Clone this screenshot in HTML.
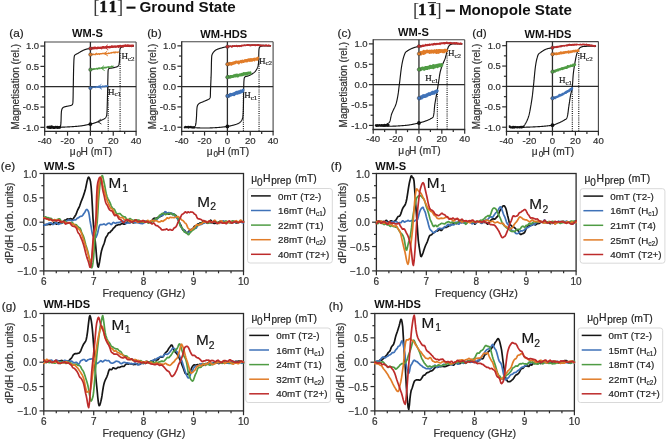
<!DOCTYPE html><html><head><meta charset="utf-8"><style>html,body{margin:0;padding:0;background:#fff;}svg{display:block;will-change:transform;filter:blur(0.3px)} text:not([font-weight="bold"]):not([font-family*="Serif"]){stroke:#2a2a2a;stroke-width:0.2px}</style></head><body><svg width="666" height="440" viewBox="0 0 666 440">
<rect width="666" height="440" fill="#fff"/>
<text x="93.30" y="13.10" font-family='"Liberation Serif", serif' font-size="18.5" fill="#3a3a3a">[</text>
<text x="99.60" y="12.40" font-family='"Liberation Serif", serif' font-weight="bold" font-size="16" fill="#111" stroke="#111" stroke-width="0.55">1</text>
<text x="108.80" y="12.40" font-family='"Liberation Serif", serif' font-weight="bold" font-size="16" fill="#111" stroke="#111" stroke-width="0.55">1</text>
<text x="117.10" y="13.10" font-family='"Liberation Serif", serif' font-size="18.5" fill="#3a3a3a">]</text>
<rect x="126.50" y="6.60" width="9" height="2.1" fill="#111"/>
<text x="139.50" y="12.00" font-family='"Liberation Sans", sans-serif' font-weight="bold" font-size="15.2" fill="#111">Ground State</text>
<text x="413.00" y="15.70" font-family='"Liberation Serif", serif' font-size="18.5" fill="#3a3a3a">[</text>
<text x="418.30" y="15.00" font-family='"Liberation Serif", serif' font-weight="bold" font-size="16" fill="#111" stroke="#111" stroke-width="0.55">1</text>
<text x="428.60" y="15.00" font-family='"Liberation Serif", serif' font-weight="bold" font-size="16" fill="#111" stroke="#111" stroke-width="0.55">1</text>
<text x="435.60" y="15.70" font-family='"Liberation Serif", serif' font-size="18.5" fill="#3a3a3a">]</text>
<rect x="445.90" y="9.60" width="9" height="2.1" fill="#111"/>
<text x="458.90" y="14.60" font-family='"Liberation Sans", sans-serif' font-weight="bold" font-size="15.2" fill="#111">Monopole State</text>
<line x1="427.80" y1="2.60" x2="436.00" y2="2.60" stroke="#333" stroke-width="1.1" />
<line x1="44.70" y1="42.00" x2="136.10" y2="42.00" stroke="#444" stroke-width="1.1" />
<line x1="136.10" y1="42.00" x2="136.10" y2="131.40" stroke="#444" stroke-width="1.1" />
<line x1="44.70" y1="41.45" x2="44.70" y2="132.00" stroke="#2b2b2b" stroke-width="1.3" />
<line x1="44.10" y1="131.40" x2="136.60" y2="131.40" stroke="#2b2b2b" stroke-width="1.3" />
<line x1="44.70" y1="86.70" x2="136.10" y2="86.70" stroke="#2b2b2b" stroke-width="1.3" />
<line x1="90.40" y1="42.00" x2="90.40" y2="131.40" stroke="#2b2b2b" stroke-width="1.3" />
<line x1="40.40" y1="127.34" x2="44.70" y2="127.34" stroke="#2b2b2b" stroke-width="1.2" />
<line x1="42.10" y1="117.18" x2="44.70" y2="117.18" stroke="#2b2b2b" stroke-width="1.2" />
<line x1="40.40" y1="107.02" x2="44.70" y2="107.02" stroke="#2b2b2b" stroke-width="1.2" />
<line x1="42.10" y1="96.86" x2="44.70" y2="96.86" stroke="#2b2b2b" stroke-width="1.2" />
<line x1="40.40" y1="86.70" x2="44.70" y2="86.70" stroke="#2b2b2b" stroke-width="1.2" />
<line x1="42.10" y1="76.54" x2="44.70" y2="76.54" stroke="#2b2b2b" stroke-width="1.2" />
<line x1="40.40" y1="66.38" x2="44.70" y2="66.38" stroke="#2b2b2b" stroke-width="1.2" />
<line x1="42.10" y1="56.22" x2="44.70" y2="56.22" stroke="#2b2b2b" stroke-width="1.2" />
<line x1="40.40" y1="46.06" x2="44.70" y2="46.06" stroke="#2b2b2b" stroke-width="1.2" />
<line x1="44.70" y1="131.40" x2="44.70" y2="135.70" stroke="#2b2b2b" stroke-width="1.2" />
<line x1="56.12" y1="131.40" x2="56.12" y2="134.00" stroke="#2b2b2b" stroke-width="1.2" />
<line x1="67.55" y1="131.40" x2="67.55" y2="135.70" stroke="#2b2b2b" stroke-width="1.2" />
<line x1="78.97" y1="131.40" x2="78.97" y2="134.00" stroke="#2b2b2b" stroke-width="1.2" />
<line x1="90.40" y1="131.40" x2="90.40" y2="135.70" stroke="#2b2b2b" stroke-width="1.2" />
<line x1="101.82" y1="131.40" x2="101.82" y2="134.00" stroke="#2b2b2b" stroke-width="1.2" />
<line x1="113.25" y1="131.40" x2="113.25" y2="135.70" stroke="#2b2b2b" stroke-width="1.2" />
<line x1="124.67" y1="131.40" x2="124.67" y2="134.00" stroke="#2b2b2b" stroke-width="1.2" />
<line x1="136.10" y1="131.40" x2="136.10" y2="135.70" stroke="#2b2b2b" stroke-width="1.2" />
<text x="39.10" y="49.46" font-family='"Liberation Sans", sans-serif' font-size="9.5" font-weight="normal" text-anchor="end" fill="#333" >1.0</text>
<text x="39.10" y="69.78" font-family='"Liberation Sans", sans-serif' font-size="9.5" font-weight="normal" text-anchor="end" fill="#333" >0.5</text>
<text x="39.10" y="90.10" font-family='"Liberation Sans", sans-serif' font-size="9.5" font-weight="normal" text-anchor="end" fill="#333" >0.0</text>
<text x="39.10" y="110.42" font-family='"Liberation Sans", sans-serif' font-size="9.5" font-weight="normal" text-anchor="end" fill="#333" >-0.5</text>
<text x="39.10" y="130.74" font-family='"Liberation Sans", sans-serif' font-size="9.5" font-weight="normal" text-anchor="end" fill="#333" >-1.0</text>
<text x="44.70" y="144.10" font-family='"Liberation Sans", sans-serif' font-size="9.6" font-weight="normal" text-anchor="middle" fill="#333" >-40</text>
<text x="67.55" y="144.10" font-family='"Liberation Sans", sans-serif' font-size="9.6" font-weight="normal" text-anchor="middle" fill="#333" >-20</text>
<text x="90.40" y="144.10" font-family='"Liberation Sans", sans-serif' font-size="9.6" font-weight="normal" text-anchor="middle" fill="#333" >0</text>
<text x="113.25" y="144.10" font-family='"Liberation Sans", sans-serif' font-size="9.6" font-weight="normal" text-anchor="middle" fill="#333" >20</text>
<text x="136.10" y="144.10" font-family='"Liberation Sans", sans-serif' font-size="9.6" font-weight="normal" text-anchor="middle" fill="#333" >40</text>
<text x="69.70" y="155.40" font-family='"Liberation Sans", sans-serif' font-size="10.2" fill="#333">μ</text>
<text x="76.60" y="157.40" font-family='"Liberation Sans", sans-serif' font-size="8.2" fill="#333">0</text>
<text x="80.50" y="155.40" font-family='"Liberation Sans", sans-serif' font-size="10.2" fill="#333">H (mT)</text>
<text transform="translate(18.60,86.70) rotate(-90)" font-family='"Liberation Sans", sans-serif' font-size="10" text-anchor="middle" fill="#333">Magnetisation (rel.)</text>
<line x1="181.70" y1="41.80" x2="273.10" y2="41.80" stroke="#444" stroke-width="1.1" />
<line x1="273.10" y1="41.80" x2="273.10" y2="131.30" stroke="#444" stroke-width="1.1" />
<line x1="181.70" y1="41.25" x2="181.70" y2="131.90" stroke="#2b2b2b" stroke-width="1.3" />
<line x1="181.10" y1="131.30" x2="273.60" y2="131.30" stroke="#2b2b2b" stroke-width="1.3" />
<line x1="181.70" y1="86.55" x2="273.10" y2="86.55" stroke="#2b2b2b" stroke-width="1.3" />
<line x1="227.40" y1="41.80" x2="227.40" y2="131.30" stroke="#2b2b2b" stroke-width="1.3" />
<line x1="177.40" y1="127.23" x2="181.70" y2="127.23" stroke="#2b2b2b" stroke-width="1.2" />
<line x1="179.10" y1="117.06" x2="181.70" y2="117.06" stroke="#2b2b2b" stroke-width="1.2" />
<line x1="177.40" y1="106.89" x2="181.70" y2="106.89" stroke="#2b2b2b" stroke-width="1.2" />
<line x1="179.10" y1="96.72" x2="181.70" y2="96.72" stroke="#2b2b2b" stroke-width="1.2" />
<line x1="177.40" y1="86.55" x2="181.70" y2="86.55" stroke="#2b2b2b" stroke-width="1.2" />
<line x1="179.10" y1="76.38" x2="181.70" y2="76.38" stroke="#2b2b2b" stroke-width="1.2" />
<line x1="177.40" y1="66.21" x2="181.70" y2="66.21" stroke="#2b2b2b" stroke-width="1.2" />
<line x1="179.10" y1="56.04" x2="181.70" y2="56.04" stroke="#2b2b2b" stroke-width="1.2" />
<line x1="177.40" y1="45.87" x2="181.70" y2="45.87" stroke="#2b2b2b" stroke-width="1.2" />
<line x1="181.70" y1="131.30" x2="181.70" y2="135.60" stroke="#2b2b2b" stroke-width="1.2" />
<line x1="193.12" y1="131.30" x2="193.12" y2="133.90" stroke="#2b2b2b" stroke-width="1.2" />
<line x1="204.55" y1="131.30" x2="204.55" y2="135.60" stroke="#2b2b2b" stroke-width="1.2" />
<line x1="215.97" y1="131.30" x2="215.97" y2="133.90" stroke="#2b2b2b" stroke-width="1.2" />
<line x1="227.40" y1="131.30" x2="227.40" y2="135.60" stroke="#2b2b2b" stroke-width="1.2" />
<line x1="238.83" y1="131.30" x2="238.83" y2="133.90" stroke="#2b2b2b" stroke-width="1.2" />
<line x1="250.25" y1="131.30" x2="250.25" y2="135.60" stroke="#2b2b2b" stroke-width="1.2" />
<line x1="261.68" y1="131.30" x2="261.68" y2="133.90" stroke="#2b2b2b" stroke-width="1.2" />
<line x1="273.10" y1="131.30" x2="273.10" y2="135.60" stroke="#2b2b2b" stroke-width="1.2" />
<text x="176.10" y="49.27" font-family='"Liberation Sans", sans-serif' font-size="9.5" font-weight="normal" text-anchor="end" fill="#333" >1.0</text>
<text x="176.10" y="69.61" font-family='"Liberation Sans", sans-serif' font-size="9.5" font-weight="normal" text-anchor="end" fill="#333" >0.5</text>
<text x="176.10" y="89.95" font-family='"Liberation Sans", sans-serif' font-size="9.5" font-weight="normal" text-anchor="end" fill="#333" >0.0</text>
<text x="176.10" y="110.29" font-family='"Liberation Sans", sans-serif' font-size="9.5" font-weight="normal" text-anchor="end" fill="#333" >-0.5</text>
<text x="176.10" y="130.63" font-family='"Liberation Sans", sans-serif' font-size="9.5" font-weight="normal" text-anchor="end" fill="#333" >-1.0</text>
<text x="181.70" y="144.00" font-family='"Liberation Sans", sans-serif' font-size="9.6" font-weight="normal" text-anchor="middle" fill="#333" >-40</text>
<text x="204.55" y="144.00" font-family='"Liberation Sans", sans-serif' font-size="9.6" font-weight="normal" text-anchor="middle" fill="#333" >-20</text>
<text x="227.40" y="144.00" font-family='"Liberation Sans", sans-serif' font-size="9.6" font-weight="normal" text-anchor="middle" fill="#333" >0</text>
<text x="250.25" y="144.00" font-family='"Liberation Sans", sans-serif' font-size="9.6" font-weight="normal" text-anchor="middle" fill="#333" >20</text>
<text x="273.10" y="144.00" font-family='"Liberation Sans", sans-serif' font-size="9.6" font-weight="normal" text-anchor="middle" fill="#333" >40</text>
<text x="206.70" y="155.30" font-family='"Liberation Sans", sans-serif' font-size="10.2" fill="#333">μ</text>
<text x="213.60" y="157.30" font-family='"Liberation Sans", sans-serif' font-size="8.2" fill="#333">0</text>
<text x="217.50" y="155.30" font-family='"Liberation Sans", sans-serif' font-size="10.2" fill="#333">H (mT)</text>
<text transform="translate(155.60,86.55) rotate(-90)" font-family='"Liberation Sans", sans-serif' font-size="10" text-anchor="middle" fill="#333">Magnetisation (rel.)</text>
<line x1="373.20" y1="39.80" x2="464.70" y2="39.80" stroke="#444" stroke-width="1.1" />
<line x1="464.70" y1="39.80" x2="464.70" y2="129.50" stroke="#444" stroke-width="1.1" />
<line x1="373.20" y1="39.25" x2="373.20" y2="130.10" stroke="#2b2b2b" stroke-width="1.3" />
<line x1="372.60" y1="129.50" x2="465.20" y2="129.50" stroke="#2b2b2b" stroke-width="1.3" />
<line x1="373.20" y1="84.65" x2="464.70" y2="84.65" stroke="#2b2b2b" stroke-width="1.3" />
<line x1="418.95" y1="39.80" x2="418.95" y2="129.50" stroke="#2b2b2b" stroke-width="1.3" />
<line x1="368.90" y1="125.42" x2="373.20" y2="125.42" stroke="#2b2b2b" stroke-width="1.2" />
<line x1="370.60" y1="115.23" x2="373.20" y2="115.23" stroke="#2b2b2b" stroke-width="1.2" />
<line x1="368.90" y1="105.04" x2="373.20" y2="105.04" stroke="#2b2b2b" stroke-width="1.2" />
<line x1="370.60" y1="94.84" x2="373.20" y2="94.84" stroke="#2b2b2b" stroke-width="1.2" />
<line x1="368.90" y1="84.65" x2="373.20" y2="84.65" stroke="#2b2b2b" stroke-width="1.2" />
<line x1="370.60" y1="74.46" x2="373.20" y2="74.46" stroke="#2b2b2b" stroke-width="1.2" />
<line x1="368.90" y1="64.26" x2="373.20" y2="64.26" stroke="#2b2b2b" stroke-width="1.2" />
<line x1="370.60" y1="54.07" x2="373.20" y2="54.07" stroke="#2b2b2b" stroke-width="1.2" />
<line x1="368.90" y1="43.88" x2="373.20" y2="43.88" stroke="#2b2b2b" stroke-width="1.2" />
<line x1="373.20" y1="129.50" x2="373.20" y2="133.80" stroke="#2b2b2b" stroke-width="1.2" />
<line x1="384.64" y1="129.50" x2="384.64" y2="132.10" stroke="#2b2b2b" stroke-width="1.2" />
<line x1="396.07" y1="129.50" x2="396.07" y2="133.80" stroke="#2b2b2b" stroke-width="1.2" />
<line x1="407.51" y1="129.50" x2="407.51" y2="132.10" stroke="#2b2b2b" stroke-width="1.2" />
<line x1="418.95" y1="129.50" x2="418.95" y2="133.80" stroke="#2b2b2b" stroke-width="1.2" />
<line x1="430.39" y1="129.50" x2="430.39" y2="132.10" stroke="#2b2b2b" stroke-width="1.2" />
<line x1="441.82" y1="129.50" x2="441.82" y2="133.80" stroke="#2b2b2b" stroke-width="1.2" />
<line x1="453.26" y1="129.50" x2="453.26" y2="132.10" stroke="#2b2b2b" stroke-width="1.2" />
<line x1="464.70" y1="129.50" x2="464.70" y2="133.80" stroke="#2b2b2b" stroke-width="1.2" />
<text x="367.60" y="47.28" font-family='"Liberation Sans", sans-serif' font-size="9.5" font-weight="normal" text-anchor="end" fill="#333" >1.0</text>
<text x="367.60" y="67.66" font-family='"Liberation Sans", sans-serif' font-size="9.5" font-weight="normal" text-anchor="end" fill="#333" >0.5</text>
<text x="367.60" y="88.05" font-family='"Liberation Sans", sans-serif' font-size="9.5" font-weight="normal" text-anchor="end" fill="#333" >0.0</text>
<text x="367.60" y="108.44" font-family='"Liberation Sans", sans-serif' font-size="9.5" font-weight="normal" text-anchor="end" fill="#333" >-0.5</text>
<text x="367.60" y="128.82" font-family='"Liberation Sans", sans-serif' font-size="9.5" font-weight="normal" text-anchor="end" fill="#333" >-1.0</text>
<text x="373.20" y="142.20" font-family='"Liberation Sans", sans-serif' font-size="9.6" font-weight="normal" text-anchor="middle" fill="#333" >-40</text>
<text x="396.07" y="142.20" font-family='"Liberation Sans", sans-serif' font-size="9.6" font-weight="normal" text-anchor="middle" fill="#333" >-20</text>
<text x="418.95" y="142.20" font-family='"Liberation Sans", sans-serif' font-size="9.6" font-weight="normal" text-anchor="middle" fill="#333" >0</text>
<text x="441.82" y="142.20" font-family='"Liberation Sans", sans-serif' font-size="9.6" font-weight="normal" text-anchor="middle" fill="#333" >20</text>
<text x="464.70" y="142.20" font-family='"Liberation Sans", sans-serif' font-size="9.6" font-weight="normal" text-anchor="middle" fill="#333" >40</text>
<text x="398.25" y="153.50" font-family='"Liberation Sans", sans-serif' font-size="10.2" fill="#333">μ</text>
<text x="405.15" y="155.50" font-family='"Liberation Sans", sans-serif' font-size="8.2" fill="#333">0</text>
<text x="409.05" y="153.50" font-family='"Liberation Sans", sans-serif' font-size="10.2" fill="#333">H (mT)</text>
<text transform="translate(347.10,84.65) rotate(-90)" font-family='"Liberation Sans", sans-serif' font-size="10" text-anchor="middle" fill="#333">Magnetisation (rel.)</text>
<line x1="506.50" y1="41.60" x2="598.40" y2="41.60" stroke="#444" stroke-width="1.1" />
<line x1="598.40" y1="41.60" x2="598.40" y2="131.30" stroke="#444" stroke-width="1.1" />
<line x1="506.50" y1="41.05" x2="506.50" y2="131.90" stroke="#2b2b2b" stroke-width="1.3" />
<line x1="505.90" y1="131.30" x2="598.90" y2="131.30" stroke="#2b2b2b" stroke-width="1.3" />
<line x1="506.50" y1="86.45" x2="598.40" y2="86.45" stroke="#2b2b2b" stroke-width="1.3" />
<line x1="552.45" y1="41.60" x2="552.45" y2="131.30" stroke="#2b2b2b" stroke-width="1.3" />
<line x1="502.20" y1="127.22" x2="506.50" y2="127.22" stroke="#2b2b2b" stroke-width="1.2" />
<line x1="503.90" y1="117.03" x2="506.50" y2="117.03" stroke="#2b2b2b" stroke-width="1.2" />
<line x1="502.20" y1="106.84" x2="506.50" y2="106.84" stroke="#2b2b2b" stroke-width="1.2" />
<line x1="503.90" y1="96.64" x2="506.50" y2="96.64" stroke="#2b2b2b" stroke-width="1.2" />
<line x1="502.20" y1="86.45" x2="506.50" y2="86.45" stroke="#2b2b2b" stroke-width="1.2" />
<line x1="503.90" y1="76.26" x2="506.50" y2="76.26" stroke="#2b2b2b" stroke-width="1.2" />
<line x1="502.20" y1="66.06" x2="506.50" y2="66.06" stroke="#2b2b2b" stroke-width="1.2" />
<line x1="503.90" y1="55.87" x2="506.50" y2="55.87" stroke="#2b2b2b" stroke-width="1.2" />
<line x1="502.20" y1="45.68" x2="506.50" y2="45.68" stroke="#2b2b2b" stroke-width="1.2" />
<line x1="506.50" y1="131.30" x2="506.50" y2="135.60" stroke="#2b2b2b" stroke-width="1.2" />
<line x1="517.99" y1="131.30" x2="517.99" y2="133.90" stroke="#2b2b2b" stroke-width="1.2" />
<line x1="529.48" y1="131.30" x2="529.48" y2="135.60" stroke="#2b2b2b" stroke-width="1.2" />
<line x1="540.96" y1="131.30" x2="540.96" y2="133.90" stroke="#2b2b2b" stroke-width="1.2" />
<line x1="552.45" y1="131.30" x2="552.45" y2="135.60" stroke="#2b2b2b" stroke-width="1.2" />
<line x1="563.94" y1="131.30" x2="563.94" y2="133.90" stroke="#2b2b2b" stroke-width="1.2" />
<line x1="575.42" y1="131.30" x2="575.42" y2="135.60" stroke="#2b2b2b" stroke-width="1.2" />
<line x1="586.91" y1="131.30" x2="586.91" y2="133.90" stroke="#2b2b2b" stroke-width="1.2" />
<line x1="598.40" y1="131.30" x2="598.40" y2="135.60" stroke="#2b2b2b" stroke-width="1.2" />
<text x="500.90" y="49.08" font-family='"Liberation Sans", sans-serif' font-size="9.5" font-weight="normal" text-anchor="end" fill="#333" >1.0</text>
<text x="500.90" y="69.46" font-family='"Liberation Sans", sans-serif' font-size="9.5" font-weight="normal" text-anchor="end" fill="#333" >0.5</text>
<text x="500.90" y="89.85" font-family='"Liberation Sans", sans-serif' font-size="9.5" font-weight="normal" text-anchor="end" fill="#333" >0.0</text>
<text x="500.90" y="110.24" font-family='"Liberation Sans", sans-serif' font-size="9.5" font-weight="normal" text-anchor="end" fill="#333" >-0.5</text>
<text x="500.90" y="130.62" font-family='"Liberation Sans", sans-serif' font-size="9.5" font-weight="normal" text-anchor="end" fill="#333" >-1.0</text>
<text x="506.50" y="144.00" font-family='"Liberation Sans", sans-serif' font-size="9.6" font-weight="normal" text-anchor="middle" fill="#333" >-40</text>
<text x="529.48" y="144.00" font-family='"Liberation Sans", sans-serif' font-size="9.6" font-weight="normal" text-anchor="middle" fill="#333" >-20</text>
<text x="552.45" y="144.00" font-family='"Liberation Sans", sans-serif' font-size="9.6" font-weight="normal" text-anchor="middle" fill="#333" >0</text>
<text x="575.42" y="144.00" font-family='"Liberation Sans", sans-serif' font-size="9.6" font-weight="normal" text-anchor="middle" fill="#333" >20</text>
<text x="598.40" y="144.00" font-family='"Liberation Sans", sans-serif' font-size="9.6" font-weight="normal" text-anchor="middle" fill="#333" >40</text>
<text x="531.75" y="155.30" font-family='"Liberation Sans", sans-serif' font-size="10.2" fill="#333">μ</text>
<text x="538.65" y="157.30" font-family='"Liberation Sans", sans-serif' font-size="8.2" fill="#333">0</text>
<text x="542.55" y="155.30" font-family='"Liberation Sans", sans-serif' font-size="10.2" fill="#333">H (mT)</text>
<text transform="translate(480.40,86.45) rotate(-90)" font-family='"Liberation Sans", sans-serif' font-size="10" text-anchor="middle" fill="#333">Magnetisation (rel.)</text>
<rect x="43.80" y="173.50" width="199.70" height="97.40" fill="none" stroke="#2b2b2b" stroke-width="1.3"/>
<line x1="39.50" y1="270.90" x2="43.80" y2="270.90" stroke="#2b2b2b" stroke-width="1.2" />
<line x1="41.40" y1="258.72" x2="43.80" y2="258.72" stroke="#2b2b2b" stroke-width="1.2" />
<line x1="39.50" y1="246.55" x2="43.80" y2="246.55" stroke="#2b2b2b" stroke-width="1.2" />
<line x1="41.40" y1="234.38" x2="43.80" y2="234.38" stroke="#2b2b2b" stroke-width="1.2" />
<line x1="39.50" y1="222.20" x2="43.80" y2="222.20" stroke="#2b2b2b" stroke-width="1.2" />
<line x1="41.40" y1="210.02" x2="43.80" y2="210.02" stroke="#2b2b2b" stroke-width="1.2" />
<line x1="39.50" y1="197.85" x2="43.80" y2="197.85" stroke="#2b2b2b" stroke-width="1.2" />
<line x1="41.40" y1="185.68" x2="43.80" y2="185.68" stroke="#2b2b2b" stroke-width="1.2" />
<line x1="39.50" y1="173.50" x2="43.80" y2="173.50" stroke="#2b2b2b" stroke-width="1.2" />
<line x1="43.80" y1="270.90" x2="43.80" y2="275.20" stroke="#2b2b2b" stroke-width="1.2" />
<line x1="56.28" y1="270.90" x2="56.28" y2="273.30" stroke="#2b2b2b" stroke-width="1.2" />
<line x1="68.76" y1="270.90" x2="68.76" y2="273.30" stroke="#2b2b2b" stroke-width="1.2" />
<line x1="81.24" y1="270.90" x2="81.24" y2="273.30" stroke="#2b2b2b" stroke-width="1.2" />
<line x1="93.72" y1="270.90" x2="93.72" y2="275.20" stroke="#2b2b2b" stroke-width="1.2" />
<line x1="106.21" y1="270.90" x2="106.21" y2="273.30" stroke="#2b2b2b" stroke-width="1.2" />
<line x1="118.69" y1="270.90" x2="118.69" y2="273.30" stroke="#2b2b2b" stroke-width="1.2" />
<line x1="131.17" y1="270.90" x2="131.17" y2="273.30" stroke="#2b2b2b" stroke-width="1.2" />
<line x1="143.65" y1="270.90" x2="143.65" y2="275.20" stroke="#2b2b2b" stroke-width="1.2" />
<line x1="156.13" y1="270.90" x2="156.13" y2="273.30" stroke="#2b2b2b" stroke-width="1.2" />
<line x1="168.61" y1="270.90" x2="168.61" y2="273.30" stroke="#2b2b2b" stroke-width="1.2" />
<line x1="181.09" y1="270.90" x2="181.09" y2="273.30" stroke="#2b2b2b" stroke-width="1.2" />
<line x1="193.57" y1="270.90" x2="193.57" y2="275.20" stroke="#2b2b2b" stroke-width="1.2" />
<line x1="206.06" y1="270.90" x2="206.06" y2="273.30" stroke="#2b2b2b" stroke-width="1.2" />
<line x1="218.54" y1="270.90" x2="218.54" y2="273.30" stroke="#2b2b2b" stroke-width="1.2" />
<line x1="231.02" y1="270.90" x2="231.02" y2="273.30" stroke="#2b2b2b" stroke-width="1.2" />
<line x1="243.50" y1="270.90" x2="243.50" y2="275.20" stroke="#2b2b2b" stroke-width="1.2" />
<text x="37.20" y="177.50" font-family='"Liberation Sans", sans-serif' font-size="10" font-weight="normal" text-anchor="end" fill="#333" >1.0</text>
<text x="37.20" y="201.85" font-family='"Liberation Sans", sans-serif' font-size="10" font-weight="normal" text-anchor="end" fill="#333" >0.5</text>
<text x="37.20" y="226.20" font-family='"Liberation Sans", sans-serif' font-size="10" font-weight="normal" text-anchor="end" fill="#333" >0.0</text>
<text x="37.20" y="250.55" font-family='"Liberation Sans", sans-serif' font-size="10" font-weight="normal" text-anchor="end" fill="#333" >−0.5</text>
<text x="37.20" y="274.90" font-family='"Liberation Sans", sans-serif' font-size="10" font-weight="normal" text-anchor="end" fill="#333" >−1.0</text>
<text x="43.80" y="285.30" font-family='"Liberation Sans", sans-serif' font-size="10" font-weight="normal" text-anchor="middle" fill="#333" >6</text>
<text x="93.72" y="285.30" font-family='"Liberation Sans", sans-serif' font-size="10" font-weight="normal" text-anchor="middle" fill="#333" >7</text>
<text x="143.65" y="285.30" font-family='"Liberation Sans", sans-serif' font-size="10" font-weight="normal" text-anchor="middle" fill="#333" >8</text>
<text x="193.57" y="285.30" font-family='"Liberation Sans", sans-serif' font-size="10" font-weight="normal" text-anchor="middle" fill="#333" >9</text>
<text x="243.50" y="285.30" font-family='"Liberation Sans", sans-serif' font-size="10" font-weight="normal" text-anchor="middle" fill="#333" >10</text>
<text x="143.85" y="296.90" font-family='"Liberation Sans", sans-serif' font-size="10.8" font-weight="normal" text-anchor="middle" fill="#333" >Frequency (GHz)</text>
<text transform="translate(13.00,223.00) rotate(-90)" font-family='"Liberation Sans", sans-serif' font-size="10.35" text-anchor="middle" fill="#333">dP/dH (arb. units)</text>
<rect x="376.40" y="173.50" width="199.70" height="97.40" fill="none" stroke="#2b2b2b" stroke-width="1.3"/>
<line x1="372.10" y1="270.90" x2="376.40" y2="270.90" stroke="#2b2b2b" stroke-width="1.2" />
<line x1="374.00" y1="258.72" x2="376.40" y2="258.72" stroke="#2b2b2b" stroke-width="1.2" />
<line x1="372.10" y1="246.55" x2="376.40" y2="246.55" stroke="#2b2b2b" stroke-width="1.2" />
<line x1="374.00" y1="234.38" x2="376.40" y2="234.38" stroke="#2b2b2b" stroke-width="1.2" />
<line x1="372.10" y1="222.20" x2="376.40" y2="222.20" stroke="#2b2b2b" stroke-width="1.2" />
<line x1="374.00" y1="210.02" x2="376.40" y2="210.02" stroke="#2b2b2b" stroke-width="1.2" />
<line x1="372.10" y1="197.85" x2="376.40" y2="197.85" stroke="#2b2b2b" stroke-width="1.2" />
<line x1="374.00" y1="185.68" x2="376.40" y2="185.68" stroke="#2b2b2b" stroke-width="1.2" />
<line x1="372.10" y1="173.50" x2="376.40" y2="173.50" stroke="#2b2b2b" stroke-width="1.2" />
<line x1="376.40" y1="270.90" x2="376.40" y2="275.20" stroke="#2b2b2b" stroke-width="1.2" />
<line x1="388.88" y1="270.90" x2="388.88" y2="273.30" stroke="#2b2b2b" stroke-width="1.2" />
<line x1="401.36" y1="270.90" x2="401.36" y2="273.30" stroke="#2b2b2b" stroke-width="1.2" />
<line x1="413.84" y1="270.90" x2="413.84" y2="273.30" stroke="#2b2b2b" stroke-width="1.2" />
<line x1="426.32" y1="270.90" x2="426.32" y2="275.20" stroke="#2b2b2b" stroke-width="1.2" />
<line x1="438.81" y1="270.90" x2="438.81" y2="273.30" stroke="#2b2b2b" stroke-width="1.2" />
<line x1="451.29" y1="270.90" x2="451.29" y2="273.30" stroke="#2b2b2b" stroke-width="1.2" />
<line x1="463.77" y1="270.90" x2="463.77" y2="273.30" stroke="#2b2b2b" stroke-width="1.2" />
<line x1="476.25" y1="270.90" x2="476.25" y2="275.20" stroke="#2b2b2b" stroke-width="1.2" />
<line x1="488.73" y1="270.90" x2="488.73" y2="273.30" stroke="#2b2b2b" stroke-width="1.2" />
<line x1="501.21" y1="270.90" x2="501.21" y2="273.30" stroke="#2b2b2b" stroke-width="1.2" />
<line x1="513.69" y1="270.90" x2="513.69" y2="273.30" stroke="#2b2b2b" stroke-width="1.2" />
<line x1="526.17" y1="270.90" x2="526.17" y2="275.20" stroke="#2b2b2b" stroke-width="1.2" />
<line x1="538.66" y1="270.90" x2="538.66" y2="273.30" stroke="#2b2b2b" stroke-width="1.2" />
<line x1="551.14" y1="270.90" x2="551.14" y2="273.30" stroke="#2b2b2b" stroke-width="1.2" />
<line x1="563.62" y1="270.90" x2="563.62" y2="273.30" stroke="#2b2b2b" stroke-width="1.2" />
<line x1="576.10" y1="270.90" x2="576.10" y2="275.20" stroke="#2b2b2b" stroke-width="1.2" />
<text x="369.80" y="177.50" font-family='"Liberation Sans", sans-serif' font-size="10" font-weight="normal" text-anchor="end" fill="#333" >1.0</text>
<text x="369.80" y="201.85" font-family='"Liberation Sans", sans-serif' font-size="10" font-weight="normal" text-anchor="end" fill="#333" >0.5</text>
<text x="369.80" y="226.20" font-family='"Liberation Sans", sans-serif' font-size="10" font-weight="normal" text-anchor="end" fill="#333" >0.0</text>
<text x="369.80" y="250.55" font-family='"Liberation Sans", sans-serif' font-size="10" font-weight="normal" text-anchor="end" fill="#333" >−0.5</text>
<text x="369.80" y="274.90" font-family='"Liberation Sans", sans-serif' font-size="10" font-weight="normal" text-anchor="end" fill="#333" >−1.0</text>
<text x="376.40" y="285.30" font-family='"Liberation Sans", sans-serif' font-size="10" font-weight="normal" text-anchor="middle" fill="#333" >6</text>
<text x="426.32" y="285.30" font-family='"Liberation Sans", sans-serif' font-size="10" font-weight="normal" text-anchor="middle" fill="#333" >7</text>
<text x="476.25" y="285.30" font-family='"Liberation Sans", sans-serif' font-size="10" font-weight="normal" text-anchor="middle" fill="#333" >8</text>
<text x="526.17" y="285.30" font-family='"Liberation Sans", sans-serif' font-size="10" font-weight="normal" text-anchor="middle" fill="#333" >9</text>
<text x="576.10" y="285.30" font-family='"Liberation Sans", sans-serif' font-size="10" font-weight="normal" text-anchor="middle" fill="#333" >10</text>
<text x="476.45" y="296.90" font-family='"Liberation Sans", sans-serif' font-size="10.8" font-weight="normal" text-anchor="middle" fill="#333" >Frequency (GHz)</text>
<text transform="translate(345.60,223.00) rotate(-90)" font-family='"Liberation Sans", sans-serif' font-size="10.35" text-anchor="middle" fill="#333">dP/dH (arb. units)</text>
<rect x="43.80" y="313.50" width="199.70" height="97.40" fill="none" stroke="#2b2b2b" stroke-width="1.3"/>
<line x1="39.50" y1="410.90" x2="43.80" y2="410.90" stroke="#2b2b2b" stroke-width="1.2" />
<line x1="41.40" y1="398.72" x2="43.80" y2="398.72" stroke="#2b2b2b" stroke-width="1.2" />
<line x1="39.50" y1="386.55" x2="43.80" y2="386.55" stroke="#2b2b2b" stroke-width="1.2" />
<line x1="41.40" y1="374.38" x2="43.80" y2="374.38" stroke="#2b2b2b" stroke-width="1.2" />
<line x1="39.50" y1="362.20" x2="43.80" y2="362.20" stroke="#2b2b2b" stroke-width="1.2" />
<line x1="41.40" y1="350.02" x2="43.80" y2="350.02" stroke="#2b2b2b" stroke-width="1.2" />
<line x1="39.50" y1="337.85" x2="43.80" y2="337.85" stroke="#2b2b2b" stroke-width="1.2" />
<line x1="41.40" y1="325.68" x2="43.80" y2="325.68" stroke="#2b2b2b" stroke-width="1.2" />
<line x1="39.50" y1="313.50" x2="43.80" y2="313.50" stroke="#2b2b2b" stroke-width="1.2" />
<line x1="43.80" y1="410.90" x2="43.80" y2="415.20" stroke="#2b2b2b" stroke-width="1.2" />
<line x1="56.28" y1="410.90" x2="56.28" y2="413.30" stroke="#2b2b2b" stroke-width="1.2" />
<line x1="68.76" y1="410.90" x2="68.76" y2="413.30" stroke="#2b2b2b" stroke-width="1.2" />
<line x1="81.24" y1="410.90" x2="81.24" y2="413.30" stroke="#2b2b2b" stroke-width="1.2" />
<line x1="93.72" y1="410.90" x2="93.72" y2="415.20" stroke="#2b2b2b" stroke-width="1.2" />
<line x1="106.21" y1="410.90" x2="106.21" y2="413.30" stroke="#2b2b2b" stroke-width="1.2" />
<line x1="118.69" y1="410.90" x2="118.69" y2="413.30" stroke="#2b2b2b" stroke-width="1.2" />
<line x1="131.17" y1="410.90" x2="131.17" y2="413.30" stroke="#2b2b2b" stroke-width="1.2" />
<line x1="143.65" y1="410.90" x2="143.65" y2="415.20" stroke="#2b2b2b" stroke-width="1.2" />
<line x1="156.13" y1="410.90" x2="156.13" y2="413.30" stroke="#2b2b2b" stroke-width="1.2" />
<line x1="168.61" y1="410.90" x2="168.61" y2="413.30" stroke="#2b2b2b" stroke-width="1.2" />
<line x1="181.09" y1="410.90" x2="181.09" y2="413.30" stroke="#2b2b2b" stroke-width="1.2" />
<line x1="193.57" y1="410.90" x2="193.57" y2="415.20" stroke="#2b2b2b" stroke-width="1.2" />
<line x1="206.06" y1="410.90" x2="206.06" y2="413.30" stroke="#2b2b2b" stroke-width="1.2" />
<line x1="218.54" y1="410.90" x2="218.54" y2="413.30" stroke="#2b2b2b" stroke-width="1.2" />
<line x1="231.02" y1="410.90" x2="231.02" y2="413.30" stroke="#2b2b2b" stroke-width="1.2" />
<line x1="243.50" y1="410.90" x2="243.50" y2="415.20" stroke="#2b2b2b" stroke-width="1.2" />
<text x="37.20" y="317.50" font-family='"Liberation Sans", sans-serif' font-size="10" font-weight="normal" text-anchor="end" fill="#333" >1.0</text>
<text x="37.20" y="341.85" font-family='"Liberation Sans", sans-serif' font-size="10" font-weight="normal" text-anchor="end" fill="#333" >0.5</text>
<text x="37.20" y="366.20" font-family='"Liberation Sans", sans-serif' font-size="10" font-weight="normal" text-anchor="end" fill="#333" >0.0</text>
<text x="37.20" y="390.55" font-family='"Liberation Sans", sans-serif' font-size="10" font-weight="normal" text-anchor="end" fill="#333" >−0.5</text>
<text x="37.20" y="414.90" font-family='"Liberation Sans", sans-serif' font-size="10" font-weight="normal" text-anchor="end" fill="#333" >−1.0</text>
<text x="43.80" y="425.30" font-family='"Liberation Sans", sans-serif' font-size="10" font-weight="normal" text-anchor="middle" fill="#333" >6</text>
<text x="93.72" y="425.30" font-family='"Liberation Sans", sans-serif' font-size="10" font-weight="normal" text-anchor="middle" fill="#333" >7</text>
<text x="143.65" y="425.30" font-family='"Liberation Sans", sans-serif' font-size="10" font-weight="normal" text-anchor="middle" fill="#333" >8</text>
<text x="193.57" y="425.30" font-family='"Liberation Sans", sans-serif' font-size="10" font-weight="normal" text-anchor="middle" fill="#333" >9</text>
<text x="243.50" y="425.30" font-family='"Liberation Sans", sans-serif' font-size="10" font-weight="normal" text-anchor="middle" fill="#333" >10</text>
<text x="143.85" y="436.90" font-family='"Liberation Sans", sans-serif' font-size="10.8" font-weight="normal" text-anchor="middle" fill="#333" >Frequency (GHz)</text>
<text transform="translate(13.00,363.00) rotate(-90)" font-family='"Liberation Sans", sans-serif' font-size="10.35" text-anchor="middle" fill="#333">dP/dH (arb. units)</text>
<rect x="374.80" y="313.50" width="199.60" height="97.40" fill="none" stroke="#2b2b2b" stroke-width="1.3"/>
<line x1="370.50" y1="410.90" x2="374.80" y2="410.90" stroke="#2b2b2b" stroke-width="1.2" />
<line x1="372.40" y1="398.72" x2="374.80" y2="398.72" stroke="#2b2b2b" stroke-width="1.2" />
<line x1="370.50" y1="386.55" x2="374.80" y2="386.55" stroke="#2b2b2b" stroke-width="1.2" />
<line x1="372.40" y1="374.38" x2="374.80" y2="374.38" stroke="#2b2b2b" stroke-width="1.2" />
<line x1="370.50" y1="362.20" x2="374.80" y2="362.20" stroke="#2b2b2b" stroke-width="1.2" />
<line x1="372.40" y1="350.02" x2="374.80" y2="350.02" stroke="#2b2b2b" stroke-width="1.2" />
<line x1="370.50" y1="337.85" x2="374.80" y2="337.85" stroke="#2b2b2b" stroke-width="1.2" />
<line x1="372.40" y1="325.68" x2="374.80" y2="325.68" stroke="#2b2b2b" stroke-width="1.2" />
<line x1="370.50" y1="313.50" x2="374.80" y2="313.50" stroke="#2b2b2b" stroke-width="1.2" />
<line x1="374.80" y1="410.90" x2="374.80" y2="415.20" stroke="#2b2b2b" stroke-width="1.2" />
<line x1="387.28" y1="410.90" x2="387.28" y2="413.30" stroke="#2b2b2b" stroke-width="1.2" />
<line x1="399.75" y1="410.90" x2="399.75" y2="413.30" stroke="#2b2b2b" stroke-width="1.2" />
<line x1="412.23" y1="410.90" x2="412.23" y2="413.30" stroke="#2b2b2b" stroke-width="1.2" />
<line x1="424.70" y1="410.90" x2="424.70" y2="415.20" stroke="#2b2b2b" stroke-width="1.2" />
<line x1="437.18" y1="410.90" x2="437.18" y2="413.30" stroke="#2b2b2b" stroke-width="1.2" />
<line x1="449.65" y1="410.90" x2="449.65" y2="413.30" stroke="#2b2b2b" stroke-width="1.2" />
<line x1="462.12" y1="410.90" x2="462.12" y2="413.30" stroke="#2b2b2b" stroke-width="1.2" />
<line x1="474.60" y1="410.90" x2="474.60" y2="415.20" stroke="#2b2b2b" stroke-width="1.2" />
<line x1="487.07" y1="410.90" x2="487.07" y2="413.30" stroke="#2b2b2b" stroke-width="1.2" />
<line x1="499.55" y1="410.90" x2="499.55" y2="413.30" stroke="#2b2b2b" stroke-width="1.2" />
<line x1="512.02" y1="410.90" x2="512.02" y2="413.30" stroke="#2b2b2b" stroke-width="1.2" />
<line x1="524.50" y1="410.90" x2="524.50" y2="415.20" stroke="#2b2b2b" stroke-width="1.2" />
<line x1="536.98" y1="410.90" x2="536.98" y2="413.30" stroke="#2b2b2b" stroke-width="1.2" />
<line x1="549.45" y1="410.90" x2="549.45" y2="413.30" stroke="#2b2b2b" stroke-width="1.2" />
<line x1="561.92" y1="410.90" x2="561.92" y2="413.30" stroke="#2b2b2b" stroke-width="1.2" />
<line x1="574.40" y1="410.90" x2="574.40" y2="415.20" stroke="#2b2b2b" stroke-width="1.2" />
<text x="368.20" y="317.50" font-family='"Liberation Sans", sans-serif' font-size="10" font-weight="normal" text-anchor="end" fill="#333" >1.0</text>
<text x="368.20" y="341.85" font-family='"Liberation Sans", sans-serif' font-size="10" font-weight="normal" text-anchor="end" fill="#333" >0.5</text>
<text x="368.20" y="366.20" font-family='"Liberation Sans", sans-serif' font-size="10" font-weight="normal" text-anchor="end" fill="#333" >0.0</text>
<text x="368.20" y="390.55" font-family='"Liberation Sans", sans-serif' font-size="10" font-weight="normal" text-anchor="end" fill="#333" >−0.5</text>
<text x="368.20" y="414.90" font-family='"Liberation Sans", sans-serif' font-size="10" font-weight="normal" text-anchor="end" fill="#333" >−1.0</text>
<text x="374.80" y="425.30" font-family='"Liberation Sans", sans-serif' font-size="10" font-weight="normal" text-anchor="middle" fill="#333" >6</text>
<text x="424.70" y="425.30" font-family='"Liberation Sans", sans-serif' font-size="10" font-weight="normal" text-anchor="middle" fill="#333" >7</text>
<text x="474.60" y="425.30" font-family='"Liberation Sans", sans-serif' font-size="10" font-weight="normal" text-anchor="middle" fill="#333" >8</text>
<text x="524.50" y="425.30" font-family='"Liberation Sans", sans-serif' font-size="10" font-weight="normal" text-anchor="middle" fill="#333" >9</text>
<text x="574.40" y="425.30" font-family='"Liberation Sans", sans-serif' font-size="10" font-weight="normal" text-anchor="middle" fill="#333" >10</text>
<text x="474.80" y="436.90" font-family='"Liberation Sans", sans-serif' font-size="10.8" font-weight="normal" text-anchor="middle" fill="#333" >Frequency (GHz)</text>
<text transform="translate(344.00,363.00) rotate(-90)" font-family='"Liberation Sans", sans-serif' font-size="10.35" text-anchor="middle" fill="#333">dP/dH (arb. units)</text>
<text x="9.30" y="36.60" font-family='"Liberation Sans", sans-serif' font-size="11.8" font-weight="normal" text-anchor="start" fill="#222" >(a)</text>
<text x="147.20" y="36.60" font-family='"Liberation Sans", sans-serif' font-size="11.8" font-weight="normal" text-anchor="start" fill="#222" >(b)</text>
<text x="337.50" y="36.60" font-family='"Liberation Sans", sans-serif' font-size="11.8" font-weight="normal" text-anchor="start" fill="#222" >(c)</text>
<text x="472.30" y="36.60" font-family='"Liberation Sans", sans-serif' font-size="11.8" font-weight="normal" text-anchor="start" fill="#222" >(d)</text>
<text x="0.80" y="169.80" font-family='"Liberation Sans", sans-serif' font-size="11.8" font-weight="normal" text-anchor="start" fill="#222" >(e)</text>
<text x="330.80" y="169.80" font-family='"Liberation Sans", sans-serif' font-size="11.8" font-weight="normal" text-anchor="start" fill="#222" >(f)</text>
<text x="1.80" y="309.80" font-family='"Liberation Sans", sans-serif' font-size="11.8" font-weight="normal" text-anchor="start" fill="#222" >(g)</text>
<text x="328.80" y="309.80" font-family='"Liberation Sans", sans-serif' font-size="11.8" font-weight="normal" text-anchor="start" fill="#222" >(h)</text>
<text x="72.00" y="36.80" font-family='"Liberation Sans", sans-serif' font-size="11.1" font-weight="bold" text-anchor="start" fill="#111" >WM-S</text>
<text x="200.30" y="37.60" font-family='"Liberation Sans", sans-serif' font-size="11.1" font-weight="bold" text-anchor="start" fill="#111" >WM-HDS</text>
<text x="398.00" y="36.30" font-family='"Liberation Sans", sans-serif' font-size="11.1" font-weight="bold" text-anchor="start" fill="#111" >WM-S</text>
<text x="524.50" y="37.90" font-family='"Liberation Sans", sans-serif' font-size="11.1" font-weight="bold" text-anchor="start" fill="#111" >WM-HDS</text>
<text x="44.00" y="170.00" font-family='"Liberation Sans", sans-serif' font-size="11.1" font-weight="bold" text-anchor="start" fill="#111" >WM-S</text>
<text x="375.30" y="170.00" font-family='"Liberation Sans", sans-serif' font-size="11.1" font-weight="bold" text-anchor="start" fill="#111" >WM-S</text>
<text x="43.40" y="308.30" font-family='"Liberation Sans", sans-serif' font-size="11.1" font-weight="bold" text-anchor="start" fill="#111" >WM-HDS</text>
<text x="374.20" y="308.30" font-family='"Liberation Sans", sans-serif' font-size="11.1" font-weight="bold" text-anchor="start" fill="#111" >WM-HDS</text>
<line x1="108.22" y1="131.40" x2="108.22" y2="86.70" stroke="#111" stroke-width="1.15" stroke-dasharray="1 1.15"/>
<line x1="120.10" y1="131.40" x2="120.10" y2="52.16" stroke="#111" stroke-width="1.15" stroke-dasharray="1 1.15"/>
<path d="M133.81,45.66 L133.43,45.67 L133.05,45.69 L132.67,45.70 L132.28,45.72 L131.90,45.74 L131.52,45.75 L131.13,45.77 L130.75,45.79 L130.37,45.80 L129.98,45.82 L129.60,45.84 L129.22,45.85 L128.84,45.87 L128.45,45.89 L128.07,45.90 L127.69,45.92 L127.30,45.94 L126.92,45.96 L126.54,45.98 L126.16,45.99 L125.77,46.01 L125.39,46.03 L125.01,46.05 L124.62,46.07 L124.24,46.08 L123.86,46.10 L123.47,46.12 L123.09,46.14 L122.71,46.16 L122.33,46.18 L121.94,46.19 L121.56,46.21 L121.18,46.23 L120.79,46.25 L120.41,46.27 L120.03,46.29 L119.64,46.31 L119.26,46.33 L118.88,46.35 L118.50,46.37 L118.11,46.39 L117.73,46.41 L117.35,46.43 L116.96,46.45 L116.58,46.47 L116.20,46.49 L115.82,46.51 L115.43,46.54 L115.05,46.56 L114.67,46.58 L114.29,46.61 L113.90,46.63 L113.52,46.66 L113.14,46.68 L112.76,46.71 L112.37,46.74 L111.99,46.76 L111.61,46.79 L111.23,46.83 L110.85,46.86 L110.46,46.89 L110.08,46.92 L109.70,46.96 L109.32,46.99 L108.94,47.03 L108.56,47.07 L108.17,47.10 L107.79,47.14 L107.41,47.18 L107.03,47.21 L106.65,47.25 L106.27,47.29 L105.88,47.32 L105.50,47.36 L105.12,47.40 L104.74,47.43 L104.36,47.47 L103.98,47.50 L103.59,47.54 L103.21,47.57 L102.83,47.61 L102.45,47.64 L102.07,47.67 L101.68,47.70 L101.30,47.73 L100.92,47.76 L100.54,47.78 L100.15,47.81 L99.77,47.83 L99.39,47.86 L99.00,47.88 L98.62,47.91 L98.24,47.93 L97.85,47.95 L97.47,47.97 L97.09,48.00 L96.70,48.02 L96.32,48.04 L95.94,48.06 L95.55,48.09 L95.17,48.11 L94.79,48.14 L94.41,48.16 L94.02,48.19 L93.64,48.21 L93.26,48.24 L92.88,48.27 L92.50,48.30 L92.11,48.34 L91.73,48.37 L91.35,48.40 L90.97,48.44 L90.59,48.48 L90.21,48.52 L89.83,48.57 L89.45,48.62 L89.07,48.67 L88.69,48.73 L88.30,48.79 L87.92,48.86 L87.54,48.93 L87.17,49.01 L86.79,49.09 L86.42,49.17 L86.05,49.26 L85.69,49.35 L85.33,49.46 L84.97,49.58 L84.61,49.71 L84.26,49.86 L83.90,50.01 L83.55,50.18 L83.20,50.34 L82.86,50.52 L82.51,50.70 L82.17,50.87 L81.83,51.05 L81.48,51.23 L81.14,51.41 L80.81,51.59 L80.48,51.78 L80.15,51.97 L79.82,52.17 L79.49,52.37 L79.17,52.58 L78.84,52.78 L78.51,52.98 L78.18,53.18 L77.85,53.37 L77.51,53.55 L77.16,53.72 L76.81,53.89 L76.46,54.05 L76.12,54.23 L75.79,54.43 L75.49,54.64 L75.17,54.89 L74.85,55.16 L74.58,55.46 L74.42,55.76 L74.35,56.08 L74.29,56.42 L74.23,56.76 L74.18,57.12 L74.13,57.49 L74.09,57.87 L74.06,58.26 L74.02,58.65 L73.99,59.05 L73.97,59.45 L73.94,59.85 L73.92,60.26 L73.90,60.66 L73.89,61.06 L73.87,61.46 L73.85,61.86 L73.84,62.24 L73.82,62.63 L73.81,63.01 L73.79,63.39 L73.78,63.77 L73.76,64.16 L73.75,64.54 L73.73,64.92 L73.72,65.31 L73.71,65.69 L73.70,66.07 L73.68,66.45 L73.67,66.84 L73.66,67.22 L73.65,67.60 L73.64,67.99 L73.63,68.37 L73.62,68.75 L73.61,69.14 L73.60,69.52 L73.59,69.90 L73.58,70.29 L73.57,70.67 L73.56,71.05 L73.55,71.44 L73.55,71.82 L73.54,72.20 L73.53,72.59 L73.52,72.97 L73.51,73.35 L73.51,73.74 L73.50,74.12 L73.49,74.50 L73.48,74.89 L73.48,75.27 L73.47,75.65 L73.46,76.04 L73.46,76.42 L73.45,76.80 L73.44,77.19 L73.44,77.57 L73.43,77.95 L73.42,78.34 L73.42,78.72 L73.41,79.10 L73.40,79.49 L73.40,79.87 L73.39,80.25 L73.38,80.64 L73.37,81.02 L73.37,81.41 L73.36,81.79 L73.35,82.17 L73.35,82.56 L73.34,82.94 L73.33,83.32 L73.33,83.71 L73.32,84.09 L73.31,84.47 L73.30,84.86 L73.29,85.24 L73.29,85.62 L73.28,86.01 L73.27,86.39 L73.26,86.77 L73.25,87.16 L73.24,87.54 L73.24,87.92 L73.23,88.31 L73.22,88.69 L73.22,89.08 L73.21,89.46 L73.21,89.85 L73.20,90.23 L73.20,90.62 L73.19,91.00 L73.19,91.39 L73.18,91.77 L73.18,92.16 L73.17,92.54 L73.17,92.93 L73.16,93.31 L73.16,93.70 L73.15,94.09 L73.14,94.47 L73.14,94.85 L73.13,95.24 L73.13,95.62 L73.12,96.01 L73.11,96.39 L73.10,96.78 L73.10,97.16 L73.09,97.54 L73.08,97.92 L73.07,98.31 L73.06,98.69 L73.04,99.07 L73.03,99.45 L73.02,99.83 L73.01,100.21 L72.99,100.59 L72.97,100.97 L72.96,101.35 L72.94,101.73 L72.92,102.10 L72.89,102.49 L72.84,102.90 L72.77,103.32 L72.68,103.72 L72.56,104.08 L72.44,104.41 L72.28,104.67 L72.02,104.90 L71.66,105.11 L71.27,105.28 L70.90,105.42 L70.55,105.54 L70.19,105.64 L69.81,105.73 L69.44,105.81 L69.06,105.89 L68.68,105.97 L68.30,106.04 L67.92,106.12 L67.54,106.21 L67.16,106.29 L66.78,106.37 L66.40,106.44 L66.01,106.52 L65.63,106.60 L65.26,106.68 L64.89,106.77 L64.53,106.88 L64.18,107.00 L63.83,107.14 L63.47,107.33 L63.12,107.55 L62.81,107.80 L62.54,108.06 L62.35,108.33 L62.18,108.64 L62.03,108.98 L61.89,109.35 L61.77,109.74 L61.67,110.13 L61.58,110.53 L61.52,110.91 L61.47,111.29 L61.43,111.66 L61.40,112.04 L61.36,112.42 L61.34,112.80 L61.31,113.19 L61.28,113.57 L61.26,113.96 L61.24,114.35 L61.23,114.74 L61.21,115.13 L61.20,115.52 L61.18,115.92 L61.17,116.31 L61.16,116.70 L61.15,117.10 L61.14,117.49 L61.13,117.89 L61.12,118.28 L61.11,118.67 L61.10,119.07 L61.09,119.46 L61.08,119.85 L61.07,120.24 L61.05,120.63 L61.04,121.01 L61.02,121.40 L61.00,121.78 L60.98,122.16 L60.96,122.53 L60.94,122.91 L60.91,123.28 L60.88,123.65 L60.85,124.02 L60.81,124.38 L60.77,124.74 L60.72,125.09 L60.67,125.45 L60.55,125.83 L60.37,126.22 L60.15,126.57 L59.90,126.84 L59.63,127.02 L59.28,127.16 L58.88,127.28 L58.48,127.33 L58.11,127.34 L57.74,127.34 L57.36,127.34 L56.99,127.34 L56.61,127.34 L56.24,127.34 L55.86,127.34 L55.48,127.34 L55.11,127.34 L54.73,127.34 L54.35,127.34 L53.97,127.34 L53.59,127.34 L53.21,127.34 L52.83,127.34 L52.44,127.34 L52.06,127.34 L51.67,127.34 L51.29,127.34 L50.90,127.34 L50.52,127.34 L50.13,127.34 L49.74,127.34 L49.35,127.34 L48.96,127.34 L48.57,127.34 L48.17,127.34 L47.78,127.34 L47.38,127.34 L46.98,127.34" fill="none" stroke="#151515" stroke-width="1.15" stroke-linejoin="round"/>
<path d="M46.98,127.34 L47.36,127.34 L47.74,127.34 L48.12,127.34 L48.50,127.34 L48.88,127.34 L49.26,127.34 L49.64,127.34 L50.02,127.34 L50.40,127.34 L50.78,127.34 L51.16,127.34 L51.54,127.34 L51.92,127.34 L52.30,127.34 L52.68,127.34 L53.06,127.34 L53.44,127.34 L53.82,127.34 L54.20,127.34 L54.58,127.34 L54.96,127.34 L55.34,127.34 L55.72,127.34 L56.10,127.34 L56.48,127.34 L56.86,127.33 L57.23,127.33 L57.61,127.33 L57.99,127.32 L58.37,127.31 L58.75,127.30 L59.13,127.29 L59.51,127.28 L59.89,127.27 L60.27,127.26 L60.65,127.25 L61.03,127.23 L61.41,127.22 L61.79,127.20 L62.17,127.19 L62.55,127.17 L62.93,127.15 L63.31,127.14 L63.69,127.12 L64.07,127.10 L64.44,127.08 L64.82,127.06 L65.20,127.04 L65.58,127.03 L65.96,127.01 L66.34,126.99 L66.72,126.97 L67.10,126.95 L67.48,126.93 L67.86,126.92 L68.24,126.90 L68.62,126.88 L68.99,126.86 L69.37,126.84 L69.75,126.82 L70.13,126.80 L70.51,126.78 L70.89,126.75 L71.27,126.73 L71.65,126.71 L72.03,126.68 L72.41,126.66 L72.79,126.63 L73.17,126.61 L73.55,126.58 L73.93,126.55 L74.31,126.53 L74.68,126.50 L75.06,126.47 L75.44,126.44 L75.82,126.41 L76.20,126.38 L76.58,126.34 L76.95,126.31 L77.33,126.28 L77.71,126.24 L78.09,126.21 L78.46,126.17 L78.84,126.13 L79.22,126.09 L79.59,126.05 L79.97,126.01 L80.34,125.96 L80.72,125.91 L81.10,125.86 L81.47,125.81 L81.85,125.75 L82.22,125.70 L82.60,125.64 L82.97,125.58 L83.35,125.51 L83.72,125.45 L84.10,125.38 L84.47,125.32 L84.85,125.25 L85.22,125.18 L85.60,125.10 L85.97,125.03 L86.34,124.96 L86.72,124.88 L87.09,124.81 L87.46,124.73 L87.83,124.65 L88.21,124.57 L88.58,124.49 L88.95,124.41 L89.32,124.33 L89.69,124.24 L90.06,124.16 L90.43,124.08 L90.80,123.99 L91.16,123.91 L91.53,123.82 L91.90,123.72 L92.27,123.63 L92.64,123.53 L93.00,123.43 L93.37,123.32 L93.74,123.22 L94.10,123.11 L94.46,123.00 L94.83,122.88 L95.19,122.77 L95.55,122.65 L95.91,122.53 L96.26,122.41 L96.62,122.28 L96.98,122.15 L97.33,122.02 L97.69,121.88 L98.04,121.74 L98.39,121.60 L98.75,121.45 L99.10,121.30 L99.45,121.15 L99.79,120.99 L100.14,120.84 L100.49,120.67 L100.83,120.51 L101.17,120.35 L101.51,120.18 L101.85,120.01 L102.19,119.84 L102.55,119.67 L102.91,119.50 L103.27,119.32 L103.62,119.14 L103.97,118.95 L104.30,118.76 L104.61,118.55 L104.89,118.33 L105.15,118.10 L105.38,117.84 L105.61,117.56 L105.84,117.24 L106.06,116.91 L106.26,116.56 L106.44,116.19 L106.58,115.83 L106.68,115.46 L106.74,115.10 L106.78,114.75 L106.81,114.39 L106.85,114.03 L106.88,113.67 L106.91,113.30 L106.93,112.93 L106.96,112.56 L106.98,112.19 L107.01,111.81 L107.03,111.44 L107.05,111.06 L107.07,110.68 L107.08,110.29 L107.10,109.91 L107.11,109.53 L107.13,109.14 L107.14,108.75 L107.16,108.37 L107.17,107.98 L107.18,107.59 L107.19,107.20 L107.20,106.82 L107.21,106.43 L107.22,106.04 L107.23,105.65 L107.24,105.27 L107.25,104.88 L107.26,104.49 L107.27,104.11 L107.29,103.73 L107.30,103.35 L107.31,102.97 L107.32,102.59 L107.33,102.21 L107.34,101.83 L107.36,101.45 L107.37,101.07 L107.38,100.69 L107.39,100.31 L107.40,99.93 L107.41,99.55 L107.42,99.17 L107.43,98.79 L107.44,98.41 L107.45,98.03 L107.46,97.65 L107.47,97.27 L107.47,96.89 L107.48,96.52 L107.49,96.14 L107.50,95.76 L107.51,95.38 L107.52,95.00 L107.52,94.62 L107.53,94.24 L107.54,93.86 L107.55,93.48 L107.56,93.10 L107.56,92.72 L107.57,92.34 L107.58,91.96 L107.59,91.58 L107.59,91.20 L107.60,90.82 L107.61,90.44 L107.62,90.06 L107.62,89.68 L107.63,89.30 L107.64,88.92 L107.64,88.54 L107.65,88.16 L107.66,87.78 L107.67,87.41 L107.67,87.03 L107.68,86.65 L107.69,86.27 L107.70,85.89 L107.71,85.51 L107.71,85.13 L107.72,84.75 L107.73,84.37 L107.74,83.99 L107.75,83.61 L107.76,83.23 L107.77,82.85 L107.77,82.47 L107.78,82.09 L107.79,81.71 L107.80,81.33 L107.81,80.95 L107.82,80.57 L107.83,80.19 L107.84,79.81 L107.85,79.43 L107.87,79.06 L107.88,78.68 L107.89,78.30 L107.90,77.91 L107.91,77.52 L107.92,77.13 L107.92,76.73 L107.93,76.34 L107.94,75.94 L107.95,75.54 L107.96,75.14 L107.96,74.74 L107.97,74.34 L107.98,73.95 L107.99,73.55 L108.01,73.16 L108.02,72.78 L108.03,72.40 L108.05,72.02 L108.07,71.65 L108.09,71.28 L108.11,70.93 L108.14,70.58 L108.16,70.24 L108.20,69.90 L108.23,69.58 L108.37,69.23 L108.62,68.89 L108.93,68.60 L109.24,68.42 L109.55,68.33 L109.90,68.27 L110.27,68.22 L110.67,68.17 L111.07,68.14 L111.47,68.10 L111.86,68.05 L112.24,67.98 L112.61,67.91 L112.99,67.84 L113.36,67.76 L113.73,67.67 L114.10,67.58 L114.47,67.49 L114.84,67.39 L115.20,67.29 L115.56,67.19 L115.94,67.08 L116.34,66.98 L116.73,66.86 L117.10,66.74 L117.45,66.60 L117.74,66.44 L117.99,66.23 L118.22,65.96 L118.44,65.63 L118.63,65.26 L118.79,64.88 L118.92,64.51 L119.01,64.15 L119.09,63.80 L119.16,63.43 L119.23,63.06 L119.29,62.68 L119.34,62.30 L119.39,61.92 L119.43,61.53 L119.47,61.15 L119.50,60.76 L119.53,60.38 L119.55,60.01 L119.57,59.63 L119.59,59.25 L119.60,58.87 L119.62,58.48 L119.63,58.10 L119.64,57.72 L119.65,57.34 L119.66,56.95 L119.66,56.57 L119.67,56.19 L119.68,55.80 L119.68,55.42 L119.69,55.04 L119.70,54.66 L119.71,54.27 L119.71,53.89 L119.72,53.51 L119.73,53.13 L119.74,52.75 L119.76,52.38 L119.77,52.00 L119.79,51.62 L119.81,51.25 L119.83,50.88 L119.85,50.51 L119.88,50.14 L119.92,49.76 L119.99,49.35 L120.10,48.95 L120.22,48.56 L120.37,48.20 L120.54,47.89 L120.72,47.64 L120.97,47.44 L121.31,47.25 L121.70,47.09 L122.10,46.96 L122.47,46.86 L122.83,46.77 L123.20,46.68 L123.58,46.61 L123.96,46.55 L124.34,46.50 L124.71,46.47 L125.09,46.44 L125.46,46.41 L125.84,46.38 L126.22,46.35 L126.59,46.33 L126.97,46.30 L127.35,46.28 L127.73,46.25 L128.11,46.23 L128.48,46.21 L128.86,46.19 L129.24,46.17 L129.62,46.16 L130.00,46.14 L130.38,46.13 L130.76,46.11 L131.14,46.10 L131.52,46.09 L131.90,46.08 L132.28,46.08 L132.67,46.07 L133.05,46.07 L133.43,46.06 L133.81,46.06" fill="none" stroke="#151515" stroke-width="1.15" stroke-linejoin="round"/>
<path d="M133.81,45.66 L133.50,45.76 L133.19,45.60 L132.88,45.43 L132.57,45.57 L132.25,45.42 L131.94,45.75 L131.63,46.15 L131.32,45.61 L131.00,45.59 L130.69,45.94 L130.38,45.91 L130.07,45.85 L129.75,45.55 L129.44,45.83 L129.13,46.07 L128.82,45.47 L128.51,45.75 L128.19,45.33 L127.88,45.53 L127.57,45.37 L127.26,45.87 L126.94,45.58 L126.63,46.05 L126.32,46.03 L126.01,45.94 L125.69,45.26 L125.38,45.87 L125.07,46.03 L124.76,46.09 L124.44,45.62 L124.13,45.95 L123.82,45.81 L123.51,45.88 L123.20,46.45 L122.88,45.91 L122.57,46.15 L122.26,46.44 L121.95,46.02 L121.63,46.18 L121.32,46.26 L121.01,46.26 L120.70,45.89 L120.38,46.29 L120.07,46.69 L119.76,45.84 L119.45,46.58 L119.14,46.37 L118.82,46.16 L118.51,46.97 L118.20,46.61 L117.89,46.04 L117.57,46.44 L117.26,46.61 L116.95,46.39 L116.64,46.67 L116.32,46.46 L116.01,46.70 L115.70,46.95 L115.39,46.34 L115.07,46.62 L114.76,46.44 L114.45,46.63 L114.14,46.26 L113.83,46.46 L113.51,46.60 L113.20,46.95 L112.89,47.04 L112.58,46.32 L112.26,46.50 L111.95,46.96 L111.64,46.19 L111.33,46.68 L111.01,46.81 L110.70,47.25 L110.39,47.10 L110.08,46.83 L109.76,46.84 L109.45,46.91 L109.14,47.47 L108.83,46.91 L108.52,46.98 L108.20,47.21 L107.89,47.09 L107.58,47.10 L107.27,46.86 L106.95,47.22 L106.64,47.12 L106.33,47.63 L106.02,47.51 L105.70,47.33 L105.39,47.57 L105.08,47.30 L104.77,47.75 L104.46,47.46 L104.14,47.66 L103.83,47.13 L103.52,47.65 L103.21,47.07 L102.89,46.99 L102.58,47.54 L102.27,47.38 L101.96,47.73 L101.64,48.38 L101.33,47.48 L101.02,47.57 L100.71,47.84 L100.39,47.95 L100.08,47.77 L99.77,47.79 L99.46,48.08 L99.15,48.05 L98.83,47.61 L98.52,47.92 L98.21,47.98 L97.90,47.67 L97.58,48.09 L97.27,47.78 L96.96,48.35 L96.65,48.14 L96.33,48.13 L96.02,47.95 L95.71,48.11 L95.40,47.57 L95.09,47.85 L94.77,48.32 L94.46,47.60 L94.15,48.51 L93.84,47.75 L93.52,48.53 L93.21,48.07 L92.90,48.57 L92.59,48.40 L92.27,47.92 L91.96,48.78 L91.65,48.86 L91.34,48.42 L91.02,48.38 L90.71,48.43 L90.40,48.21" fill="none" stroke="#bd2b2b" stroke-width="2.0" stroke-linejoin="round"/>
<circle cx="90.40" cy="48.50" r="1.75" fill="#bd2b2b" stroke="#444" stroke-width="0.5"/>
<path d="M118.96,52.49 L118.76,52.00 L118.55,52.16 L118.35,51.95 L118.14,52.01 L117.94,51.82 L117.73,52.59 L117.52,52.18 L117.32,52.53 L117.11,52.25 L116.91,52.06 L116.70,52.18 L116.50,52.12 L116.29,52.31 L116.09,52.21 L115.88,52.25 L115.67,51.94 L115.47,52.13 L115.26,52.88 L115.06,52.20 L114.85,52.10 L114.65,52.54 L114.44,52.88 L114.24,52.04 L114.03,52.43 L113.83,52.32 L113.62,52.00 L113.41,52.77 L113.21,52.56 L113.00,52.61 L112.80,52.39 L112.59,52.77 L112.39,52.50 L112.18,52.65 L111.98,52.39 L111.77,52.39 L111.57,53.18 L111.36,52.66 L111.15,52.93 L110.95,52.87 L110.74,52.78 L110.54,52.80 L110.33,53.17 L110.13,52.93 L109.92,53.00 L109.72,53.09 L109.51,53.47 L109.30,53.35 L109.10,53.30 L108.89,53.04 L108.69,52.83 L108.48,53.55 L108.28,53.59 L108.07,53.28 L107.87,53.51 L107.66,53.60 L107.46,53.64 L107.25,53.68 L107.04,53.29 L106.84,53.90 L106.63,53.08 L106.43,53.73 L106.22,53.64 L106.02,53.77 L105.81,54.08 L105.61,53.98 L105.40,53.21 L105.19,53.06 L104.99,53.82 L104.78,53.29 L104.58,53.60 L104.37,53.87 L104.17,53.14 L103.96,53.01 L103.76,53.74 L103.55,53.68 L103.35,53.61 L103.14,53.71 L102.93,53.45 L102.73,53.27 L102.52,53.69 L102.32,53.46 L102.11,53.27 L101.91,53.93 L101.70,53.77 L101.50,53.93 L101.29,53.53 L101.09,53.64 L100.88,53.55 L100.67,53.60 L100.47,53.94 L100.26,53.66 L100.06,54.02 L99.85,54.03 L99.65,54.55 L99.44,53.54 L99.24,54.24 L99.03,53.96 L98.82,53.99 L98.62,53.58 L98.41,53.89 L98.21,54.26 L98.00,54.03 L97.80,54.10 L97.59,54.00 L97.39,54.45 L97.18,54.11 L96.98,53.47 L96.77,53.94 L96.56,53.57 L96.36,53.20 L96.15,54.03 L95.95,54.60 L95.74,54.23 L95.54,53.88 L95.33,53.96 L95.13,54.60 L94.92,54.32 L94.72,54.30 L94.51,54.29 L94.30,54.33 L94.10,54.58 L93.89,54.51 L93.69,54.43 L93.48,54.07 L93.28,54.55 L93.07,54.20 L92.87,54.75 L92.66,54.06 L92.45,54.41 L92.25,54.46 L92.04,54.08 L91.84,55.01 L91.63,54.95 L91.43,54.39 L91.22,54.77 L91.02,54.67 L90.81,53.78 L90.61,54.66 L90.40,54.58" fill="none" stroke="#e17c28" stroke-width="1.15" stroke-linejoin="round"/>
<circle cx="90.40" cy="54.60" r="1.75" fill="#e17c28" stroke="#444" stroke-width="0.5"/>
<path d="M113.25,66.41 L113.09,66.08 L112.92,66.35 L112.76,66.40 L112.59,66.83 L112.43,66.60 L112.26,66.52 L112.10,67.00 L111.93,66.40 L111.77,66.48 L111.61,66.07 L111.44,67.11 L111.28,66.95 L111.11,66.96 L110.95,66.91 L110.78,66.77 L110.62,66.82 L110.46,66.70 L110.29,66.74 L110.13,66.84 L109.96,67.30 L109.80,67.04 L109.63,66.88 L109.47,66.75 L109.30,66.75 L109.14,67.45 L108.98,67.14 L108.81,67.03 L108.65,66.93 L108.48,66.73 L108.32,67.06 L108.15,67.37 L107.99,67.01 L107.83,67.09 L107.66,67.11 L107.50,67.23 L107.33,66.75 L107.17,67.18 L107.00,67.01 L106.84,67.56 L106.67,67.09 L106.51,67.51 L106.35,67.82 L106.18,67.29 L106.02,67.23 L105.85,67.49 L105.69,67.46 L105.52,67.18 L105.36,67.64 L105.19,68.13 L105.03,67.47 L104.87,67.51 L104.70,67.28 L104.54,67.72 L104.37,67.27 L104.21,67.34 L104.04,68.08 L103.88,67.44 L103.72,68.06 L103.55,68.22 L103.39,67.86 L103.22,67.97 L103.06,68.42 L102.89,67.80 L102.73,67.70 L102.56,67.50 L102.40,67.94 L102.24,68.39 L102.07,68.26 L101.91,67.71 L101.74,67.76 L101.58,67.89 L101.41,68.15 L101.25,68.03 L101.09,68.18 L100.92,68.22 L100.76,68.07 L100.59,68.17 L100.43,68.27 L100.26,68.20 L100.10,68.40 L99.93,68.84 L99.77,68.48 L99.61,68.34 L99.44,67.84 L99.28,68.49 L99.11,67.81 L98.95,67.99 L98.78,68.70 L98.62,68.68 L98.46,68.44 L98.29,68.00 L98.13,68.42 L97.96,68.35 L97.80,68.77 L97.63,69.28 L97.47,68.69 L97.30,68.42 L97.14,68.32 L96.98,68.68 L96.81,68.67 L96.65,68.40 L96.48,68.80 L96.32,68.45 L96.15,69.15 L95.99,69.16 L95.82,69.19 L95.66,68.74 L95.50,69.06 L95.33,68.89 L95.17,68.84 L95.00,68.88 L94.84,68.61 L94.67,68.59 L94.51,69.29 L94.35,69.01 L94.18,69.16 L94.02,69.42 L93.85,68.62 L93.69,68.93 L93.52,69.24 L93.36,69.33 L93.19,69.12 L93.03,69.57 L92.87,69.35 L92.70,68.94 L92.54,69.05 L92.37,69.59 L92.21,69.51 L92.04,68.83 L91.88,69.83 L91.72,69.63 L91.55,69.87 L91.39,69.38 L91.22,69.43 L91.06,69.20 L90.89,70.32 L90.73,69.53 L90.56,70.09 L90.40,69.44" fill="none" stroke="#4f9c44" stroke-width="1.15" stroke-linejoin="round"/>
<circle cx="90.40" cy="69.63" r="1.75" fill="#4f9c44" stroke="#444" stroke-width="0.5"/>
<path d="M107.88,85.94 L107.75,85.41 L107.63,85.81 L107.50,86.24 L107.38,85.59 L107.25,86.31 L107.13,86.11 L107.00,85.72 L106.87,85.90 L106.75,85.93 L106.62,86.08 L106.50,85.95 L106.37,85.88 L106.25,86.06 L106.12,85.86 L105.99,85.80 L105.87,86.19 L105.74,86.49 L105.62,85.78 L105.49,86.26 L105.37,86.08 L105.24,86.00 L105.11,86.57 L104.99,86.18 L104.86,86.80 L104.74,86.13 L104.61,86.50 L104.48,86.33 L104.36,86.19 L104.23,86.61 L104.11,86.40 L103.98,86.64 L103.86,86.47 L103.73,86.17 L103.60,86.48 L103.48,86.54 L103.35,86.83 L103.23,86.28 L103.10,86.56 L102.98,86.07 L102.85,86.79 L102.72,86.29 L102.60,86.08 L102.47,86.62 L102.35,86.98 L102.22,86.20 L102.10,86.35 L101.97,86.46 L101.84,86.36 L101.72,86.82 L101.59,86.48 L101.47,86.52 L101.34,86.92 L101.22,86.53 L101.09,86.89 L100.96,86.48 L100.84,86.42 L100.71,86.24 L100.59,87.36 L100.46,86.71 L100.33,86.89 L100.21,86.82 L100.08,86.88 L99.96,86.86 L99.83,87.42 L99.71,86.55 L99.58,86.40 L99.45,86.57 L99.33,86.48 L99.20,87.11 L99.08,87.14 L98.95,86.61 L98.83,86.49 L98.70,86.81 L98.57,87.34 L98.45,86.09 L98.32,87.10 L98.20,86.63 L98.07,87.27 L97.95,86.64 L97.82,86.89 L97.69,86.53 L97.57,86.70 L97.44,87.41 L97.32,87.25 L97.19,86.90 L97.07,86.76 L96.94,86.47 L96.81,86.93 L96.69,87.05 L96.56,87.04 L96.44,87.05 L96.31,86.75 L96.18,87.08 L96.06,87.10 L95.93,87.51 L95.81,87.70 L95.68,87.11 L95.56,86.93 L95.43,87.16 L95.30,87.01 L95.18,86.98 L95.05,87.20 L94.93,86.92 L94.80,87.43 L94.68,87.23 L94.55,87.35 L94.42,87.24 L94.30,87.09 L94.17,87.04 L94.05,87.27 L93.92,87.20 L93.80,87.45 L93.67,87.39 L93.54,87.00 L93.42,87.45 L93.29,87.05 L93.17,87.28 L93.04,87.40 L92.92,86.88 L92.79,87.55 L92.66,87.59 L92.54,87.51 L92.41,87.45 L92.29,87.49 L92.16,87.33 L92.03,87.56 L91.91,87.50 L91.78,87.71 L91.66,87.34 L91.53,87.79 L91.41,87.79 L91.28,87.72 L91.15,87.66 L91.03,87.97 L90.90,87.33 L90.78,87.99 L90.65,87.95 L90.53,87.98 L90.40,88.03" fill="none" stroke="#3f72b8" stroke-width="1.15" stroke-linejoin="round"/>
<circle cx="90.40" cy="87.92" r="1.75" fill="#3f72b8" stroke="#444" stroke-width="0.5"/>
<circle cx="90.40" cy="124.09" r="1.9" fill="#111"/>
<path d="M47.56,127.14 L47.88,127.26 L48.20,127.53 L48.52,127.47 L48.85,127.40 L49.17,126.88 L49.49,127.50 L49.81,127.69 L50.13,127.64 L50.46,127.41 L50.78,126.87 L51.10,127.62 L51.42,127.29 L51.75,126.58 L52.07,127.45 L52.39,126.89 L52.71,126.95 L53.03,127.15 L53.36,127.72 L53.68,127.23 L54.00,127.42 L54.32,127.86 L54.65,127.81 L54.97,127.31 L55.29,127.26 L55.61,126.96 L55.93,127.13 L56.26,127.46 L56.58,127.46 L56.90,127.37 L57.22,127.63 L57.55,127.10 L57.87,127.32 L58.19,127.56 L58.51,127.51 L58.83,127.66 L59.16,127.46 L59.48,127.24 L59.80,127.45 L60.12,127.04" fill="none" stroke="#111" stroke-width="2.5" stroke-linejoin="round" stroke-linecap="round"/>
<path d="M107.68,44.80 L104.68,47.40 L108.28,49.80" fill="none" stroke="#bd2b2b" stroke-width="0.9" stroke-linejoin="miter"/>
<path d="M107.34,50.98 L104.34,53.58 L107.94,55.98" fill="none" stroke="#e17c28" stroke-width="0.9" stroke-linejoin="miter"/>
<path d="M104.03,65.61 L101.03,68.21 L104.63,70.61" fill="none" stroke="#4f9c44" stroke-width="0.9" stroke-linejoin="miter"/>
<path d="M101.40,84.30 L98.40,86.90 L102.00,89.30" fill="none" stroke="#3f72b8" stroke-width="0.9" stroke-linejoin="miter"/>
<path d="M100.83,119.05 L97.83,121.65 L101.43,124.05" fill="none" stroke="#151515" stroke-width="0.9" stroke-linejoin="miter"/>
<line x1="243.40" y1="131.30" x2="243.40" y2="90.62" stroke="#111" stroke-width="1.15" stroke-dasharray="1 1.15"/>
<line x1="259.05" y1="131.30" x2="259.05" y2="58.48" stroke="#111" stroke-width="1.15" stroke-dasharray="1 1.15"/>
<path d="M270.70,45.87 L270.32,45.83 L269.94,45.80 L269.56,45.77 L269.18,45.73 L268.80,45.70 L268.42,45.67 L268.04,45.64 L267.66,45.61 L267.28,45.58 L266.90,45.55 L266.52,45.52 L266.14,45.49 L265.76,45.46 L265.38,45.44 L265.00,45.41 L264.62,45.39 L264.24,45.37 L263.86,45.35 L263.48,45.33 L263.10,45.31 L262.72,45.29 L262.34,45.28 L261.96,45.27 L261.58,45.26 L261.20,45.24 L260.82,45.23 L260.44,45.22 L260.06,45.21 L259.68,45.20 L259.30,45.19 L258.92,45.18 L258.54,45.17 L258.16,45.16 L257.78,45.15 L257.40,45.15 L257.02,45.14 L256.63,45.13 L256.25,45.12 L255.87,45.11 L255.49,45.11 L255.11,45.10 L254.73,45.09 L254.35,45.09 L253.97,45.08 L253.59,45.08 L253.21,45.07 L252.83,45.07 L252.45,45.06 L252.06,45.06 L251.68,45.06 L251.30,45.06 L250.92,45.06 L250.54,45.05 L250.16,45.05 L249.78,45.06 L249.40,45.06 L249.02,45.07 L248.64,45.08 L248.26,45.10 L247.88,45.12 L247.50,45.14 L247.12,45.16 L246.74,45.18 L246.36,45.21 L245.98,45.24 L245.60,45.27 L245.22,45.30 L244.84,45.33 L244.46,45.37 L244.08,45.40 L243.70,45.44 L243.32,45.47 L242.95,45.51 L242.57,45.54 L242.19,45.58 L241.81,45.61 L241.43,45.65 L241.05,45.69 L240.67,45.72 L240.29,45.75 L239.91,45.78 L239.53,45.82 L239.15,45.84 L238.77,45.87 L238.39,45.90 L238.01,45.92 L237.63,45.95 L237.25,45.97 L236.87,46.00 L236.49,46.02 L236.10,46.04 L235.72,46.06 L235.34,46.09 L234.96,46.11 L234.58,46.13 L234.20,46.15 L233.82,46.17 L233.44,46.20 L233.06,46.22 L232.68,46.24 L232.29,46.27 L231.91,46.29 L231.53,46.32 L231.15,46.34 L230.77,46.37 L230.40,46.40 L230.02,46.43 L229.64,46.46 L229.26,46.49 L228.88,46.53 L228.50,46.57 L228.13,46.60 L227.75,46.64 L227.38,46.68 L227.00,46.73 L226.62,46.78 L226.25,46.84 L225.87,46.91 L225.50,46.98 L225.12,47.06 L224.75,47.14 L224.38,47.22 L224.00,47.31 L223.63,47.40 L223.26,47.49 L222.89,47.58 L222.52,47.68 L222.15,47.78 L221.79,47.88 L221.42,47.97 L221.05,48.07 L220.68,48.18 L220.31,48.28 L219.93,48.39 L219.56,48.50 L219.19,48.61 L218.82,48.73 L218.45,48.86 L218.08,48.99 L217.73,49.12 L217.37,49.27 L217.03,49.41 L216.69,49.57 L216.36,49.73 L216.04,49.90 L215.73,50.09 L215.42,50.30 L215.12,50.54 L214.83,50.79 L214.54,51.06 L214.27,51.34 L214.00,51.62 L213.75,51.90 L213.50,52.19 L213.26,52.49 L213.03,52.80 L212.81,53.12 L212.62,53.45 L212.46,53.78 L212.31,54.13 L212.15,54.49 L212.02,54.85 L211.90,55.22 L211.81,55.59 L211.75,55.96 L211.73,56.33 L211.70,56.70 L211.68,57.07 L211.65,57.44 L211.63,57.82 L211.61,58.19 L211.59,58.57 L211.57,58.94 L211.56,59.32 L211.54,59.69 L211.52,60.07 L211.51,60.45 L211.49,60.83 L211.48,61.21 L211.47,61.59 L211.46,61.97 L211.45,62.35 L211.44,62.73 L211.43,63.11 L211.42,63.49 L211.41,63.87 L211.40,64.26 L211.39,64.64 L211.38,65.02 L211.38,65.41 L211.37,65.79 L211.36,66.17 L211.35,66.56 L211.35,66.94 L211.34,67.33 L211.33,67.71 L211.33,68.10 L211.32,68.48 L211.31,68.87 L211.31,69.25 L211.30,69.63 L211.29,70.02 L211.28,70.40 L211.28,70.79 L211.27,71.17 L211.26,71.55 L211.25,71.94 L211.24,72.32 L211.23,72.70 L211.22,73.08 L211.21,73.47 L211.19,73.85 L211.18,74.23 L211.17,74.61 L211.15,74.99 L211.14,75.37 L211.12,75.75 L211.11,76.13 L211.09,76.51 L211.08,76.89 L211.06,77.27 L211.05,77.65 L211.03,78.03 L211.02,78.41 L211.00,78.79 L210.98,79.17 L210.97,79.55 L210.95,79.94 L210.93,80.32 L210.92,80.70 L210.90,81.08 L210.88,81.46 L210.87,81.84 L210.85,82.22 L210.83,82.60 L210.82,82.98 L210.80,83.36 L210.78,83.74 L210.76,84.12 L210.75,84.50 L210.73,84.88 L210.71,85.26 L210.70,85.64 L210.68,86.02 L210.66,86.40 L210.65,86.78 L210.63,87.16 L210.61,87.54 L210.60,87.92 L210.58,88.30 L210.57,88.68 L210.55,89.06 L210.54,89.45 L210.52,89.83 L210.51,90.21 L210.49,90.59 L210.48,90.97 L210.47,91.35 L210.46,91.74 L210.45,92.13 L210.44,92.52 L210.43,92.91 L210.42,93.30 L210.42,93.69 L210.41,94.08 L210.40,94.46 L210.38,94.85 L210.37,95.23 L210.36,95.61 L210.34,95.98 L210.32,96.34 L210.30,96.71 L210.27,97.06 L210.21,97.42 L210.06,97.78 L209.85,98.13 L209.61,98.46 L209.37,98.73 L209.11,98.96 L208.81,99.17 L208.47,99.36 L208.12,99.54 L207.76,99.70 L207.40,99.87 L207.05,100.04 L206.71,100.20 L206.36,100.35 L206.01,100.51 L205.66,100.65 L205.31,100.80 L204.96,100.94 L204.60,101.09 L204.25,101.23 L203.90,101.38 L203.55,101.54 L203.20,101.69 L202.84,101.85 L202.47,102.00 L202.09,102.15 L201.71,102.29 L201.33,102.44 L200.95,102.59 L200.58,102.75 L200.22,102.91 L199.87,103.08 L199.54,103.25 L199.23,103.44 L198.94,103.64 L198.68,103.86 L198.46,104.09 L198.24,104.35 L198.03,104.65 L197.82,104.99 L197.63,105.35 L197.46,105.72 L197.32,106.10 L197.21,106.48 L197.13,106.85 L197.08,107.20 L197.04,107.57 L196.99,107.93 L196.95,108.30 L196.92,108.66 L196.89,109.03 L196.86,109.41 L196.83,109.78 L196.80,110.16 L196.78,110.54 L196.76,110.92 L196.74,111.30 L196.72,111.68 L196.70,112.07 L196.68,112.45 L196.66,112.84 L196.65,113.22 L196.63,113.61 L196.62,114.00 L196.60,114.38 L196.59,114.77 L196.57,115.16 L196.55,115.55 L196.54,115.93 L196.52,116.32 L196.50,116.71 L196.47,117.09 L196.45,117.48 L196.42,117.86 L196.40,118.24 L196.37,118.62 L196.33,119.00 L196.30,119.38 L196.26,119.77 L196.23,120.16 L196.20,120.56 L196.16,120.95 L196.13,121.35 L196.09,121.75 L196.05,122.15 L196.00,122.54 L195.96,122.93 L195.90,123.32 L195.85,123.70 L195.78,124.07 L195.71,124.43 L195.64,124.78 L195.55,125.12 L195.46,125.44 L195.35,125.76 L195.14,126.10 L194.86,126.41 L194.55,126.67 L194.24,126.84 L193.91,126.94 L193.55,127.04 L193.16,127.12 L192.76,127.18 L192.37,127.22 L191.98,127.23 L191.60,127.23 L191.23,127.23 L190.85,127.23 L190.47,127.23 L190.09,127.23 L189.71,127.23 L189.33,127.23 L188.95,127.23 L188.57,127.23 L188.19,127.23 L187.81,127.23 L187.43,127.23 L187.05,127.23 L186.67,127.23 L186.29,127.23 L185.91,127.23 L185.52,127.23 L185.14,127.23 L184.75,127.23 L184.37,127.23 L183.98,127.23" fill="none" stroke="#151515" stroke-width="1.15" stroke-linejoin="round"/>
<path d="M183.98,127.23 L184.36,127.25 L184.74,127.27 L185.12,127.29 L185.50,127.30 L185.88,127.32 L186.26,127.34 L186.64,127.36 L187.02,127.38 L187.40,127.39 L187.78,127.41 L188.16,127.43 L188.54,127.44 L188.92,127.46 L189.30,127.48 L189.68,127.49 L190.06,127.51 L190.44,127.53 L190.82,127.54 L191.20,127.56 L191.58,127.58 L191.96,127.59 L192.34,127.61 L192.72,127.62 L193.10,127.64 L193.48,127.65 L193.86,127.67 L194.24,127.69 L194.62,127.70 L195.00,127.72 L195.38,127.74 L195.76,127.76 L196.14,127.77 L196.52,127.79 L196.90,127.81 L197.28,127.83 L197.66,127.85 L198.04,127.86 L198.42,127.88 L198.79,127.90 L199.17,127.91 L199.55,127.93 L199.93,127.94 L200.31,127.96 L200.69,127.97 L201.07,127.98 L201.45,128.00 L201.83,128.01 L202.21,128.02 L202.59,128.02 L202.97,128.03 L203.35,128.04 L203.73,128.04 L204.11,128.04 L204.49,128.05 L204.87,128.04 L205.25,128.04 L205.63,128.04 L206.01,128.04 L206.39,128.03 L206.77,128.02 L207.15,128.02 L207.53,128.01 L207.91,128.00 L208.29,127.99 L208.67,127.98 L209.05,127.96 L209.43,127.95 L209.81,127.94 L210.19,127.92 L210.57,127.91 L210.95,127.89 L211.33,127.87 L211.71,127.86 L212.09,127.84 L212.47,127.82 L212.85,127.80 L213.23,127.78 L213.61,127.76 L213.99,127.74 L214.37,127.72 L214.75,127.70 L215.13,127.68 L215.51,127.66 L215.89,127.64 L216.27,127.62 L216.65,127.60 L217.02,127.58 L217.40,127.55 L217.78,127.52 L218.16,127.50 L218.54,127.47 L218.92,127.43 L219.30,127.40 L219.68,127.37 L220.06,127.33 L220.44,127.29 L220.82,127.26 L221.19,127.22 L221.57,127.18 L221.95,127.13 L222.33,127.09 L222.71,127.05 L223.09,127.00 L223.46,126.96 L223.84,126.91 L224.22,126.86 L224.60,126.81 L224.97,126.76 L225.35,126.71 L225.73,126.66 L226.10,126.61 L226.48,126.55 L226.85,126.50 L227.23,126.44 L227.60,126.39 L227.98,126.33 L228.35,126.27 L228.73,126.20 L229.10,126.13 L229.47,126.06 L229.85,125.98 L230.22,125.90 L230.59,125.82 L230.96,125.73 L231.34,125.65 L231.71,125.56 L232.07,125.47 L232.44,125.37 L232.81,125.28 L233.17,125.18 L233.54,125.08 L233.91,124.98 L234.29,124.88 L234.66,124.77 L235.04,124.67 L235.42,124.55 L235.79,124.44 L236.16,124.32 L236.53,124.19 L236.89,124.06 L237.24,123.92 L237.59,123.78 L237.93,123.62 L238.26,123.47 L238.58,123.30 L238.89,123.12 L239.20,122.93 L239.51,122.71 L239.81,122.47 L240.11,122.21 L240.41,121.94 L240.69,121.65 L240.95,121.36 L241.19,121.05 L241.42,120.75 L241.61,120.44 L241.78,120.13 L241.95,119.80 L242.11,119.45 L242.27,119.10 L242.41,118.73 L242.53,118.36 L242.64,117.98 L242.73,117.61 L242.80,117.24 L242.85,116.87 L242.88,116.50 L242.92,116.13 L242.96,115.76 L242.99,115.38 L243.02,115.01 L243.05,114.63 L243.08,114.25 L243.10,113.87 L243.13,113.50 L243.15,113.12 L243.17,112.73 L243.20,112.35 L243.22,111.97 L243.23,111.59 L243.25,111.20 L243.27,110.82 L243.28,110.44 L243.30,110.05 L243.31,109.67 L243.32,109.29 L243.34,108.90 L243.35,108.52 L243.36,108.14 L243.37,107.76 L243.38,107.38 L243.39,106.99 L243.40,106.61 L243.41,106.24 L243.42,105.86 L243.43,105.48 L243.44,105.10 L243.45,104.72 L243.46,104.34 L243.46,103.96 L243.47,103.58 L243.48,103.20 L243.48,102.82 L243.49,102.44 L243.50,102.06 L243.50,101.68 L243.51,101.30 L243.51,100.92 L243.52,100.54 L243.52,100.16 L243.53,99.78 L243.53,99.40 L243.54,99.02 L243.54,98.64 L243.55,98.25 L243.55,97.87 L243.56,97.49 L243.56,97.11 L243.56,96.73 L243.57,96.35 L243.57,95.97 L243.58,95.59 L243.58,95.21 L243.59,94.83 L243.59,94.45 L243.60,94.07 L243.60,93.69 L243.61,93.31 L243.61,92.93 L243.62,92.55 L243.62,92.17 L243.63,91.79 L243.63,91.41 L243.64,91.03 L243.65,90.65 L243.65,90.27 L243.66,89.89 L243.67,89.51 L243.68,89.13 L243.68,88.75 L243.69,88.37 L243.70,87.99 L243.71,87.61 L243.72,87.23 L243.73,86.85 L243.74,86.47 L243.75,86.09 L243.76,85.71 L243.77,85.32 L243.78,84.94 L243.79,84.55 L243.81,84.16 L243.82,83.77 L243.83,83.38 L243.85,82.99 L243.86,82.60 L243.88,82.21 L243.90,81.83 L243.92,81.44 L243.95,81.06 L243.97,80.69 L244.00,80.31 L244.03,79.94 L244.06,79.57 L244.10,79.21 L244.14,78.85 L244.18,78.50 L244.25,78.14 L244.40,77.75 L244.60,77.38 L244.83,77.05 L245.07,76.81 L245.34,76.66 L245.65,76.54 L246.01,76.43 L246.40,76.35 L246.81,76.26 L247.21,76.18 L247.61,76.08 L247.98,75.97 L248.33,75.84 L248.68,75.70 L249.03,75.55 L249.38,75.39 L249.73,75.23 L250.07,75.06 L250.41,74.88 L250.75,74.70 L251.08,74.52 L251.41,74.34 L251.74,74.15 L252.07,73.95 L252.40,73.75 L252.73,73.54 L253.05,73.33 L253.37,73.11 L253.68,72.89 L253.98,72.65 L254.28,72.41 L254.55,72.17 L254.82,71.91 L255.06,71.64 L255.30,71.35 L255.54,71.05 L255.76,70.73 L255.97,70.41 L256.18,70.08 L256.37,69.75 L256.56,69.42 L256.75,69.09 L256.93,68.76 L257.12,68.42 L257.30,68.07 L257.47,67.73 L257.63,67.38 L257.77,67.02 L257.90,66.67 L258.00,66.31 L258.08,65.95 L258.15,65.58 L258.22,65.21 L258.29,64.84 L258.35,64.46 L258.40,64.08 L258.45,63.70 L258.50,63.32 L258.53,62.93 L258.56,62.55 L258.59,62.17 L258.61,61.80 L258.63,61.42 L258.64,61.04 L258.65,60.66 L258.67,60.28 L258.68,59.90 L258.69,59.52 L258.70,59.13 L258.71,58.75 L258.71,58.37 L258.72,57.99 L258.73,57.61 L258.73,57.22 L258.74,56.84 L258.74,56.46 L258.75,56.08 L258.76,55.70 L258.76,55.31 L258.77,54.93 L258.77,54.55 L258.78,54.17 L258.79,53.79 L258.80,53.41 L258.81,53.03 L258.82,52.65 L258.83,52.27 L258.84,51.89 L258.85,51.52 L258.87,51.14 L258.89,50.76 L258.91,50.39 L258.93,50.02 L258.96,49.63 L259.00,49.23 L259.07,48.82 L259.15,48.41 L259.25,48.01 L259.36,47.65 L259.49,47.33 L259.63,47.07 L259.86,46.84 L260.19,46.63 L260.58,46.45 L260.97,46.31 L261.33,46.22 L261.69,46.14 L262.06,46.06 L262.44,46.00 L262.83,45.94 L263.21,45.90 L263.59,45.88 L263.97,45.87 L264.35,45.87 L264.73,45.87 L265.11,45.87 L265.49,45.87 L265.87,45.87 L266.24,45.87 L266.62,45.87 L267.00,45.87 L267.38,45.87 L267.76,45.87 L268.14,45.87 L268.52,45.87 L268.91,45.87 L269.29,45.87 L269.67,45.87 L270.05,45.87 L270.43,45.87 L270.82,45.87" fill="none" stroke="#151515" stroke-width="1.15" stroke-linejoin="round"/>
<path d="M270.70,45.38 L270.39,46.01 L270.08,45.80 L269.77,45.88 L269.45,45.25 L269.14,45.62 L268.83,45.52 L268.52,45.42 L268.21,44.98 L267.90,45.53 L267.59,45.87 L267.27,45.69 L266.96,45.37 L266.65,45.52 L266.34,45.73 L266.03,44.66 L265.72,45.42 L265.40,45.60 L265.09,45.62 L264.78,45.91 L264.47,45.72 L264.16,45.46 L263.85,45.44 L263.54,45.57 L263.22,45.15 L262.91,45.29 L262.60,45.56 L262.29,45.87 L261.98,45.22 L261.67,45.24 L261.36,45.31 L261.04,45.64 L260.73,45.22 L260.42,45.66 L260.11,44.92 L259.80,45.15 L259.49,45.14 L259.17,45.42 L258.86,45.49 L258.55,44.72 L258.24,44.89 L257.93,45.26 L257.62,44.95 L257.31,44.69 L256.99,45.45 L256.68,45.28 L256.37,45.27 L256.06,44.97 L255.75,45.42 L255.44,45.03 L255.12,45.43 L254.81,44.82 L254.50,44.83 L254.19,45.15 L253.88,44.87 L253.57,45.28 L253.26,45.15 L252.94,44.79 L252.63,45.09 L252.32,44.96 L252.01,45.34 L251.70,44.87 L251.39,44.93 L251.08,45.42 L250.76,45.73 L250.45,45.65 L250.14,45.07 L249.83,45.12 L249.52,45.52 L249.21,45.03 L248.89,44.78 L248.58,45.12 L248.27,45.23 L247.96,44.86 L247.65,44.64 L247.34,44.72 L247.03,45.37 L246.71,44.96 L246.40,45.17 L246.09,45.29 L245.78,45.44 L245.47,45.18 L245.16,45.46 L244.84,45.07 L244.53,45.25 L244.22,45.08 L243.91,45.76 L243.60,45.44 L243.29,45.25 L242.98,45.40 L242.66,45.47 L242.35,45.77 L242.04,45.11 L241.73,45.31 L241.42,45.54 L241.11,46.44 L240.80,45.99 L240.48,45.70 L240.17,45.98 L239.86,46.41 L239.55,45.74 L239.24,45.73 L238.93,46.22 L238.61,46.03 L238.30,46.11 L237.99,45.78 L237.68,46.53 L237.37,46.48 L237.06,46.16 L236.75,46.22 L236.43,45.43 L236.12,46.25 L235.81,46.02 L235.50,46.24 L235.19,46.33 L234.88,46.05 L234.56,45.66 L234.25,46.30 L233.94,45.99 L233.63,46.14 L233.32,46.08 L233.01,46.18 L232.70,45.61 L232.38,46.69 L232.07,46.43 L231.76,46.70 L231.45,46.99 L231.14,46.42 L230.83,45.90 L230.52,46.19 L230.20,46.12 L229.89,46.35 L229.58,46.55 L229.27,45.95 L228.96,46.67 L228.65,46.14 L228.33,46.70 L228.02,46.60 L227.71,46.57 L227.40,46.66" fill="none" stroke="#bd2b2b" stroke-width="1.4" stroke-linejoin="round"/>
<circle cx="227.40" cy="46.68" r="1.75" fill="#bd2b2b" stroke="#444" stroke-width="0.5"/>
<path d="M258.36,58.25 L258.14,58.27 L257.92,57.87 L257.69,58.61 L257.47,59.44 L257.25,59.54 L257.03,59.31 L256.80,59.10 L256.58,58.57 L256.36,59.50 L256.13,58.92 L255.91,58.96 L255.69,58.91 L255.47,59.12 L255.24,58.94 L255.02,59.13 L254.80,58.76 L254.58,59.10 L254.35,60.26 L254.13,59.32 L253.91,59.29 L253.68,59.66 L253.46,59.78 L253.24,59.06 L253.02,59.48 L252.79,60.00 L252.57,59.77 L252.35,59.75 L252.12,60.40 L251.90,59.51 L251.68,59.87 L251.46,59.66 L251.23,60.54 L251.01,59.14 L250.79,59.72 L250.57,59.82 L250.34,60.37 L250.12,60.39 L249.90,60.76 L249.67,59.55 L249.45,60.57 L249.23,60.17 L249.01,60.06 L248.78,60.61 L248.56,60.03 L248.34,59.59 L248.12,60.35 L247.89,59.91 L247.67,60.31 L247.45,60.78 L247.22,60.79 L247.00,61.37 L246.78,60.66 L246.56,60.14 L246.33,60.51 L246.11,60.48 L245.89,60.39 L245.67,61.12 L245.44,60.71 L245.22,60.19 L245.00,61.35 L244.77,61.05 L244.55,61.29 L244.33,61.22 L244.11,61.48 L243.88,61.27 L243.66,61.81 L243.44,61.51 L243.21,61.54 L242.99,61.58 L242.77,60.84 L242.55,61.42 L242.32,61.42 L242.10,61.65 L241.88,61.03 L241.66,62.33 L241.43,61.73 L241.21,61.21 L240.99,61.04 L240.76,61.68 L240.54,61.80 L240.32,61.58 L240.10,61.95 L239.87,61.69 L239.65,62.23 L239.43,61.73 L239.21,62.06 L238.98,62.52 L238.76,63.23 L238.54,61.77 L238.31,62.04 L238.09,61.92 L237.87,62.64 L237.65,61.87 L237.42,62.19 L237.20,62.42 L236.98,62.06 L236.76,62.11 L236.53,62.35 L236.31,61.71 L236.09,62.02 L235.86,62.49 L235.64,62.77 L235.42,62.67 L235.20,62.04 L234.97,62.63 L234.75,63.20 L234.53,63.14 L234.31,62.91 L234.08,62.61 L233.86,63.29 L233.64,62.82 L233.41,62.61 L233.19,62.81 L232.97,63.79 L232.75,63.32 L232.52,63.75 L232.30,63.10 L232.08,63.74 L231.85,63.13 L231.63,63.36 L231.41,64.51 L231.19,63.82 L230.96,63.33 L230.74,63.54 L230.52,63.76 L230.30,64.17 L230.07,63.49 L229.85,63.01 L229.63,63.66 L229.40,63.82 L229.18,63.90 L228.96,64.45 L228.74,64.07 L228.51,64.32 L228.29,63.55 L228.07,64.42 L227.85,64.98 L227.62,64.46 L227.40,64.28" fill="none" stroke="#e17c28" stroke-width="2.4" stroke-linejoin="round"/>
<circle cx="227.40" cy="64.17" r="1.75" fill="#e17c28" stroke="#444" stroke-width="0.5"/>
<path d="M250.59,72.78 L250.43,73.51 L250.26,72.40 L250.09,72.78 L249.93,73.06 L249.76,73.22 L249.59,72.76 L249.42,73.11 L249.26,72.90 L249.09,73.10 L248.92,73.03 L248.76,72.64 L248.59,73.15 L248.42,73.56 L248.26,72.82 L248.09,73.17 L247.92,73.58 L247.76,72.89 L247.59,73.45 L247.42,72.97 L247.26,73.92 L247.09,74.45 L246.92,74.37 L246.76,73.46 L246.59,73.90 L246.42,73.68 L246.25,73.70 L246.09,74.35 L245.92,73.18 L245.75,74.21 L245.59,73.78 L245.42,74.43 L245.25,73.95 L245.09,73.62 L244.92,74.06 L244.75,74.28 L244.59,74.02 L244.42,74.25 L244.25,73.86 L244.09,73.22 L243.92,74.53 L243.75,74.48 L243.58,74.28 L243.42,74.28 L243.25,74.72 L243.08,74.13 L242.92,74.05 L242.75,74.31 L242.58,74.92 L242.42,73.87 L242.25,74.99 L242.08,74.25 L241.92,74.09 L241.75,75.12 L241.58,74.58 L241.42,74.11 L241.25,74.54 L241.08,75.11 L240.92,75.25 L240.75,74.61 L240.58,74.99 L240.41,75.15 L240.25,74.61 L240.08,75.07 L239.91,74.94 L239.75,74.76 L239.58,74.81 L239.41,75.07 L239.25,75.09 L239.08,74.87 L238.91,74.96 L238.75,75.64 L238.58,75.30 L238.41,75.61 L238.25,75.77 L238.08,75.55 L237.91,76.29 L237.74,75.02 L237.58,75.74 L237.41,75.29 L237.24,76.24 L237.08,76.20 L236.91,74.70 L236.74,75.15 L236.58,75.86 L236.41,75.95 L236.24,75.96 L236.08,75.65 L235.91,75.90 L235.74,76.01 L235.58,75.74 L235.41,76.23 L235.24,74.88 L235.08,76.13 L234.91,75.46 L234.74,76.33 L234.57,75.86 L234.41,75.61 L234.24,76.17 L234.07,75.66 L233.91,75.69 L233.74,75.45 L233.57,76.12 L233.41,76.37 L233.24,76.62 L233.07,76.16 L232.91,76.69 L232.74,76.29 L232.57,76.27 L232.41,76.58 L232.24,76.82 L232.07,76.26 L231.91,76.33 L231.74,76.39 L231.57,76.52 L231.40,76.14 L231.24,76.98 L231.07,76.41 L230.90,76.80 L230.74,76.29 L230.57,76.81 L230.40,76.85 L230.24,76.54 L230.07,77.60 L229.90,76.93 L229.74,77.55 L229.57,77.23 L229.40,76.58 L229.24,76.73 L229.07,77.10 L228.90,76.97 L228.73,76.99 L228.57,76.88 L228.40,76.27 L228.23,76.96 L228.07,76.15 L227.90,77.27 L227.73,76.83 L227.57,76.87 L227.40,77.10" fill="none" stroke="#4f9c44" stroke-width="2.4" stroke-linejoin="round"/>
<circle cx="227.40" cy="77.19" r="1.75" fill="#4f9c44" stroke="#444" stroke-width="0.5"/>
<path d="M243.40,90.73 L243.28,90.06 L243.16,89.97 L243.05,90.30 L242.93,89.94 L242.82,90.43 L242.70,91.55 L242.59,90.48 L242.47,91.24 L242.36,90.43 L242.24,91.18 L242.13,90.96 L242.01,91.11 L241.90,91.42 L241.78,91.96 L241.67,91.35 L241.55,91.36 L241.44,90.94 L241.32,91.64 L241.21,91.33 L241.09,91.83 L240.98,91.50 L240.86,92.30 L240.75,90.77 L240.63,91.52 L240.52,92.06 L240.40,91.59 L240.29,91.44 L240.17,91.70 L240.06,91.28 L239.94,91.95 L239.83,92.97 L239.71,92.46 L239.60,91.56 L239.48,91.70 L239.37,91.94 L239.25,92.57 L239.14,91.84 L239.02,91.94 L238.91,92.64 L238.79,92.67 L238.68,92.19 L238.56,91.92 L238.45,91.78 L238.33,92.18 L238.22,91.57 L238.10,92.87 L237.99,92.33 L237.87,92.83 L237.76,93.46 L237.64,93.20 L237.53,92.27 L237.41,93.15 L237.30,93.32 L237.18,92.55 L237.07,92.51 L236.95,92.90 L236.84,92.31 L236.72,93.64 L236.61,92.05 L236.49,92.64 L236.38,93.03 L236.26,93.08 L236.15,93.29 L236.03,93.37 L235.92,93.21 L235.80,93.81 L235.69,92.47 L235.57,93.41 L235.46,93.15 L235.34,93.54 L235.22,93.62 L235.11,93.18 L234.99,93.33 L234.88,93.97 L234.76,93.82 L234.65,93.42 L234.53,94.60 L234.42,94.75 L234.30,93.21 L234.19,93.99 L234.07,94.95 L233.96,94.26 L233.84,94.06 L233.73,93.92 L233.61,93.82 L233.50,93.99 L233.38,93.89 L233.27,94.47 L233.15,94.02 L233.04,94.04 L232.92,93.76 L232.81,94.28 L232.69,93.96 L232.58,94.29 L232.46,94.84 L232.35,94.60 L232.23,94.69 L232.12,94.66 L232.00,94.57 L231.89,94.53 L231.77,94.49 L231.66,94.97 L231.54,94.24 L231.43,95.29 L231.31,94.78 L231.20,94.48 L231.08,94.63 L230.97,94.58 L230.85,94.97 L230.74,94.63 L230.62,95.45 L230.51,94.68 L230.39,94.09 L230.28,94.77 L230.16,94.27 L230.05,95.13 L229.93,95.62 L229.82,95.48 L229.70,94.68 L229.59,94.96 L229.47,96.06 L229.36,95.48 L229.24,95.38 L229.13,95.86 L229.01,96.48 L228.90,96.03 L228.78,95.57 L228.67,95.70 L228.55,95.84 L228.44,95.36 L228.32,95.20 L228.21,95.70 L228.09,95.31 L227.98,95.72 L227.86,95.82 L227.75,96.79 L227.63,95.48 L227.52,95.82 L227.40,95.84" fill="none" stroke="#3f72b8" stroke-width="2.4" stroke-linejoin="round"/>
<circle cx="227.40" cy="95.91" r="1.75" fill="#3f72b8" stroke="#444" stroke-width="0.5"/>
<circle cx="227.40" cy="126.42" r="1.9" fill="#111"/>
<path d="M184.56,127.36 L184.81,127.55 L185.05,127.08 L185.30,126.99 L185.55,126.74 L185.80,126.95 L186.05,127.39 L186.30,127.25 L186.55,126.93 L186.80,127.12 L187.05,127.24 L187.30,127.38 L187.54,127.05 L187.79,127.16 L188.04,126.69 L188.29,126.89 L188.54,127.72 L188.79,126.58 L189.04,127.13 L189.29,127.30 L189.54,127.12 L189.79,126.99 L190.03,127.21 L190.28,127.23 L190.53,127.21 L190.78,126.67 L191.03,127.19 L191.28,126.98 L191.53,127.07 L191.78,127.30 L192.03,127.42 L192.28,127.50 L192.52,127.08 L192.77,127.51 L193.02,127.58 L193.27,127.57 L193.52,127.65 L193.77,127.19 L194.02,127.18 L194.27,127.48" fill="none" stroke="#111" stroke-width="1.8" stroke-linejoin="round" stroke-linecap="round"/>
<line x1="437.36" y1="129.50" x2="437.36" y2="90.77" stroke="#111" stroke-width="1.15" stroke-dasharray="1 1.15"/>
<line x1="447.09" y1="129.50" x2="447.09" y2="50.81" stroke="#111" stroke-width="1.15" stroke-dasharray="1 1.15"/>
<path d="M462.07,43.88 L461.71,43.83 L461.34,43.79 L460.98,43.75 L460.62,43.70 L460.25,43.67 L459.89,43.63 L459.53,43.59 L459.16,43.56 L458.80,43.52 L458.44,43.49 L458.07,43.46 L457.71,43.43 L457.35,43.40 L456.99,43.37 L456.62,43.35 L456.26,43.32 L455.90,43.30 L455.53,43.28 L455.17,43.26 L454.81,43.24 L454.44,43.22 L454.08,43.20 L453.72,43.19 L453.36,43.17 L452.99,43.16 L452.63,43.14 L452.27,43.13 L451.90,43.12 L451.54,43.11 L451.18,43.10 L450.81,43.09 L450.45,43.09 L450.09,43.08 L449.73,43.08 L449.36,43.07 L449.00,43.07 L448.64,43.07 L448.27,43.06 L447.91,43.06 L447.55,43.06 L447.19,43.06 L446.82,43.07 L446.46,43.07 L446.10,43.08 L445.73,43.09 L445.37,43.11 L445.01,43.12 L444.65,43.14 L444.28,43.16 L443.92,43.18 L443.56,43.20 L443.19,43.23 L442.83,43.25 L442.47,43.28 L442.10,43.31 L441.74,43.34 L441.38,43.37 L441.01,43.40 L440.65,43.44 L440.29,43.47 L439.93,43.50 L439.56,43.54 L439.20,43.57 L438.84,43.61 L438.48,43.64 L438.11,43.68 L437.75,43.72 L437.39,43.75 L437.03,43.79 L436.67,43.82 L436.31,43.86 L435.94,43.89 L435.58,43.93 L435.22,43.97 L434.86,44.01 L434.50,44.05 L434.14,44.09 L433.78,44.14 L433.42,44.19 L433.06,44.23 L432.70,44.28 L432.34,44.33 L431.98,44.39 L431.62,44.44 L431.26,44.49 L430.90,44.55 L430.54,44.60 L430.18,44.66 L429.82,44.71 L429.46,44.77 L429.10,44.83 L428.74,44.88 L428.38,44.94 L428.02,45.00 L427.66,45.05 L427.31,45.11 L426.95,45.17 L426.59,45.22 L426.23,45.28 L425.87,45.33 L425.51,45.39 L425.15,45.44 L424.79,45.49 L424.43,45.54 L424.07,45.59 L423.71,45.64 L423.34,45.69 L422.98,45.73 L422.62,45.78 L422.26,45.82 L421.90,45.87 L421.54,45.92 L421.18,45.97 L420.82,46.02 L420.46,46.07 L420.10,46.13 L419.74,46.18 L419.38,46.24 L419.03,46.31 L418.67,46.38 L418.32,46.45 L417.96,46.53 L417.61,46.61 L417.25,46.70 L416.90,46.79 L416.55,46.89 L416.19,46.99 L415.84,47.09 L415.49,47.19 L415.14,47.30 L414.80,47.41 L414.45,47.53 L414.11,47.64 L413.76,47.76 L413.43,47.88 L413.09,48.01 L412.75,48.14 L412.41,48.27 L412.07,48.40 L411.73,48.55 L411.40,48.69 L411.06,48.84 L410.73,49.00 L410.39,49.16 L410.06,49.32 L409.74,49.49 L409.41,49.66 L409.09,49.84 L408.78,50.02 L408.46,50.20 L408.16,50.39 L407.85,50.58 L407.56,50.78 L407.26,50.98 L406.94,51.20 L406.62,51.42 L406.31,51.66 L406.01,51.91 L405.73,52.16 L405.50,52.42 L405.31,52.69 L405.17,52.96 L405.05,53.24 L404.92,53.52 L404.80,53.80 L404.69,54.09 L404.57,54.38 L404.45,54.68 L404.34,54.97 L404.23,55.27 L404.13,55.58 L404.02,55.88 L403.92,56.19 L403.82,56.51 L403.72,56.82 L403.62,57.14 L403.52,57.46 L403.43,57.79 L403.34,58.11 L403.25,58.44 L403.16,58.77 L403.07,59.11 L402.98,59.44 L402.90,59.78 L402.82,60.12 L402.74,60.46 L402.66,60.81 L402.58,61.16 L402.51,61.51 L402.43,61.86 L402.36,62.21 L402.29,62.57 L402.22,62.92 L402.15,63.28 L402.08,63.64 L402.01,64.01 L401.95,64.37 L401.88,64.74 L401.82,65.10 L401.76,65.47 L401.70,65.84 L401.64,66.21 L401.58,66.58 L401.52,66.96 L401.47,67.33 L401.41,67.71 L401.35,68.09 L401.30,68.46 L401.25,68.84 L401.19,69.22 L401.14,69.60 L401.09,69.98 L401.04,70.36 L400.99,70.75 L400.94,71.13 L400.89,71.51 L400.85,71.90 L400.80,72.28 L400.75,72.67 L400.71,73.05 L400.66,73.44 L400.61,73.82 L400.57,74.21 L400.52,74.59 L400.48,74.98 L400.43,75.36 L400.39,75.75 L400.35,76.13 L400.30,76.52 L400.26,76.90 L400.22,77.29 L400.17,77.67 L400.13,78.06 L400.08,78.44 L400.04,78.82 L400.00,79.20 L399.95,79.58 L399.91,79.96 L399.87,80.34 L399.82,80.72 L399.78,81.10 L399.73,81.48 L399.69,81.85 L399.64,82.23 L399.59,82.60 L399.55,82.97 L399.50,83.34 L399.45,83.71 L399.41,84.08 L399.36,84.45 L399.31,84.81 L399.26,85.17 L399.21,85.54 L399.16,85.90 L399.11,86.26 L399.06,86.62 L399.02,86.98 L398.97,87.34 L398.93,87.70 L398.89,88.06 L398.85,88.42 L398.80,88.78 L398.76,89.15 L398.72,89.51 L398.68,89.87 L398.64,90.23 L398.60,90.59 L398.55,90.95 L398.51,91.31 L398.46,91.67 L398.42,92.03 L398.37,92.39 L398.31,92.75 L398.26,93.11 L398.20,93.47 L398.15,93.83 L398.09,94.19 L398.03,94.55 L397.98,94.91 L397.92,95.27 L397.86,95.63 L397.80,95.99 L397.73,96.36 L397.67,96.72 L397.61,97.08 L397.54,97.44 L397.47,97.80 L397.40,98.16 L397.33,98.51 L397.26,98.87 L397.19,99.23 L397.12,99.59 L397.04,99.94 L396.96,100.30 L396.88,100.66 L396.80,101.01 L396.72,101.36 L396.63,101.71 L396.55,102.07 L396.46,102.41 L396.37,102.76 L396.27,103.11 L396.18,103.46 L396.08,103.80 L395.98,104.14 L395.86,104.48 L395.74,104.82 L395.61,105.16 L395.48,105.49 L395.34,105.83 L395.19,106.16 L395.04,106.49 L394.88,106.82 L394.73,107.15 L394.57,107.48 L394.41,107.81 L394.24,108.14 L394.08,108.47 L393.92,108.80 L393.76,109.13 L393.61,109.46 L393.46,109.79 L393.31,110.13 L393.16,110.46 L393.02,110.79 L392.87,111.13 L392.72,111.46 L392.57,111.79 L392.42,112.13 L392.27,112.46 L392.13,112.79 L391.99,113.13 L391.85,113.46 L391.72,113.80 L391.59,114.14 L391.48,114.48 L391.37,114.83 L391.27,115.19 L391.17,115.56 L391.09,115.93 L391.00,116.30 L390.93,116.68 L390.85,117.06 L390.78,117.44 L390.71,117.82 L390.63,118.21 L390.56,118.58 L390.49,118.96 L390.41,119.32 L390.33,119.69 L390.24,120.04 L390.15,120.39 L390.05,120.72 L389.94,121.05 L389.83,121.36 L389.70,121.65 L389.56,121.94 L389.42,122.20 L389.23,122.45 L388.99,122.69 L388.72,122.92 L388.42,123.14 L388.10,123.35 L387.76,123.55 L387.42,123.75 L387.09,123.95 L386.77,124.15 L386.47,124.36 L386.16,124.60 L385.86,124.85 L385.55,125.08 L385.23,125.26 L384.91,125.39 L384.58,125.42 L384.25,125.42 L383.92,125.42 L383.58,125.42 L383.24,125.42 L382.90,125.42 L382.56,125.42 L382.21,125.42 L381.86,125.42 L381.51,125.42 L381.16,125.42 L380.80,125.42 L380.44,125.42 L380.08,125.42 L379.72,125.42 L379.35,125.42 L378.98,125.42 L378.60,125.42 L378.23,125.42 L377.84,125.42 L377.46,125.42 L377.07,125.42 L376.68,125.42 L376.29,125.42 L375.89,125.42 L375.49,125.42" fill="none" stroke="#151515" stroke-width="1.15" stroke-linejoin="round"/>
<path d="M375.49,125.42 L375.85,125.46 L376.22,125.50 L376.59,125.54 L376.95,125.58 L377.32,125.61 L377.68,125.65 L378.05,125.68 L378.42,125.72 L378.78,125.75 L379.15,125.78 L379.51,125.81 L379.88,125.84 L380.25,125.87 L380.61,125.90 L380.98,125.93 L381.34,125.95 L381.71,125.98 L382.08,126.00 L382.44,126.03 L382.81,126.05 L383.18,126.07 L383.54,126.09 L383.91,126.11 L384.27,126.12 L384.64,126.14 L385.01,126.15 L385.37,126.17 L385.74,126.18 L386.10,126.19 L386.47,126.20 L386.84,126.21 L387.20,126.22 L387.57,126.23 L387.94,126.23 L388.30,126.23 L388.67,126.24 L389.03,126.24 L389.40,126.24 L389.77,126.24 L390.13,126.23 L390.50,126.23 L390.87,126.23 L391.23,126.22 L391.60,126.21 L391.97,126.21 L392.33,126.20 L392.70,126.19 L393.07,126.18 L393.43,126.16 L393.80,126.15 L394.17,126.14 L394.54,126.12 L394.90,126.11 L395.27,126.09 L395.64,126.07 L396.01,126.06 L396.37,126.04 L396.74,126.02 L397.11,126.00 L397.47,125.98 L397.84,125.96 L398.21,125.93 L398.57,125.91 L398.94,125.89 L399.31,125.86 L399.67,125.84 L400.04,125.81 L400.41,125.79 L400.77,125.76 L401.14,125.74 L401.50,125.71 L401.87,125.68 L402.23,125.66 L402.60,125.63 L402.97,125.60 L403.33,125.57 L403.69,125.54 L404.06,125.52 L404.42,125.49 L404.79,125.46 L405.15,125.43 L405.51,125.40 L405.88,125.37 L406.24,125.33 L406.61,125.29 L406.97,125.25 L407.33,125.21 L407.70,125.16 L408.06,125.11 L408.42,125.06 L408.79,125.01 L409.15,124.96 L409.51,124.90 L409.87,124.84 L410.24,124.78 L410.60,124.72 L410.96,124.66 L411.32,124.59 L411.69,124.53 L412.05,124.46 L412.41,124.39 L412.77,124.32 L413.13,124.25 L413.49,124.17 L413.85,124.10 L414.21,124.02 L414.57,123.95 L414.93,123.87 L415.29,123.79 L415.65,123.72 L416.01,123.64 L416.37,123.56 L416.73,123.48 L417.09,123.40 L417.45,123.32 L417.80,123.24 L418.16,123.16 L418.52,123.07 L418.87,122.99 L419.23,122.91 L419.59,122.83 L419.94,122.74 L420.30,122.65 L420.65,122.56 L421.01,122.47 L421.36,122.37 L421.72,122.27 L422.07,122.17 L422.43,122.06 L422.78,121.96 L423.13,121.85 L423.48,121.74 L423.83,121.63 L424.17,121.51 L424.52,121.40 L424.87,121.28 L425.21,121.16 L425.56,121.03 L425.90,120.91 L426.25,120.78 L426.60,120.65 L426.94,120.51 L427.29,120.38 L427.63,120.23 L427.97,120.09 L428.31,119.94 L428.64,119.79 L428.97,119.63 L429.30,119.47 L429.63,119.31 L429.95,119.14 L430.27,118.97 L430.58,118.79 L430.93,118.60 L431.28,118.41 L431.64,118.20 L431.99,117.99 L432.32,117.76 L432.61,117.53 L432.86,117.29 L433.04,117.04 L433.16,116.78 L433.25,116.51 L433.34,116.23 L433.42,115.94 L433.50,115.64 L433.57,115.33 L433.64,115.01 L433.71,114.68 L433.77,114.34 L433.82,114.00 L433.87,113.64 L433.92,113.28 L433.97,112.92 L434.01,112.55 L434.06,112.17 L434.10,111.79 L434.13,111.41 L434.17,111.02 L434.21,110.63 L434.24,110.24 L434.27,109.84 L434.31,109.45 L434.34,109.05 L434.37,108.65 L434.40,108.25 L434.44,107.86 L434.47,107.46 L434.51,107.07 L434.55,106.68 L434.59,106.29 L434.63,105.90 L434.67,105.52 L434.72,105.14 L434.77,104.77 L434.82,104.40 L434.88,104.04 L434.93,103.67 L434.99,103.31 L435.05,102.95 L435.11,102.59 L435.17,102.23 L435.23,101.87 L435.30,101.50 L435.36,101.14 L435.42,100.78 L435.49,100.42 L435.55,100.06 L435.62,99.70 L435.69,99.34 L435.75,98.98 L435.82,98.62 L435.89,98.26 L435.95,97.90 L436.02,97.53 L436.09,97.17 L436.16,96.81 L436.22,96.45 L436.29,96.09 L436.36,95.73 L436.42,95.37 L436.49,95.01 L436.56,94.65 L436.62,94.29 L436.69,93.93 L436.75,93.57 L436.81,93.20 L436.88,92.84 L436.94,92.48 L437.00,92.12 L437.06,91.76 L437.12,91.40 L437.18,91.03 L437.24,90.67 L437.30,90.31 L437.35,89.95 L437.41,89.59 L437.47,89.22 L437.53,88.86 L437.58,88.50 L437.64,88.14 L437.70,87.77 L437.75,87.41 L437.81,87.05 L437.86,86.69 L437.92,86.32 L437.98,85.96 L438.03,85.60 L438.09,85.24 L438.14,84.87 L438.20,84.51 L438.26,84.15 L438.31,83.79 L438.37,83.42 L438.42,83.06 L438.48,82.70 L438.54,82.34 L438.59,81.97 L438.65,81.61 L438.71,81.25 L438.76,80.89 L438.82,80.52 L438.87,80.16 L438.92,79.80 L438.97,79.43 L439.02,79.07 L439.08,78.70 L439.13,78.34 L439.18,77.98 L439.23,77.61 L439.28,77.25 L439.34,76.88 L439.39,76.52 L439.45,76.16 L439.50,75.79 L439.56,75.43 L439.62,75.07 L439.68,74.71 L439.74,74.35 L439.80,73.99 L439.87,73.63 L439.94,73.27 L440.01,72.91 L440.08,72.55 L440.16,72.20 L440.24,71.84 L440.32,71.49 L440.41,71.13 L440.50,70.78 L440.60,70.42 L440.70,70.07 L440.80,69.72 L440.91,69.36 L441.02,69.01 L441.13,68.66 L441.24,68.31 L441.36,67.96 L441.47,67.61 L441.59,67.26 L441.71,66.91 L441.82,66.57 L441.94,66.22 L442.06,65.87 L442.18,65.53 L442.31,65.19 L442.44,64.84 L442.58,64.50 L442.72,64.16 L442.86,63.82 L443.00,63.49 L443.15,63.15 L443.30,62.81 L443.45,62.48 L443.60,62.14 L443.75,61.80 L443.90,61.47 L444.05,61.13 L444.20,60.79 L444.34,60.46 L444.48,60.12 L444.62,59.78 L444.76,59.44 L444.89,59.10 L445.02,58.76 L445.15,58.41 L445.26,58.07 L445.38,57.72 L445.48,57.37 L445.59,57.02 L445.68,56.67 L445.78,56.32 L445.87,55.96 L445.96,55.60 L446.04,55.25 L446.13,54.89 L446.21,54.53 L446.29,54.17 L446.37,53.81 L446.45,53.45 L446.53,53.09 L446.61,52.73 L446.69,52.37 L446.77,52.01 L446.86,51.66 L446.95,51.30 L447.04,50.94 L447.13,50.59 L447.23,50.24 L447.33,49.89 L447.43,49.54 L447.54,49.19 L447.65,48.84 L447.77,48.48 L447.89,48.13 L448.01,47.77 L448.15,47.42 L448.29,47.09 L448.45,46.76 L448.61,46.45 L448.80,46.15 L449.02,45.84 L449.26,45.54 L449.53,45.26 L449.81,45.01 L450.10,44.80 L450.40,44.64 L450.71,44.50 L451.05,44.36 L451.40,44.23 L451.76,44.12 L452.14,44.02 L452.51,43.94 L452.88,43.90 L453.24,43.88 L453.60,43.88 L453.96,43.88 L454.32,43.88 L454.68,43.88 L455.04,43.88 L455.41,43.88 L455.77,43.88 L456.13,43.88 L456.50,43.88 L456.86,43.88 L457.22,43.88 L457.59,43.88 L457.96,43.88 L458.32,43.88 L458.69,43.88 L459.06,43.88 L459.43,43.88 L459.80,43.88 L460.17,43.88 L460.54,43.88 L460.91,43.88 L461.29,43.88 L461.66,43.88 L462.04,43.88 L462.41,43.88" fill="none" stroke="#151515" stroke-width="1.15" stroke-linejoin="round"/>
<path d="M462.07,43.47 L461.76,43.90 L461.45,43.64 L461.14,43.65 L460.83,43.21 L460.52,43.43 L460.21,43.65 L459.90,43.89 L459.59,43.89 L459.28,43.54 L458.97,43.48 L458.66,43.26 L458.35,43.60 L458.04,43.38 L457.73,43.61 L457.42,43.93 L457.11,43.37 L456.80,42.91 L456.49,43.08 L456.18,42.88 L455.87,42.94 L455.55,43.67 L455.24,43.33 L454.93,42.79 L454.62,43.42 L454.31,43.59 L454.00,43.09 L453.69,42.98 L453.38,43.07 L453.07,43.25 L452.76,43.34 L452.45,43.49 L452.14,43.49 L451.83,43.47 L451.52,43.52 L451.21,43.30 L450.90,42.64 L450.59,43.05 L450.28,43.18 L449.97,42.96 L449.66,43.35 L449.35,42.96 L449.04,42.79 L448.73,43.50 L448.42,43.26 L448.11,43.13 L447.80,43.34 L447.49,43.38 L447.18,43.17 L446.87,42.33 L446.56,42.87 L446.25,42.94 L445.94,42.79 L445.63,43.16 L445.32,43.47 L445.01,42.98 L444.70,42.80 L444.39,43.76 L444.08,43.04 L443.77,42.82 L443.46,43.28 L443.15,43.36 L442.84,43.04 L442.53,43.51 L442.22,43.16 L441.91,43.05 L441.60,43.41 L441.29,43.61 L440.98,43.22 L440.66,43.53 L440.35,43.44 L440.04,44.34 L439.73,43.31 L439.42,43.97 L439.11,43.57 L438.80,43.57 L438.49,43.86 L438.18,43.94 L437.87,44.08 L437.56,43.83 L437.25,43.59 L436.94,43.64 L436.63,43.98 L436.32,44.03 L436.01,44.31 L435.70,44.04 L435.39,44.27 L435.08,44.44 L434.77,44.07 L434.46,43.61 L434.15,43.74 L433.84,43.70 L433.53,44.65 L433.22,43.96 L432.91,44.62 L432.60,44.47 L432.29,44.86 L431.98,44.69 L431.67,44.40 L431.36,44.42 L431.05,44.55 L430.74,44.62 L430.43,44.46 L430.12,44.66 L429.81,45.20 L429.50,44.25 L429.19,44.89 L428.88,44.59 L428.57,44.97 L428.26,45.21 L427.95,44.99 L427.64,45.29 L427.33,44.63 L427.02,45.49 L426.71,45.02 L426.40,45.44 L426.08,45.35 L425.77,44.57 L425.46,45.17 L425.15,45.50 L424.84,45.95 L424.53,45.61 L424.22,45.65 L423.91,45.19 L423.60,46.09 L423.29,46.25 L422.98,45.76 L422.67,45.73 L422.36,45.35 L422.05,46.15 L421.74,46.74 L421.43,46.18 L421.12,46.39 L420.81,46.22 L420.50,45.81 L420.19,46.55 L419.88,45.82 L419.57,46.17 L419.26,46.36 L418.95,46.59" fill="none" stroke="#bd2b2b" stroke-width="1.6" stroke-linejoin="round"/>
<circle cx="418.95" cy="46.32" r="1.75" fill="#bd2b2b" stroke="#444" stroke-width="0.5"/>
<path d="M447.09,50.98 L446.88,50.99 L446.68,50.52 L446.48,50.32 L446.28,50.90 L446.07,50.59 L445.87,50.36 L445.67,50.39 L445.47,50.73 L445.26,50.18 L445.06,50.40 L444.86,50.30 L444.66,51.08 L444.45,51.19 L444.25,51.87 L444.05,50.42 L443.85,50.78 L443.65,51.46 L443.44,51.00 L443.24,50.97 L443.04,51.84 L442.84,50.99 L442.63,50.66 L442.43,50.61 L442.23,51.31 L442.03,51.31 L441.82,50.62 L441.62,50.80 L441.42,51.45 L441.22,51.48 L441.01,50.98 L440.81,51.52 L440.61,51.51 L440.41,50.53 L440.20,51.16 L440.00,51.48 L439.80,51.07 L439.60,50.42 L439.39,51.21 L439.19,51.66 L438.99,52.02 L438.79,50.44 L438.58,52.47 L438.38,50.91 L438.18,51.79 L437.98,51.91 L437.77,51.81 L437.57,51.47 L437.37,50.93 L437.17,51.69 L436.97,51.13 L436.76,50.38 L436.56,52.63 L436.36,51.74 L436.16,52.21 L435.95,51.07 L435.75,52.08 L435.55,52.13 L435.35,52.12 L435.14,51.46 L434.94,50.97 L434.74,51.40 L434.54,50.56 L434.33,50.77 L434.13,51.53 L433.93,51.08 L433.73,51.43 L433.52,51.45 L433.32,52.31 L433.12,52.05 L432.92,51.49 L432.71,52.02 L432.51,51.18 L432.31,51.37 L432.11,51.90 L431.90,51.00 L431.70,51.41 L431.50,50.97 L431.30,51.58 L431.10,52.22 L430.89,51.22 L430.69,51.64 L430.49,51.17 L430.29,51.07 L430.08,51.04 L429.88,52.17 L429.68,52.56 L429.48,51.78 L429.27,51.28 L429.07,51.88 L428.87,51.45 L428.67,51.94 L428.46,51.73 L428.26,51.73 L428.06,51.88 L427.86,51.39 L427.65,51.48 L427.45,50.95 L427.25,51.51 L427.05,51.12 L426.84,51.69 L426.64,51.38 L426.44,51.85 L426.24,52.04 L426.03,51.29 L425.83,51.58 L425.63,51.57 L425.43,52.32 L425.22,52.77 L425.02,52.45 L424.82,51.99 L424.62,52.80 L424.42,51.60 L424.21,52.91 L424.01,52.05 L423.81,51.21 L423.61,53.53 L423.40,53.13 L423.20,52.08 L423.00,52.64 L422.80,52.53 L422.59,52.71 L422.39,52.10 L422.19,52.49 L421.99,53.04 L421.78,52.99 L421.58,53.46 L421.38,53.06 L421.18,54.07 L420.97,52.85 L420.77,53.33 L420.57,52.48 L420.37,52.83 L420.16,53.98 L419.96,53.10 L419.76,53.79 L419.56,53.61 L419.35,53.28 L419.15,53.64 L418.95,53.65" fill="none" stroke="#e17c28" stroke-width="2.8" stroke-linejoin="round"/>
<circle cx="418.95" cy="53.87" r="1.75" fill="#e17c28" stroke="#444" stroke-width="0.5"/>
<path d="M442.05,64.47 L441.89,65.02 L441.72,65.01 L441.56,64.53 L441.39,64.43 L441.22,64.96 L441.06,64.84 L440.89,65.35 L440.72,66.06 L440.56,65.34 L440.39,65.00 L440.23,64.98 L440.06,64.73 L439.89,64.74 L439.73,64.73 L439.56,65.02 L439.39,65.05 L439.23,65.57 L439.06,65.13 L438.90,65.25 L438.73,64.85 L438.56,66.09 L438.40,65.65 L438.23,66.22 L438.06,65.84 L437.90,66.16 L437.73,65.47 L437.57,65.91 L437.40,66.78 L437.23,65.16 L437.07,66.21 L436.90,66.46 L436.73,65.96 L436.57,66.14 L436.40,66.39 L436.24,65.60 L436.07,66.10 L435.90,65.58 L435.74,65.70 L435.57,65.76 L435.41,66.00 L435.24,66.16 L435.07,66.32 L434.91,65.55 L434.74,67.05 L434.57,66.73 L434.41,66.58 L434.24,66.15 L434.08,66.30 L433.91,66.61 L433.74,66.59 L433.58,65.72 L433.41,66.80 L433.24,67.77 L433.08,65.75 L432.91,67.01 L432.75,66.78 L432.58,66.61 L432.41,67.28 L432.25,66.21 L432.08,66.83 L431.91,67.43 L431.75,66.74 L431.58,66.68 L431.42,66.95 L431.25,66.74 L431.08,67.64 L430.92,66.61 L430.75,67.42 L430.58,66.54 L430.42,67.40 L430.25,67.10 L430.09,66.07 L429.92,67.21 L429.75,66.79 L429.59,67.10 L429.42,67.99 L429.26,66.88 L429.09,66.94 L428.92,68.05 L428.76,67.51 L428.59,68.16 L428.42,67.67 L428.26,67.19 L428.09,67.58 L427.93,68.17 L427.76,68.08 L427.59,67.71 L427.43,67.77 L427.26,67.73 L427.09,67.57 L426.93,68.69 L426.76,67.89 L426.60,67.43 L426.43,67.75 L426.26,68.31 L426.10,68.31 L425.93,68.01 L425.76,67.81 L425.60,68.15 L425.43,67.45 L425.27,67.65 L425.10,68.59 L424.93,68.07 L424.77,68.48 L424.60,68.88 L424.44,68.67 L424.27,68.43 L424.10,69.38 L423.94,68.78 L423.77,68.37 L423.60,68.88 L423.44,68.77 L423.27,68.26 L423.11,68.70 L422.94,68.63 L422.77,67.89 L422.61,68.70 L422.44,68.69 L422.27,68.66 L422.11,68.17 L421.94,68.77 L421.78,68.94 L421.61,69.04 L421.44,68.54 L421.28,69.34 L421.11,68.57 L420.94,69.04 L420.78,69.73 L420.61,68.91 L420.45,69.02 L420.28,69.74 L420.11,69.15 L419.95,69.22 L419.78,69.48 L419.61,69.87 L419.45,68.51 L419.28,69.13 L419.12,69.09 L418.95,69.10" fill="none" stroke="#4f9c44" stroke-width="2.8" stroke-linejoin="round"/>
<circle cx="418.95" cy="69.56" r="1.75" fill="#4f9c44" stroke="#444" stroke-width="0.5"/>
<path d="M437.59,90.40 L437.46,90.47 L437.32,91.02 L437.19,90.57 L437.06,91.07 L436.92,91.25 L436.79,90.82 L436.65,91.26 L436.52,91.97 L436.39,91.46 L436.25,91.11 L436.12,91.42 L435.98,91.11 L435.85,91.68 L435.72,92.00 L435.58,91.34 L435.45,91.66 L435.31,92.29 L435.18,91.66 L435.04,92.01 L434.91,91.55 L434.78,91.70 L434.64,91.89 L434.51,93.08 L434.37,92.06 L434.24,92.07 L434.11,92.11 L433.97,92.34 L433.84,92.74 L433.70,92.60 L433.57,93.45 L433.44,92.73 L433.30,93.31 L433.17,92.87 L433.03,93.07 L432.90,92.27 L432.76,92.88 L432.63,92.96 L432.50,92.94 L432.36,92.20 L432.23,93.53 L432.09,93.06 L431.96,93.09 L431.83,93.22 L431.69,93.29 L431.56,93.61 L431.42,92.97 L431.29,93.17 L431.16,93.73 L431.02,93.73 L430.89,93.57 L430.75,93.54 L430.62,93.48 L430.48,93.86 L430.35,94.44 L430.22,93.55 L430.08,94.69 L429.95,94.46 L429.81,93.97 L429.68,94.55 L429.55,93.66 L429.41,93.60 L429.28,93.84 L429.14,94.26 L429.01,94.35 L428.88,94.32 L428.74,94.63 L428.61,93.75 L428.47,94.91 L428.34,94.15 L428.20,94.52 L428.07,94.68 L427.94,94.42 L427.80,94.38 L427.67,94.59 L427.53,95.06 L427.40,95.36 L427.27,95.40 L427.13,94.80 L427.00,94.94 L426.86,94.93 L426.73,95.56 L426.60,94.57 L426.46,95.99 L426.33,95.32 L426.19,95.24 L426.06,95.77 L425.92,96.11 L425.79,95.87 L425.66,96.22 L425.52,95.88 L425.39,96.39 L425.25,96.45 L425.12,95.93 L424.99,96.63 L424.85,96.14 L424.72,96.16 L424.58,95.78 L424.45,96.10 L424.31,96.59 L424.18,95.77 L424.05,96.64 L423.91,96.56 L423.78,96.58 L423.64,95.58 L423.51,96.51 L423.38,96.88 L423.24,96.33 L423.11,96.74 L422.97,95.75 L422.84,97.08 L422.71,96.56 L422.57,97.26 L422.44,96.16 L422.30,97.27 L422.17,96.93 L422.03,97.42 L421.90,96.73 L421.77,96.91 L421.63,98.16 L421.50,96.91 L421.36,97.01 L421.23,97.24 L421.10,96.97 L420.96,97.94 L420.83,98.21 L420.69,97.24 L420.56,96.85 L420.43,98.12 L420.29,98.13 L420.16,98.06 L420.02,98.24 L419.89,97.44 L419.75,97.77 L419.62,97.31 L419.49,97.34 L419.35,98.39 L419.22,97.74 L419.08,99.02 L418.95,98.14" fill="none" stroke="#3f72b8" stroke-width="2.8" stroke-linejoin="round"/>
<circle cx="418.95" cy="98.11" r="1.75" fill="#3f72b8" stroke="#444" stroke-width="0.5"/>
<circle cx="418.95" cy="122.98" r="1.9" fill="#111"/>
<path d="M375.72,125.23 L376.05,125.66 L376.38,125.96 L376.71,125.57 L377.04,125.06 L377.37,125.53 L377.70,125.84 L378.04,125.27 L378.37,125.19 L378.70,125.73 L379.03,125.46 L379.36,125.09 L379.69,125.31 L380.02,125.20 L380.36,125.51 L380.69,125.46 L381.02,125.77 L381.35,125.64 L381.68,124.95 L382.01,125.54 L382.34,125.69 L382.68,125.56 L383.01,125.73 L383.34,125.26 L383.67,125.14 L384.00,125.70 L384.33,125.10 L384.66,124.77 L385.00,125.73 L385.33,125.21 L385.66,125.33 L385.99,125.00 L386.32,125.03 L386.65,125.08 L386.98,125.31 L387.32,125.53 L387.65,124.73 L387.98,125.65 L388.31,125.07 L388.64,125.10" fill="none" stroke="#111" stroke-width="2.0" stroke-linejoin="round" stroke-linecap="round"/>
<line x1="572.32" y1="131.30" x2="572.32" y2="88.49" stroke="#111" stroke-width="1.15" stroke-dasharray="1 1.15"/>
<line x1="578.76" y1="131.30" x2="578.76" y2="50.57" stroke="#111" stroke-width="1.15" stroke-dasharray="1 1.15"/>
<path d="M595.64,46.09 L595.27,46.01 L594.90,45.95 L594.53,45.88 L594.17,45.81 L593.80,45.75 L593.43,45.69 L593.06,45.63 L592.69,45.57 L592.32,45.51 L591.95,45.46 L591.58,45.40 L591.21,45.35 L590.84,45.30 L590.47,45.25 L590.10,45.20 L589.73,45.16 L589.36,45.11 L588.99,45.07 L588.62,45.03 L588.25,44.99 L587.88,44.95 L587.51,44.92 L587.14,44.88 L586.77,44.85 L586.41,44.81 L586.04,44.78 L585.67,44.75 L585.30,44.73 L584.93,44.70 L584.56,44.67 L584.19,44.65 L583.82,44.63 L583.45,44.61 L583.08,44.59 L582.71,44.57 L582.34,44.55 L581.97,44.54 L581.60,44.52 L581.23,44.51 L580.86,44.50 L580.49,44.49 L580.12,44.48 L579.75,44.47 L579.38,44.47 L579.01,44.46 L578.64,44.46 L578.27,44.46 L577.91,44.45 L577.54,44.45 L577.17,44.46 L576.80,44.46 L576.43,44.47 L576.06,44.48 L575.69,44.50 L575.32,44.51 L574.95,44.53 L574.58,44.55 L574.21,44.57 L573.84,44.60 L573.46,44.62 L573.09,44.65 L572.72,44.68 L572.35,44.71 L571.98,44.75 L571.61,44.78 L571.24,44.82 L570.87,44.86 L570.50,44.89 L570.13,44.93 L569.76,44.97 L569.39,45.02 L569.02,45.06 L568.65,45.10 L568.28,45.15 L567.91,45.19 L567.54,45.23 L567.18,45.28 L566.81,45.33 L566.44,45.37 L566.07,45.42 L565.70,45.46 L565.33,45.51 L564.96,45.55 L564.60,45.60 L564.23,45.64 L563.86,45.69 L563.49,45.73 L563.13,45.78 L562.76,45.83 L562.39,45.88 L562.03,45.93 L561.66,45.99 L561.29,46.05 L560.93,46.11 L560.56,46.17 L560.19,46.23 L559.83,46.29 L559.46,46.36 L559.10,46.42 L558.73,46.49 L558.37,46.55 L558.00,46.62 L557.64,46.69 L557.27,46.76 L556.91,46.83 L556.54,46.90 L556.18,46.98 L555.81,47.05 L555.45,47.12 L555.08,47.19 L554.72,47.27 L554.36,47.34 L553.99,47.41 L553.63,47.48 L553.26,47.56 L552.90,47.63 L552.53,47.70 L552.17,47.77 L551.80,47.84 L551.44,47.91 L551.07,47.97 L550.70,48.04 L550.33,48.11 L549.96,48.17 L549.59,48.24 L549.22,48.32 L548.86,48.39 L548.49,48.47 L548.13,48.55 L547.77,48.64 L547.42,48.73 L547.07,48.83 L546.73,48.93 L546.39,49.05 L546.05,49.17 L545.71,49.31 L545.37,49.46 L545.04,49.62 L544.70,49.79 L544.37,49.97 L544.05,50.15 L543.72,50.34 L543.40,50.54 L543.08,50.74 L542.76,50.95 L542.44,51.16 L542.13,51.37 L541.82,51.59 L541.52,51.80 L541.22,52.02 L540.92,52.23 L540.61,52.45 L540.28,52.67 L539.95,52.90 L539.62,53.14 L539.30,53.38 L539.00,53.63 L538.73,53.89 L538.50,54.16 L538.31,54.43 L538.18,54.71 L538.07,54.99 L537.96,55.27 L537.86,55.57 L537.75,55.86 L537.65,56.16 L537.55,56.46 L537.45,56.76 L537.36,57.07 L537.27,57.39 L537.17,57.70 L537.08,58.02 L537.00,58.34 L536.91,58.67 L536.83,59.00 L536.75,59.33 L536.67,59.66 L536.59,60.00 L536.51,60.34 L536.44,60.68 L536.37,61.03 L536.29,61.37 L536.22,61.72 L536.16,62.08 L536.09,62.43 L536.02,62.79 L535.96,63.15 L535.90,63.51 L535.84,63.87 L535.78,64.24 L535.72,64.61 L535.66,64.98 L535.61,65.35 L535.55,65.72 L535.50,66.10 L535.45,66.48 L535.40,66.85 L535.35,67.23 L535.30,67.62 L535.25,68.00 L535.20,68.38 L535.16,68.77 L535.11,69.15 L535.07,69.54 L535.02,69.93 L534.98,70.32 L534.94,70.71 L534.89,71.10 L534.85,71.49 L534.81,71.89 L534.77,72.28 L534.73,72.67 L534.69,73.07 L534.66,73.46 L534.62,73.86 L534.58,74.25 L534.54,74.65 L534.51,75.04 L534.47,75.44 L534.43,75.84 L534.40,76.23 L534.36,76.63 L534.32,77.02 L534.29,77.42 L534.25,77.81 L534.22,78.21 L534.18,78.60 L534.14,78.99 L534.11,79.39 L534.07,79.78 L534.04,80.17 L534.00,80.56 L533.96,80.95 L533.93,81.34 L533.89,81.73 L533.85,82.11 L533.81,82.50 L533.77,82.88 L533.74,83.27 L533.70,83.65 L533.66,84.03 L533.62,84.40 L533.57,84.78 L533.53,85.16 L533.49,85.53 L533.45,85.90 L533.40,86.27 L533.36,86.64 L533.31,87.01 L533.27,87.38 L533.23,87.75 L533.19,88.12 L533.15,88.48 L533.11,88.85 L533.08,89.22 L533.04,89.59 L533.00,89.96 L532.96,90.33 L532.93,90.70 L532.89,91.07 L532.85,91.44 L532.82,91.81 L532.78,92.18 L532.74,92.55 L532.70,92.92 L532.66,93.28 L532.62,93.65 L532.58,94.02 L532.54,94.39 L532.49,94.76 L532.45,95.13 L532.40,95.49 L532.35,95.86 L532.31,96.23 L532.26,96.60 L532.21,96.97 L532.16,97.33 L532.10,97.70 L532.05,98.07 L532.00,98.44 L531.95,98.80 L531.89,99.17 L531.84,99.54 L531.78,99.90 L531.73,100.27 L531.67,100.64 L531.61,101.01 L531.56,101.37 L531.50,101.74 L531.44,102.11 L531.38,102.47 L531.32,102.84 L531.26,103.20 L531.20,103.57 L531.14,103.94 L531.08,104.30 L531.02,104.67 L530.95,105.03 L530.89,105.40 L530.83,105.76 L530.76,106.13 L530.70,106.50 L530.64,106.86 L530.58,107.23 L530.51,107.60 L530.45,107.96 L530.39,108.33 L530.32,108.70 L530.26,109.07 L530.19,109.43 L530.13,109.80 L530.06,110.17 L529.99,110.53 L529.92,110.90 L529.85,111.26 L529.78,111.63 L529.70,111.99 L529.63,112.36 L529.55,112.72 L529.47,113.08 L529.39,113.44 L529.30,113.80 L529.22,114.16 L529.13,114.52 L529.04,114.87 L528.95,115.23 L528.85,115.58 L528.75,115.94 L528.64,116.29 L528.53,116.65 L528.42,117.00 L528.30,117.36 L528.18,117.71 L528.05,118.06 L527.92,118.42 L527.79,118.77 L527.65,119.12 L527.51,119.46 L527.36,119.81 L527.21,120.15 L527.06,120.49 L526.90,120.83 L526.75,121.16 L526.58,121.49 L526.42,121.82 L526.25,122.14 L526.08,122.47 L525.90,122.80 L525.71,123.15 L525.52,123.49 L525.32,123.83 L525.12,124.17 L524.90,124.50 L524.68,124.81 L524.45,125.11 L524.21,125.38 L523.96,125.63 L523.71,125.85 L523.44,126.04 L523.15,126.23 L522.83,126.41 L522.49,126.59 L522.14,126.76 L521.78,126.91 L521.41,127.03 L521.03,127.13 L520.66,127.20 L520.30,127.22 L519.94,127.22 L519.59,127.22 L519.23,127.22 L518.87,127.22 L518.51,127.22 L518.15,127.22 L517.79,127.22 L517.42,127.22 L517.06,127.22 L516.70,127.22 L516.33,127.22 L515.97,127.22 L515.60,127.22 L515.23,127.22 L514.86,127.22 L514.49,127.22 L514.12,127.22 L513.75,127.22 L513.38,127.22 L513.00,127.22 L512.63,127.22 L512.25,127.22 L511.87,127.22 L511.49,127.22 L511.11,127.22 L510.73,127.22 L510.34,127.22 L509.96,127.22 L509.57,127.22 L509.19,127.22 L508.80,127.22" fill="none" stroke="#151515" stroke-width="1.15" stroke-linejoin="round"/>
<path d="M509.26,127.22 L509.63,127.22 L510.00,127.22 L510.37,127.22 L510.74,127.22 L511.11,127.22 L511.48,127.22 L511.85,127.22 L512.22,127.22 L512.59,127.22 L512.96,127.22 L513.33,127.22 L513.70,127.22 L514.07,127.22 L514.44,127.22 L514.81,127.22 L515.18,127.22 L515.55,127.22 L515.93,127.22 L516.30,127.22 L516.67,127.22 L517.04,127.22 L517.41,127.22 L517.78,127.22 L518.15,127.22 L518.52,127.22 L518.89,127.22 L519.26,127.22 L519.63,127.22 L520.00,127.22 L520.37,127.22 L520.74,127.22 L521.11,127.22 L521.48,127.22 L521.85,127.22 L522.22,127.22 L522.59,127.22 L522.96,127.22 L523.33,127.22 L523.70,127.22 L524.07,127.22 L524.44,127.22 L524.81,127.21 L525.18,127.21 L525.55,127.20 L525.92,127.20 L526.29,127.19 L526.66,127.18 L527.04,127.17 L527.41,127.16 L527.78,127.15 L528.15,127.14 L528.52,127.12 L528.89,127.11 L529.26,127.10 L529.63,127.08 L530.00,127.07 L530.37,127.05 L530.74,127.03 L531.11,127.02 L531.48,127.00 L531.85,126.98 L532.22,126.96 L532.59,126.95 L532.96,126.93 L533.33,126.91 L533.70,126.89 L534.07,126.87 L534.44,126.85 L534.81,126.84 L535.18,126.82 L535.55,126.80 L535.92,126.78 L536.29,126.76 L536.66,126.74 L537.03,126.72 L537.40,126.70 L537.77,126.68 L538.14,126.66 L538.52,126.64 L538.89,126.61 L539.26,126.59 L539.63,126.57 L540.01,126.54 L540.38,126.52 L540.75,126.49 L541.12,126.46 L541.50,126.44 L541.87,126.41 L542.24,126.38 L542.61,126.35 L542.99,126.32 L543.36,126.29 L543.73,126.26 L544.10,126.22 L544.47,126.19 L544.84,126.16 L545.21,126.12 L545.58,126.08 L545.95,126.05 L546.32,126.01 L546.69,125.97 L547.06,125.93 L547.43,125.89 L547.79,125.84 L548.16,125.80 L548.53,125.75 L548.89,125.71 L549.26,125.66 L549.62,125.61 L549.99,125.56 L550.35,125.51 L550.71,125.46 L551.07,125.40 L551.43,125.35 L551.79,125.29 L552.15,125.23 L552.51,125.17 L552.86,125.11 L553.22,125.03 L553.57,124.93 L553.93,124.83 L554.28,124.72 L554.63,124.60 L554.98,124.47 L555.33,124.34 L555.68,124.20 L556.03,124.06 L556.37,123.92 L556.72,123.77 L557.06,123.62 L557.41,123.48 L557.75,123.33 L558.09,123.19 L558.43,123.05 L558.77,122.90 L559.11,122.76 L559.45,122.61 L559.79,122.45 L560.13,122.30 L560.47,122.14 L560.81,121.98 L561.14,121.82 L561.47,121.65 L561.81,121.49 L562.14,121.31 L562.46,121.14 L562.79,120.96 L563.11,120.78 L563.43,120.60 L563.74,120.41 L564.06,120.22 L564.39,120.02 L564.75,119.82 L565.10,119.62 L565.45,119.41 L565.79,119.19 L566.09,118.96 L566.35,118.72 L566.56,118.48 L566.71,118.22 L566.83,117.95 L566.94,117.67 L567.04,117.38 L567.14,117.07 L567.24,116.76 L567.33,116.44 L567.41,116.11 L567.49,115.77 L567.57,115.42 L567.64,115.07 L567.71,114.71 L567.77,114.34 L567.84,113.97 L567.90,113.59 L567.95,113.21 L568.01,112.82 L568.06,112.43 L568.11,112.04 L568.16,111.64 L568.21,111.25 L568.25,110.85 L568.30,110.45 L568.35,110.05 L568.39,109.65 L568.44,109.26 L568.49,108.86 L568.53,108.47 L568.58,108.08 L568.63,107.69 L568.68,107.30 L568.74,106.92 L568.79,106.55 L568.85,106.18 L568.91,105.81 L568.97,105.44 L569.03,105.08 L569.09,104.71 L569.14,104.35 L569.20,103.98 L569.26,103.61 L569.31,103.25 L569.36,102.88 L569.42,102.51 L569.47,102.15 L569.52,101.78 L569.58,101.41 L569.63,101.05 L569.68,100.68 L569.74,100.31 L569.79,99.95 L569.85,99.58 L569.90,99.21 L569.96,98.85 L570.01,98.48 L570.07,98.11 L570.13,97.75 L570.19,97.38 L570.25,97.02 L570.31,96.65 L570.37,96.29 L570.43,95.92 L570.50,95.56 L570.57,95.20 L570.64,94.83 L570.71,94.47 L570.79,94.11 L570.88,93.75 L570.97,93.39 L571.06,93.03 L571.15,92.67 L571.25,92.31 L571.34,91.95 L571.44,91.59 L571.53,91.23 L571.62,90.87 L571.71,90.51 L571.79,90.15 L571.87,89.79 L571.94,89.42 L572.01,89.06 L572.06,88.70 L572.11,88.33 L572.16,87.97 L572.20,87.60 L572.25,87.24 L572.29,86.87 L572.32,86.50 L572.36,86.14 L572.40,85.77 L572.43,85.40 L572.46,85.03 L572.50,84.66 L572.53,84.30 L572.56,83.93 L572.58,83.56 L572.61,83.19 L572.64,82.82 L572.66,82.45 L572.69,82.08 L572.71,81.71 L572.74,81.34 L572.76,80.97 L572.79,80.59 L572.81,80.22 L572.84,79.85 L572.86,79.48 L572.89,79.11 L572.91,78.74 L572.94,78.37 L572.96,78.00 L572.99,77.63 L573.01,77.26 L573.04,76.89 L573.07,76.52 L573.10,76.15 L573.13,75.78 L573.16,75.41 L573.19,75.04 L573.23,74.67 L573.26,74.30 L573.30,73.94 L573.34,73.57 L573.38,73.20 L573.42,72.83 L573.46,72.46 L573.51,72.10 L573.55,71.73 L573.60,71.36 L573.65,71.00 L573.70,70.63 L573.75,70.26 L573.80,69.89 L573.85,69.53 L573.90,69.16 L573.96,68.79 L574.01,68.43 L574.07,68.06 L574.12,67.69 L574.18,67.33 L574.24,66.96 L574.30,66.60 L574.36,66.23 L574.42,65.86 L574.48,65.50 L574.54,65.13 L574.60,64.77 L574.66,64.40 L574.72,64.04 L574.79,63.67 L574.85,63.31 L574.91,62.94 L574.98,62.58 L575.04,62.21 L575.10,61.85 L575.17,61.48 L575.23,61.12 L575.30,60.75 L575.36,60.39 L575.43,60.02 L575.50,59.65 L575.56,59.29 L575.63,58.92 L575.70,58.56 L575.77,58.19 L575.84,57.83 L575.92,57.46 L576.00,57.10 L576.07,56.74 L576.15,56.38 L576.24,56.02 L576.32,55.66 L576.41,55.30 L576.50,54.94 L576.59,54.59 L576.69,54.23 L576.79,53.88 L576.90,53.52 L577.01,53.16 L577.12,52.80 L577.24,52.44 L577.36,52.08 L577.49,51.73 L577.63,51.38 L577.78,51.04 L577.93,50.70 L578.08,50.37 L578.25,50.05 L578.42,49.74 L578.61,49.43 L578.81,49.11 L579.04,48.79 L579.28,48.47 L579.53,48.17 L579.80,47.90 L580.08,47.65 L580.36,47.44 L580.65,47.28 L580.96,47.14 L581.30,47.00 L581.65,46.87 L582.02,46.76 L582.40,46.66 L582.77,46.58 L583.15,46.52 L583.51,46.49 L583.88,46.46 L584.24,46.44 L584.60,46.42 L584.96,46.39 L585.33,46.37 L585.69,46.35 L586.06,46.33 L586.42,46.31 L586.79,46.30 L587.15,46.28 L587.52,46.26 L587.88,46.25 L588.25,46.23 L588.62,46.22 L588.99,46.20 L589.36,46.19 L589.73,46.18 L590.09,46.17 L590.47,46.16 L590.84,46.15 L591.21,46.14 L591.58,46.13 L591.95,46.12 L592.33,46.12 L592.70,46.11 L593.08,46.11 L593.45,46.10 L593.83,46.10 L594.21,46.09 L594.58,46.09 L594.96,46.09 L595.34,46.09 L595.72,46.09 L596.10,46.09" fill="none" stroke="#151515" stroke-width="1.15" stroke-linejoin="round"/>
<path d="M595.64,46.29 L595.33,46.00 L595.02,45.51 L594.71,46.46 L594.40,45.60 L594.09,45.87 L593.78,45.81 L593.47,46.12 L593.16,45.51 L592.85,45.90 L592.54,45.32 L592.22,45.84 L591.91,45.22 L591.60,45.30 L591.29,45.93 L590.98,45.42 L590.67,45.31 L590.36,45.91 L590.05,45.31 L589.74,44.91 L589.43,45.34 L589.12,44.73 L588.81,45.39 L588.50,45.38 L588.19,44.81 L587.87,44.76 L587.56,44.97 L587.25,44.89 L586.94,44.57 L586.63,45.00 L586.32,44.19 L586.01,44.65 L585.70,44.64 L585.39,44.65 L585.08,44.80 L584.77,44.32 L584.46,44.84 L584.15,44.59 L583.83,44.43 L583.52,44.20 L583.21,44.24 L582.90,44.69 L582.59,44.28 L582.28,44.57 L581.97,44.86 L581.66,44.84 L581.35,44.98 L581.04,44.42 L580.73,44.17 L580.42,44.79 L580.11,44.57 L579.80,44.81 L579.48,44.47 L579.17,44.82 L578.86,44.71 L578.55,44.67 L578.24,44.61 L577.93,44.57 L577.62,44.52 L577.31,44.52 L577.00,44.76 L576.69,44.31 L576.38,44.99 L576.07,44.45 L575.76,44.79 L575.44,44.48 L575.13,44.45 L574.82,45.15 L574.51,44.46 L574.20,44.19 L573.89,44.38 L573.58,44.52 L573.27,45.28 L572.96,44.72 L572.65,44.97 L572.34,44.41 L572.03,44.85 L571.72,44.97 L571.41,45.34 L571.09,44.62 L570.78,45.05 L570.47,44.99 L570.16,44.62 L569.85,44.96 L569.54,44.92 L569.23,44.34 L568.92,45.25 L568.61,45.27 L568.30,45.01 L567.99,44.78 L567.68,45.66 L567.37,45.34 L567.05,45.60 L566.74,45.76 L566.43,45.22 L566.12,45.65 L565.81,45.38 L565.50,45.47 L565.19,45.50 L564.88,45.56 L564.57,45.94 L564.26,45.68 L563.95,45.63 L563.64,45.63 L563.33,45.86 L563.02,45.52 L562.70,45.68 L562.39,45.86 L562.08,45.75 L561.77,45.93 L561.46,45.83 L561.15,46.66 L560.84,46.51 L560.53,46.29 L560.22,46.19 L559.91,46.91 L559.60,46.41 L559.29,46.34 L558.98,46.51 L558.66,46.56 L558.35,46.95 L558.04,46.58 L557.73,47.27 L557.42,46.43 L557.11,46.97 L556.80,46.52 L556.49,47.42 L556.18,46.84 L555.87,46.98 L555.56,47.34 L555.25,47.50 L554.94,46.86 L554.63,47.15 L554.31,46.90 L554.00,47.42 L553.69,47.42 L553.38,47.41 L553.07,47.38 L552.76,47.53 L552.45,47.49" fill="none" stroke="#bd2b2b" stroke-width="1.4" stroke-linejoin="round"/>
<circle cx="552.45" cy="47.72" r="1.75" fill="#bd2b2b" stroke="#444" stroke-width="0.5"/>
<path d="M578.64,50.73 L578.45,51.05 L578.26,50.04 L578.08,50.61 L577.89,50.55 L577.70,50.85 L577.51,50.44 L577.32,50.71 L577.13,50.46 L576.95,51.01 L576.76,50.86 L576.57,50.81 L576.38,50.99 L576.19,50.83 L576.00,50.47 L575.82,51.14 L575.63,51.07 L575.44,50.96 L575.25,51.33 L575.06,51.43 L574.87,50.76 L574.68,50.88 L574.50,51.60 L574.31,51.59 L574.12,50.97 L573.93,50.86 L573.74,51.05 L573.55,51.12 L573.37,50.82 L573.18,51.33 L572.99,50.96 L572.80,51.01 L572.61,51.67 L572.42,51.22 L572.23,51.43 L572.05,51.67 L571.86,51.75 L571.67,51.43 L571.48,51.57 L571.29,51.33 L571.10,52.13 L570.92,51.83 L570.73,51.33 L570.54,51.69 L570.35,51.93 L570.16,51.88 L569.97,52.31 L569.79,52.20 L569.60,51.66 L569.41,51.82 L569.22,51.49 L569.03,51.97 L568.84,51.97 L568.65,52.76 L568.47,52.00 L568.28,51.37 L568.09,51.83 L567.90,52.09 L567.71,51.70 L567.52,51.85 L567.34,52.02 L567.15,52.26 L566.96,52.14 L566.77,51.95 L566.58,52.47 L566.39,52.10 L566.21,52.14 L566.02,51.90 L565.83,52.11 L565.64,52.57 L565.45,51.91 L565.26,52.40 L565.07,52.66 L564.89,52.36 L564.70,52.57 L564.51,52.19 L564.32,52.95 L564.13,52.91 L563.94,52.68 L563.76,52.11 L563.57,52.35 L563.38,52.98 L563.19,53.23 L563.00,52.83 L562.81,53.14 L562.63,52.61 L562.44,52.76 L562.25,52.85 L562.06,53.00 L561.87,52.44 L561.68,53.21 L561.49,53.35 L561.31,52.63 L561.12,52.60 L560.93,53.14 L560.74,52.86 L560.55,52.37 L560.36,53.35 L560.18,53.19 L559.99,53.02 L559.80,53.83 L559.61,53.26 L559.42,53.02 L559.23,53.30 L559.04,52.99 L558.86,53.10 L558.67,53.47 L558.48,53.21 L558.29,53.27 L558.10,53.93 L557.91,53.72 L557.73,53.73 L557.54,53.67 L557.35,53.68 L557.16,54.00 L556.97,53.59 L556.78,54.18 L556.60,53.36 L556.41,53.60 L556.22,53.29 L556.03,53.62 L555.84,53.91 L555.65,54.22 L555.46,53.61 L555.28,53.84 L555.09,53.75 L554.90,53.67 L554.71,53.56 L554.52,53.96 L554.33,53.45 L554.15,54.03 L553.96,54.03 L553.77,53.85 L553.58,53.77 L553.39,53.69 L553.20,54.69 L553.02,53.76 L552.83,54.65 L552.64,54.39 L552.45,54.13" fill="none" stroke="#e17c28" stroke-width="2.0" stroke-linejoin="round"/>
<circle cx="552.45" cy="54.24" r="1.75" fill="#e17c28" stroke="#444" stroke-width="0.5"/>
<path d="M575.31,64.09 L575.15,64.80 L574.98,65.06 L574.82,64.31 L574.65,64.56 L574.49,65.01 L574.32,64.85 L574.16,65.41 L573.99,64.69 L573.83,65.08 L573.67,64.59 L573.50,65.65 L573.34,64.85 L573.17,64.46 L573.01,65.14 L572.84,65.19 L572.68,65.86 L572.51,65.24 L572.35,65.39 L572.19,65.62 L572.02,65.97 L571.86,65.53 L571.69,65.92 L571.53,65.81 L571.36,65.62 L571.20,65.79 L571.03,65.83 L570.87,65.60 L570.71,66.29 L570.54,65.56 L570.38,66.38 L570.21,66.37 L570.05,66.11 L569.88,65.96 L569.72,66.17 L569.55,66.44 L569.39,66.57 L569.23,66.49 L569.06,66.75 L568.90,66.34 L568.73,66.63 L568.57,66.14 L568.40,66.89 L568.24,66.76 L568.07,66.65 L567.91,67.17 L567.74,67.09 L567.58,66.09 L567.42,67.00 L567.25,66.60 L567.09,67.41 L566.92,67.89 L566.76,67.04 L566.59,67.27 L566.43,67.23 L566.26,67.46 L566.10,67.60 L565.94,67.85 L565.77,67.22 L565.61,68.04 L565.44,67.34 L565.28,67.75 L565.11,68.07 L564.95,67.99 L564.78,67.55 L564.62,67.67 L564.46,67.80 L564.29,67.97 L564.13,68.39 L563.96,67.71 L563.80,68.29 L563.63,68.38 L563.47,68.42 L563.30,68.45 L563.14,68.81 L562.98,68.56 L562.81,68.72 L562.65,68.69 L562.48,69.11 L562.32,68.05 L562.15,69.06 L561.99,68.65 L561.82,68.70 L561.66,68.54 L561.50,68.32 L561.33,68.82 L561.17,68.78 L561.00,69.19 L560.84,68.65 L560.67,69.58 L560.51,69.28 L560.34,69.18 L560.18,69.09 L560.02,69.12 L559.85,69.07 L559.69,69.30 L559.52,69.52 L559.36,69.52 L559.19,69.20 L559.03,69.60 L558.86,69.46 L558.70,69.83 L558.54,70.39 L558.37,70.07 L558.21,69.84 L558.04,69.50 L557.88,69.62 L557.71,69.59 L557.55,70.37 L557.38,69.97 L557.22,70.27 L557.05,70.12 L556.89,70.39 L556.73,70.83 L556.56,70.26 L556.40,70.41 L556.23,70.33 L556.07,70.88 L555.90,70.36 L555.74,70.39 L555.57,70.36 L555.41,70.41 L555.25,71.02 L555.08,71.71 L554.92,70.69 L554.75,71.32 L554.59,71.17 L554.42,70.81 L554.26,71.11 L554.09,71.18 L553.93,71.09 L553.77,71.93 L553.60,70.83 L553.44,71.57 L553.27,71.61 L553.11,71.39 L552.94,71.66 L552.78,71.93 L552.61,71.77 L552.45,71.90" fill="none" stroke="#4f9c44" stroke-width="2.0" stroke-linejoin="round"/>
<circle cx="552.45" cy="71.77" r="1.75" fill="#4f9c44" stroke="#444" stroke-width="0.5"/>
<path d="M572.32,88.70 L572.18,87.97 L572.04,89.11 L571.89,89.44 L571.75,89.14 L571.61,89.24 L571.47,88.60 L571.32,89.07 L571.18,88.95 L571.04,89.11 L570.89,89.66 L570.75,89.22 L570.61,89.51 L570.46,89.06 L570.32,89.68 L570.18,89.84 L570.04,89.69 L569.89,89.77 L569.75,90.64 L569.61,89.79 L569.46,89.93 L569.32,90.09 L569.18,90.78 L569.03,91.13 L568.89,90.69 L568.75,90.46 L568.61,90.63 L568.46,91.16 L568.32,90.66 L568.18,91.45 L568.03,91.52 L567.89,91.21 L567.75,91.46 L567.61,91.58 L567.46,91.90 L567.32,91.21 L567.18,91.96 L567.03,91.58 L566.89,91.54 L566.75,91.89 L566.60,91.88 L566.46,91.73 L566.32,91.63 L566.18,91.91 L566.03,92.71 L565.89,92.95 L565.75,92.64 L565.60,92.89 L565.46,92.46 L565.32,92.68 L565.17,92.87 L565.03,92.55 L564.89,92.66 L564.75,93.07 L564.60,93.04 L564.46,92.90 L564.32,93.42 L564.17,93.31 L564.03,93.78 L563.89,93.56 L563.74,93.55 L563.60,93.76 L563.46,93.76 L563.32,93.69 L563.17,93.85 L563.03,94.28 L562.89,94.33 L562.74,94.60 L562.60,93.79 L562.46,94.25 L562.32,94.32 L562.17,94.57 L562.03,94.46 L561.89,94.52 L561.74,94.98 L561.60,94.87 L561.46,94.53 L561.31,95.35 L561.17,95.32 L561.03,94.91 L560.89,95.40 L560.74,94.99 L560.60,95.61 L560.46,95.28 L560.31,95.16 L560.17,95.36 L560.03,95.30 L559.88,95.65 L559.74,95.71 L559.60,95.73 L559.46,95.62 L559.31,94.75 L559.17,95.93 L559.03,95.40 L558.88,96.10 L558.74,96.43 L558.60,96.23 L558.45,96.09 L558.31,96.22 L558.17,96.29 L558.03,96.22 L557.88,96.27 L557.74,96.23 L557.60,96.92 L557.45,96.61 L557.31,96.96 L557.17,96.66 L557.03,96.81 L556.88,96.79 L556.74,97.04 L556.60,97.20 L556.45,97.08 L556.31,96.86 L556.17,96.88 L556.02,97.66 L555.88,97.13 L555.74,97.18 L555.60,97.76 L555.45,97.69 L555.31,97.58 L555.17,97.34 L555.02,98.22 L554.88,97.68 L554.74,97.77 L554.59,97.60 L554.45,97.28 L554.31,97.34 L554.17,97.91 L554.02,97.95 L553.88,97.81 L553.74,97.57 L553.59,97.53 L553.45,97.91 L553.31,97.61 L553.16,98.35 L553.02,98.47 L552.88,99.01 L552.74,98.46 L552.59,98.06 L552.45,98.01" fill="none" stroke="#3f72b8" stroke-width="2.0" stroke-linejoin="round"/>
<circle cx="552.45" cy="98.27" r="1.75" fill="#3f72b8" stroke="#444" stroke-width="0.5"/>
<circle cx="552.45" cy="125.18" r="1.9" fill="#111"/>
<path d="M509.72,126.19 L510.08,127.04 L510.44,127.17 L510.79,127.51 L511.15,127.41 L511.51,127.40 L511.87,127.29 L512.23,127.42 L512.59,127.66 L512.95,126.90 L513.31,127.09 L513.67,126.81 L514.03,127.71 L514.39,127.61 L514.75,127.45 L515.11,126.86 L515.47,127.27 L515.83,127.15 L516.18,127.25 L516.54,127.17 L516.90,127.38 L517.26,127.10 L517.62,127.48 L517.98,127.30 L518.34,127.13 L518.70,127.19 L519.06,127.09 L519.42,127.47 L519.78,127.14 L520.14,127.31 L520.50,127.11 L520.86,126.78 L521.22,127.49 L521.58,126.91 L521.93,127.43 L522.29,127.35 L522.65,126.73 L523.01,126.94 L523.37,127.07 L523.73,126.98" fill="none" stroke="#111" stroke-width="2.0" stroke-linejoin="round" stroke-linecap="round"/>
<text x="121.40" y="59.40" font-family='"Liberation Serif", serif' font-size="9" fill="#222" stroke="#222" stroke-width="0.2">H<tspan font-size="7" dy="1.6">c2</tspan></text>
<text x="108.00" y="94.60" font-family='"Liberation Serif", serif' font-size="9" fill="#222" stroke="#222" stroke-width="0.2">H<tspan font-size="7" dy="1.6">c1</tspan></text>
<text x="259.00" y="63.60" font-family='"Liberation Serif", serif' font-size="9" fill="#222" stroke="#222" stroke-width="0.2">H<tspan font-size="7" dy="1.6">c2</tspan></text>
<text x="244.20" y="98.30" font-family='"Liberation Serif", serif' font-size="9" fill="#222" stroke="#222" stroke-width="0.2">H<tspan font-size="7" dy="1.6">c1</tspan></text>
<text x="448.00" y="56.40" font-family='"Liberation Serif", serif' font-size="9" fill="#222" stroke="#222" stroke-width="0.2">H<tspan font-size="7" dy="1.6">c2</tspan></text>
<text x="425.20" y="81.40" font-family='"Liberation Serif", serif' font-size="9" fill="#222" stroke="#222" stroke-width="0.2">H<tspan font-size="7" dy="1.6">c1</tspan></text>
<text x="579.60" y="58.90" font-family='"Liberation Serif", serif' font-size="9" fill="#222" stroke="#222" stroke-width="0.2">H<tspan font-size="7" dy="1.6">c2</tspan></text>
<text x="559.00" y="83.40" font-family='"Liberation Serif", serif' font-size="9" fill="#222" stroke="#222" stroke-width="0.2">H<tspan font-size="7" dy="1.6">c1</tspan></text>
<g fill="none" stroke-width="1.7" stroke-linejoin="round" stroke-linecap="round">
<path d="M43.80,225.23 L44.41,224.84 L45.01,224.55 L45.62,224.50 L46.23,224.56 L46.83,224.62 L47.44,224.59 L48.05,224.37 L48.66,224.19 L49.26,224.31 L49.87,224.57 L50.48,224.58 L51.08,224.28 L51.69,224.04 L52.30,223.97 L52.90,223.65 L53.51,222.95 L54.12,222.50 L54.73,222.72 L55.33,223.27 L55.94,223.89 L56.55,224.25 L57.15,223.96 L57.76,223.29 L58.37,222.85 L58.97,222.91 L59.58,223.08 L60.19,223.01 L60.80,222.85 L61.40,222.83 L62.01,222.88 L62.62,222.69 L63.22,221.97 L63.83,220.95 L64.44,220.25 L65.04,220.10 L65.65,220.03 L66.26,219.69 L66.87,219.22 L67.47,218.94 L68.08,219.03 L68.69,219.21 L69.29,219.16 L69.90,218.89 L70.51,218.67 L71.11,218.75 L71.72,219.08 L72.33,219.26 L72.94,218.95 L73.54,218.21 L74.15,217.27 L74.76,216.45 L75.36,215.58 L75.97,214.34 L76.58,212.88 L77.18,211.31 L77.79,209.75 L78.40,208.52 L79.01,207.46 L79.61,206.05 L80.22,204.24 L80.83,202.43 L81.43,200.82 L82.04,199.40 L82.65,197.92 L83.25,196.22 L83.86,194.39 L84.47,192.56 L85.08,190.60 L85.68,188.14 L86.29,185.09 L86.90,182.07 L87.50,179.83 L88.11,177.71 L88.72,177.17 L89.32,178.03 L89.93,179.42 L90.54,182.05 L91.15,187.00 L91.75,195.05 L92.36,206.15 L92.97,218.00 L93.57,226.07 L94.18,232.06 L94.79,237.24 L95.39,242.66 L96.00,249.30 L96.61,257.02 L97.22,262.80 L97.82,266.38 L98.43,267.10 L99.04,264.48 L99.64,261.46 L100.25,257.71 L100.86,254.00 L101.46,251.10 L102.07,249.01 L102.68,247.06 L103.29,245.49 L103.89,244.08 L104.50,242.22 L105.11,239.92 L105.71,237.86 L106.32,236.74 L106.93,236.00 L107.53,234.87 L108.14,233.57 L108.75,232.77 L109.36,232.65 L109.96,232.41 L110.57,231.64 L111.18,230.90 L111.78,230.47 L112.39,229.84 L113.00,228.83 L113.60,228.05 L114.21,227.68 L114.82,227.12 L115.42,226.27 L116.03,225.56 L116.64,225.30 L117.25,225.17 L117.85,224.93 L118.46,224.76 L119.07,224.71 L119.67,224.68 L120.28,224.62 L120.89,224.23 L121.49,223.62 L122.10,223.42 L122.71,223.60 L123.32,223.90 L123.92,224.22 L124.53,224.23 L125.14,223.81 L125.74,223.18 L126.35,222.57 L126.96,222.21 L127.56,222.14 L128.17,222.20 L128.78,222.39 L129.39,222.66 L129.99,222.72 L130.60,222.45 L131.21,222.10 L131.81,222.10 L132.42,222.51 L133.03,222.86 L133.63,222.84 L134.24,222.58 L134.85,222.37 L135.46,222.32 L136.06,222.20 L136.67,221.92 L137.28,221.78 L137.88,221.83 L138.49,221.93 L139.10,222.14 L139.70,222.38 L140.31,222.57 L140.92,222.66 L141.53,222.44 L142.13,221.81 L142.74,221.15 L143.35,220.94 L143.95,221.08 L144.56,221.26 L145.17,221.41 L145.77,221.42 L146.38,221.21 L146.99,220.93 L147.60,220.95 L148.20,221.46 L148.81,221.95 L149.42,222.08 L150.02,222.30 L150.63,222.63 L151.24,222.34 L151.84,221.18 L152.45,219.90 L153.06,219.01 L153.67,218.44 L154.27,218.18 L154.88,218.25 L155.49,218.42 L156.09,218.43 L156.70,218.07 L157.31,217.59 L157.91,217.43 L158.52,217.40 L159.13,217.13 L159.74,216.77 L160.34,216.42 L160.95,216.12 L161.56,215.94 L162.16,215.61 L162.77,214.75 L163.38,213.81 L163.98,213.21 L164.59,212.68 L165.20,212.28 L165.81,212.44 L166.41,213.03 L167.02,213.43 L167.63,213.59 L168.23,213.87 L168.84,214.15 L169.45,214.05 L170.05,213.53 L170.66,213.22 L171.27,213.43 L171.88,213.73 L172.48,213.78 L173.09,213.79 L173.70,214.07 L174.30,214.49 L174.91,214.80 L175.52,215.14 L176.12,215.82 L176.73,216.67 L177.34,217.77 L177.94,219.12 L178.55,220.57 L179.16,222.01 L179.77,223.29 L180.37,224.39 L180.98,225.51 L181.59,227.04 L182.19,228.79 L182.80,229.98 L183.41,230.25 L184.01,230.09 L184.62,230.29 L185.23,231.18 L185.84,232.23 L186.44,232.96 L187.05,233.24 L187.66,232.75 L188.26,231.79 L188.87,231.10 L189.48,230.68 L190.08,230.18 L190.69,229.65 L191.30,229.34 L191.91,229.31 L192.51,229.24 L193.12,228.54 L193.73,227.29 L194.33,226.33 L194.94,226.02 L195.55,225.99 L196.15,225.81 L196.76,225.26 L197.37,224.50 L197.98,223.98 L198.58,223.71 L199.19,223.42 L199.80,223.09 L200.40,222.95 L201.01,222.99 L201.62,222.83 L202.22,222.23 L202.83,221.77 L203.44,221.79 L204.05,221.78 L204.65,221.51 L205.26,221.51 L205.87,222.00 L206.47,222.57 L207.08,222.88 L207.69,222.96 L208.29,222.76 L208.90,222.27 L209.51,221.58 L210.12,220.73 L210.72,220.24 L211.33,220.62 L211.94,221.59 L212.54,222.53 L213.15,223.10 L213.76,223.32 L214.36,223.36 L214.97,223.31 L215.58,223.21 L216.19,223.24 L216.79,223.48 L217.40,223.59 L218.01,223.22 L218.61,222.48 L219.22,221.78 L219.83,221.40 L220.43,221.44 L221.04,221.76 L221.65,221.97 L222.26,221.72 L222.86,221.25 L223.47,221.32 L224.08,222.03 L224.68,222.71 L225.29,223.10 L225.90,223.22 L226.50,222.90 L227.11,222.39 L227.72,222.15 L228.33,222.14 L228.93,222.23 L229.54,222.41 L230.15,222.57 L230.75,222.68 L231.36,222.65 L231.97,222.42 L232.57,222.01 L233.18,221.60 L233.79,221.43 L234.40,221.60 L235.00,222.06 L235.61,222.60 L236.22,223.02 L236.82,223.02 L237.43,222.64 L238.04,222.35 L238.64,222.28 L239.25,222.24 L239.86,222.21 L240.47,222.12 L241.07,222.06 L241.68,222.17 L242.29,222.11 L242.89,221.68 L243.50,221.29" stroke="#151515"/>
<path d="M43.80,224.80 L44.41,225.08 L45.01,225.20 L45.62,224.84 L46.23,224.35 L46.83,224.19 L47.44,224.11 L48.05,223.70 L48.66,223.27 L49.26,223.18 L49.87,223.08 L50.48,222.83 L51.08,222.89 L51.69,223.41 L52.30,224.09 L52.90,224.53 L53.51,224.44 L54.12,223.94 L54.73,223.32 L55.33,222.81 L55.94,222.57 L56.55,222.70 L57.15,223.23 L57.76,223.93 L58.37,224.30 L58.97,224.16 L59.58,223.82 L60.19,223.58 L60.80,223.51 L61.40,223.52 L62.01,223.29 L62.62,222.82 L63.22,222.43 L63.83,222.21 L64.44,222.10 L65.04,222.11 L65.65,221.95 L66.26,221.41 L66.87,220.88 L67.47,220.58 L68.08,220.23 L68.69,219.93 L69.29,219.99 L69.90,220.16 L70.51,220.22 L71.11,220.44 L71.72,220.71 L72.33,220.68 L72.94,220.44 L73.54,220.20 L74.15,219.98 L74.76,219.89 L75.36,219.96 L75.97,219.72 L76.58,218.99 L77.18,218.32 L77.79,218.06 L78.40,217.85 L79.01,217.30 L79.61,216.69 L80.22,216.42 L80.83,216.41 L81.43,216.27 L82.04,215.99 L82.65,215.47 L83.25,214.51 L83.86,213.49 L84.47,212.68 L85.08,211.73 L85.68,210.52 L86.29,209.62 L86.90,209.46 L87.50,209.90 L88.11,210.88 L88.72,212.34 L89.32,215.67 L89.93,220.22 L90.54,223.55 L91.15,226.91 L91.75,230.60 L92.36,233.83 L92.97,235.90 L93.57,236.82 L94.18,237.18 L94.79,237.66 L95.39,237.90 L96.00,237.30 L96.61,235.99 L97.22,234.39 L97.82,232.23 L98.43,229.41 L99.04,226.94 L99.64,225.30 L100.25,224.68 L100.86,224.63 L101.46,224.50 L102.07,224.57 L102.68,224.51 L103.29,224.21 L103.89,223.96 L104.50,224.17 L105.11,224.67 L105.71,224.96 L106.32,224.77 L106.93,224.22 L107.53,223.66 L108.14,223.33 L108.75,223.22 L109.36,223.22 L109.96,223.52 L110.57,224.17 L111.18,224.62 L111.78,224.23 L112.39,223.23 L113.00,222.51 L113.60,222.44 L114.21,222.76 L114.82,223.15 L115.42,223.30 L116.03,223.05 L116.64,222.66 L117.25,222.54 L117.85,222.63 L118.46,222.58 L119.07,222.39 L119.67,222.24 L120.28,222.00 L120.89,221.66 L121.49,221.48 L122.10,221.32 L122.71,221.13 L123.32,221.23 L123.92,221.69 L124.53,222.32 L125.14,222.97 L125.74,223.42 L126.35,223.41 L126.96,223.12 L127.56,222.94 L128.17,222.91 L128.78,222.99 L129.39,222.97 L129.99,222.60 L130.60,221.98 L131.21,221.39 L131.81,221.14 L132.42,221.33 L133.03,221.75 L133.63,222.07 L134.24,222.22 L134.85,222.40 L135.46,222.61 L136.06,222.67 L136.67,222.57 L137.28,222.49 L137.88,222.61 L138.49,222.87 L139.10,223.06 L139.70,223.22 L140.31,223.35 L140.92,223.30 L141.53,223.37 L142.13,223.68 L142.74,223.63 L143.35,223.20 L143.95,222.81 L144.56,222.60 L145.17,222.41 L145.77,221.85 L146.38,221.34 L146.99,221.44 L147.60,221.89 L148.20,222.23 L148.81,222.34 L149.42,222.31 L150.02,222.19 L150.63,221.89 L151.24,221.60 L151.84,221.50 L152.45,221.34 L153.06,220.99 L153.67,220.48 L154.27,219.96 L154.88,219.82 L155.49,219.93 L156.09,219.81 L156.70,219.46 L157.31,218.97 L157.91,218.39 L158.52,217.76 L159.13,217.16 L159.74,216.63 L160.34,216.12 L160.95,215.73 L161.56,215.53 L162.16,215.51 L162.77,215.35 L163.38,214.69 L163.98,213.53 L164.59,212.34 L165.20,211.72 L165.81,211.95 L166.41,212.59 L167.02,213.03 L167.63,213.03 L168.23,212.75 L168.84,212.56 L169.45,212.88 L170.05,213.42 L170.66,213.54 L171.27,213.34 L171.88,213.35 L172.48,213.57 L173.09,213.90 L173.70,214.45 L174.30,215.24 L174.91,216.07 L175.52,216.72 L176.12,217.24 L176.73,217.95 L177.34,218.70 L177.94,219.29 L178.55,220.19 L179.16,221.69 L179.77,223.65 L180.37,225.54 L180.98,226.91 L181.59,227.90 L182.19,228.64 L182.80,229.25 L183.41,229.73 L184.01,230.16 L184.62,230.82 L185.23,231.72 L185.84,232.46 L186.44,232.77 L187.05,232.77 L187.66,232.80 L188.26,232.72 L188.87,232.20 L189.48,231.52 L190.08,231.17 L190.69,231.25 L191.30,231.14 L191.91,230.26 L192.51,229.06 L193.12,228.42 L193.73,228.25 L194.33,228.08 L194.94,228.12 L195.55,228.38 L196.15,228.22 L196.76,227.31 L197.37,226.10 L197.98,225.20 L198.58,224.67 L199.19,224.38 L199.80,224.45 L200.40,224.66 L201.01,224.59 L201.62,224.33 L202.22,223.98 L202.83,223.52 L203.44,223.16 L204.05,223.06 L204.65,222.92 L205.26,222.47 L205.87,222.24 L206.47,222.62 L207.08,222.86 L207.69,222.49 L208.29,222.07 L208.90,222.08 L209.51,222.28 L210.12,222.48 L210.72,222.81 L211.33,223.05 L211.94,222.85 L212.54,222.30 L213.15,221.81 L213.76,221.60 L214.36,221.57 L214.97,221.59 L215.58,221.78 L216.19,222.31 L216.79,222.95 L217.40,223.18 L218.01,223.05 L218.61,222.95 L219.22,222.85 L219.83,222.71 L220.43,222.57 L221.04,222.44 L221.65,222.45 L222.26,222.34 L222.86,221.70 L223.47,221.15 L224.08,221.24 L224.68,221.42 L225.29,221.36 L225.90,221.52 L226.50,222.00 L227.11,222.26 L227.72,222.13 L228.33,221.90 L228.93,221.81 L229.54,221.94 L230.15,222.23 L230.75,222.54 L231.36,222.77 L231.97,222.82 L232.57,222.73 L233.18,222.61 L233.79,222.35 L234.40,222.12 L235.00,222.23 L235.61,222.41 L236.22,222.32 L236.82,222.18 L237.43,222.08 L238.04,222.02 L238.64,222.06 L239.25,222.16 L239.86,222.14 L240.47,221.97 L241.07,222.08 L241.68,222.49 L242.29,222.67 L242.89,222.71 L243.50,222.87" stroke="#3f72b8"/>
<path d="M43.80,217.86 L44.41,217.34 L45.01,216.89 L45.62,216.84 L46.23,217.17 L46.83,217.58 L47.44,217.71 L48.05,217.65 L48.66,217.72 L49.26,218.02 L49.87,218.30 L50.48,218.32 L51.08,218.37 L51.69,218.89 L52.30,219.65 L52.90,220.07 L53.51,220.20 L54.12,220.41 L54.73,220.68 L55.33,220.73 L55.94,220.42 L56.55,219.94 L57.15,219.57 L57.76,219.32 L58.37,219.06 L58.97,218.78 L59.58,218.73 L60.19,219.37 L60.80,220.68 L61.40,222.08 L62.01,222.76 L62.62,222.34 L63.22,221.51 L63.83,221.14 L64.44,221.23 L65.04,221.41 L65.65,221.87 L66.26,222.70 L66.87,223.34 L67.47,223.31 L68.08,222.92 L68.69,222.77 L69.29,222.95 L69.90,223.04 L70.51,222.76 L71.11,222.47 L71.72,222.39 L72.33,222.54 L72.94,223.13 L73.54,224.16 L74.15,225.01 L74.76,225.05 L75.36,224.60 L75.97,224.58 L76.58,225.17 L77.18,225.88 L77.79,226.43 L78.40,226.95 L79.01,227.41 L79.61,227.75 L80.22,228.33 L80.83,229.76 L81.43,231.75 L82.04,233.46 L82.65,234.69 L83.25,235.86 L83.86,237.56 L84.47,239.82 L85.08,242.24 L85.68,244.55 L86.29,246.63 L86.90,248.40 L87.50,250.31 L88.11,252.77 L88.72,255.57 L89.32,258.37 L89.93,261.27 L90.54,264.28 L91.15,266.75 L91.75,267.76 L92.36,266.58 L92.97,262.72 L93.57,257.55 L94.18,249.38 L94.79,240.80 L95.39,234.69 L96.00,230.81 L96.61,227.00 L97.22,221.71 L97.82,212.41 L98.43,201.51 L99.04,193.99 L99.64,187.71 L100.25,182.67 L100.86,179.52 L101.46,177.11 L102.07,175.57 L102.68,176.20 L103.29,179.05 L103.89,181.75 L104.50,184.43 L105.11,187.66 L105.71,191.05 L106.32,194.02 L106.93,196.33 L107.53,197.93 L108.14,199.11 L108.75,200.19 L109.36,201.34 L109.96,202.62 L110.57,204.17 L111.18,205.75 L111.78,207.02 L112.39,207.89 L113.00,208.39 L113.60,208.71 L114.21,209.17 L114.82,210.04 L115.42,211.30 L116.03,212.63 L116.64,213.59 L117.25,213.98 L117.85,213.93 L118.46,213.71 L119.07,213.50 L119.67,213.49 L120.28,213.84 L120.89,214.48 L121.49,215.17 L122.10,215.67 L122.71,216.06 L123.32,216.51 L123.92,216.82 L124.53,216.75 L125.14,216.88 L125.74,217.75 L126.35,218.94 L126.96,219.76 L127.56,219.90 L128.17,219.59 L128.78,219.26 L129.39,218.89 L129.99,218.56 L130.60,218.79 L131.21,219.45 L131.81,219.85 L132.42,219.99 L133.03,220.13 L133.63,220.22 L134.24,220.10 L134.85,219.91 L135.46,219.90 L136.06,219.93 L136.67,219.91 L137.28,219.99 L137.88,220.11 L138.49,220.08 L139.10,220.10 L139.70,220.56 L140.31,221.32 L140.92,221.94 L141.53,222.20 L142.13,222.16 L142.74,222.06 L143.35,222.21 L143.95,222.35 L144.56,222.05 L145.17,221.68 L145.77,221.66 L146.38,221.83 L146.99,222.11 L147.60,222.68 L148.20,223.19 L148.81,223.02 L149.42,222.18 L150.02,221.28 L150.63,220.96 L151.24,221.28 L151.84,221.69 L152.45,221.70 L153.06,221.38 L153.67,220.98 L154.27,220.41 L154.88,219.55 L155.49,218.71 L156.09,218.29 L156.70,218.27 L157.31,218.39 L157.91,218.10 L158.52,217.09 L159.13,215.88 L159.74,215.15 L160.34,214.83 L160.95,214.48 L161.56,213.98 L162.16,213.53 L162.77,213.37 L163.38,213.43 L163.98,213.64 L164.59,214.09 L165.20,214.54 L165.81,214.53 L166.41,214.17 L167.02,213.91 L167.63,213.81 L168.23,213.68 L168.84,213.63 L169.45,213.78 L170.05,213.69 L170.66,213.28 L171.27,213.29 L171.88,214.04 L172.48,214.82 L173.09,214.85 L173.70,214.39 L174.30,214.22 L174.91,214.69 L175.52,215.56 L176.12,216.32 L176.73,216.84 L177.34,217.39 L177.94,218.28 L178.55,219.92 L179.16,222.14 L179.77,224.34 L180.37,225.98 L180.98,226.92 L181.59,227.44 L182.19,227.89 L182.80,228.82 L183.41,230.31 L184.01,231.64 L184.62,232.25 L185.23,232.31 L185.84,232.25 L186.44,232.53 L187.05,233.27 L187.66,234.18 L188.26,234.71 L188.87,234.46 L189.48,233.62 L190.08,232.68 L190.69,232.05 L191.30,231.57 L191.91,230.83 L192.51,230.15 L193.12,229.89 L193.73,229.63 L194.33,229.07 L194.94,228.29 L195.55,227.26 L196.15,226.20 L196.76,225.69 L197.37,225.63 L197.98,225.37 L198.58,224.88 L199.19,224.46 L199.80,224.08 L200.40,223.61 L201.01,223.21 L201.62,223.03 L202.22,222.89 L202.83,222.63 L203.44,222.31 L204.05,221.98 L204.65,221.77 L205.26,221.86 L205.87,222.18 L206.47,222.64 L207.08,223.10 L207.69,223.31 L208.29,223.20 L208.90,223.02 L209.51,222.98 L210.12,222.85 L210.72,222.58 L211.33,222.42 L211.94,222.25 L212.54,221.91 L213.15,221.71 L213.76,221.68 L214.36,221.68 L214.97,221.73 L215.58,221.69 L216.19,221.70 L216.79,221.96 L217.40,222.18 L218.01,222.29 L218.61,222.35 L219.22,222.06 L219.83,221.47 L220.43,221.28 L221.04,221.65 L221.65,221.97 L222.26,222.09 L222.86,222.31 L223.47,222.47 L224.08,222.25 L224.68,221.82 L225.29,221.37 L225.90,221.07 L226.50,221.10 L227.11,221.53 L227.72,222.12 L228.33,222.54 L228.93,222.57 L229.54,222.44 L230.15,222.39 L230.75,222.27 L231.36,221.77 L231.97,221.05 L232.57,220.85 L233.18,221.28 L233.79,221.68 L234.40,221.64 L235.00,221.48 L235.61,221.58 L236.22,221.93 L236.82,222.26 L237.43,222.46 L238.04,222.50 L238.64,222.39 L239.25,222.20 L239.86,221.93 L240.47,221.62 L241.07,221.47 L241.68,221.54 L242.29,221.78 L242.89,221.97 L243.50,221.97" stroke="#4f9c44"/>
<path d="M43.80,217.87 L44.41,217.85 L45.01,217.95 L45.62,218.38 L46.23,218.95 L46.83,219.22 L47.44,219.25 L48.05,219.47 L48.66,219.99 L49.26,220.27 L49.87,219.97 L50.48,219.58 L51.08,219.63 L51.69,220.01 L52.30,220.46 L52.90,220.64 L53.51,220.33 L54.12,219.85 L54.73,219.65 L55.33,219.76 L55.94,220.07 L56.55,220.31 L57.15,220.21 L57.76,219.80 L58.37,219.58 L58.97,219.94 L59.58,220.66 L60.19,221.19 L60.80,221.31 L61.40,221.41 L62.01,221.82 L62.62,222.14 L63.22,222.03 L63.83,221.78 L64.44,221.92 L65.04,222.33 L65.65,222.49 L66.26,222.59 L66.87,222.87 L67.47,222.85 L68.08,222.53 L68.69,222.63 L69.29,223.25 L69.90,223.50 L70.51,223.17 L71.11,223.19 L71.72,223.91 L72.33,224.41 L72.94,224.27 L73.54,224.08 L74.15,224.34 L74.76,225.04 L75.36,225.73 L75.97,226.03 L76.58,226.31 L77.18,227.25 L77.79,228.47 L78.40,228.96 L79.01,229.08 L79.61,229.78 L80.22,230.86 L80.83,231.95 L81.43,233.23 L82.04,234.91 L82.65,236.83 L83.25,238.72 L83.86,240.49 L84.47,242.40 L85.08,244.50 L85.68,246.48 L86.29,248.23 L86.90,250.05 L87.50,252.19 L88.11,254.38 L88.72,256.49 L89.32,258.73 L89.93,260.61 L90.54,261.54 L91.15,260.85 L91.75,258.61 L92.36,254.62 L92.97,246.20 L93.57,237.83 L94.18,233.47 L94.79,231.10 L95.39,228.93 L96.00,225.11 L96.61,217.50 L97.22,205.68 L97.82,196.27 L98.43,189.21 L99.04,183.33 L99.64,180.00 L100.25,177.96 L100.86,177.12 L101.46,178.38 L102.07,181.62 L102.68,184.91 L103.29,187.41 L103.89,189.61 L104.50,191.57 L105.11,193.56 L105.71,195.71 L106.32,197.88 L106.93,199.89 L107.53,201.55 L108.14,202.91 L108.75,204.18 L109.36,205.54 L109.96,206.84 L110.57,207.80 L111.18,208.45 L111.78,208.86 L112.39,209.18 L113.00,209.91 L113.60,211.30 L114.21,212.86 L114.82,213.96 L115.42,214.54 L116.03,215.02 L116.64,215.37 L117.25,215.39 L117.85,215.54 L118.46,216.12 L119.07,216.75 L119.67,217.17 L120.28,217.52 L120.89,217.78 L121.49,217.63 L122.10,217.41 L122.71,217.68 L123.32,218.38 L123.92,219.11 L124.53,219.59 L125.14,219.70 L125.74,219.74 L126.35,219.73 L126.96,219.48 L127.56,219.36 L128.17,219.97 L128.78,221.02 L129.39,221.62 L129.99,221.34 L130.60,220.60 L131.21,220.24 L131.81,220.58 L132.42,221.23 L133.03,221.53 L133.63,221.40 L134.24,221.26 L134.85,221.17 L135.46,220.96 L136.06,220.90 L136.67,221.36 L137.28,222.11 L137.88,222.42 L138.49,222.07 L139.10,221.62 L139.70,221.52 L140.31,221.57 L140.92,221.43 L141.53,221.19 L142.13,221.20 L142.74,221.51 L143.35,221.83 L143.95,221.94 L144.56,222.02 L145.17,222.19 L145.77,222.08 L146.38,221.46 L146.99,220.73 L147.60,220.35 L148.20,220.47 L148.81,221.04 L149.42,221.71 L150.02,221.92 L150.63,221.45 L151.24,220.73 L151.84,220.36 L152.45,220.36 L153.06,220.59 L153.67,220.90 L154.27,221.05 L154.88,220.91 L155.49,220.67 L156.09,220.61 L156.70,220.81 L157.31,221.23 L157.91,221.64 L158.52,221.82 L159.13,221.80 L159.74,221.82 L160.34,221.75 L160.95,221.20 L161.56,220.74 L162.16,221.01 L162.77,221.37 L163.38,221.06 L163.98,220.47 L164.59,220.09 L165.20,219.81 L165.81,219.33 L166.41,218.50 L167.02,217.84 L167.63,217.94 L168.23,218.35 L168.84,218.31 L169.45,217.82 L170.05,217.35 L170.66,217.25 L171.27,217.50 L171.88,217.67 L172.48,217.53 L173.09,217.46 L173.70,217.64 L174.30,217.76 L174.91,217.56 L175.52,217.21 L176.12,216.96 L176.73,216.76 L177.34,216.52 L177.94,216.53 L178.55,216.90 L179.16,217.28 L179.77,217.58 L180.37,218.14 L180.98,219.00 L181.59,219.82 L182.19,220.31 L182.80,220.56 L183.41,220.91 L184.01,221.71 L184.62,222.59 L185.23,223.14 L185.84,223.53 L186.44,224.38 L187.05,225.89 L187.66,227.43 L188.26,228.36 L188.87,228.84 L189.48,229.39 L190.08,229.97 L190.69,230.24 L191.30,230.02 L191.91,229.38 L192.51,228.71 L193.12,228.26 L193.73,227.95 L194.33,227.51 L194.94,226.78 L195.55,225.84 L196.15,225.01 L196.76,224.63 L197.37,224.73 L197.98,225.13 L198.58,225.30 L199.19,224.85 L199.80,224.26 L200.40,224.02 L201.01,224.04 L201.62,223.89 L202.22,223.20 L202.83,222.33 L203.44,221.97 L204.05,222.15 L204.65,222.19 L205.26,221.89 L205.87,221.56 L206.47,221.44 L207.08,221.66 L207.69,221.78 L208.29,221.55 L208.90,221.47 L209.51,221.63 L210.12,221.61 L210.72,221.53 L211.33,221.76 L211.94,222.29 L212.54,222.47 L213.15,221.85 L213.76,220.85 L214.36,220.22 L214.97,220.36 L215.58,221.13 L216.19,222.01 L216.79,222.60 L217.40,222.92 L218.01,223.21 L218.61,223.51 L219.22,223.45 L219.83,222.68 L220.43,221.55 L221.04,220.88 L221.65,221.11 L222.26,221.81 L222.86,222.47 L223.47,223.02 L224.08,223.25 L224.68,222.88 L225.29,222.26 L225.90,222.10 L226.50,222.27 L227.11,222.10 L227.72,221.73 L228.33,221.70 L228.93,222.10 L229.54,222.54 L230.15,222.58 L230.75,222.31 L231.36,222.27 L231.97,222.52 L232.57,222.57 L233.18,222.30 L233.79,221.98 L234.40,221.63 L235.00,221.25 L235.61,220.87 L236.22,220.72 L236.82,221.03 L237.43,221.72 L238.04,222.29 L238.64,222.20 L239.25,221.45 L239.86,220.58 L240.47,220.12 L241.07,220.26 L241.68,220.80 L242.29,221.27 L242.89,221.50 L243.50,221.64" stroke="#e17c28"/>
<path d="M43.80,218.29 L44.41,218.32 L45.01,218.33 L45.62,218.50 L46.23,218.72 L46.83,218.79 L47.44,218.77 L48.05,218.89 L48.66,219.23 L49.26,219.51 L49.87,219.40 L50.48,219.22 L51.08,219.45 L51.69,220.00 L52.30,220.60 L52.90,220.83 L53.51,220.50 L54.12,220.24 L54.73,220.33 L55.33,220.59 L55.94,220.92 L56.55,221.08 L57.15,220.83 L57.76,220.36 L58.37,220.17 L58.97,220.38 L59.58,220.69 L60.19,221.31 L60.80,222.20 L61.40,222.48 L62.01,222.02 L62.62,221.48 L63.22,221.19 L63.83,221.43 L64.44,222.39 L65.04,223.54 L65.65,224.05 L66.26,223.76 L66.87,223.29 L67.47,223.07 L68.08,223.09 L68.69,222.96 L69.29,222.56 L69.90,222.60 L70.51,223.49 L71.11,224.65 L71.72,225.46 L72.33,225.92 L72.94,226.27 L73.54,226.45 L74.15,226.46 L74.76,226.64 L75.36,227.12 L75.97,227.73 L76.58,228.64 L77.18,230.26 L77.79,232.08 L78.40,233.12 L79.01,233.63 L79.61,234.47 L80.22,235.88 L80.83,237.44 L81.43,238.81 L82.04,240.20 L82.65,241.91 L83.25,243.81 L83.86,245.79 L84.47,248.00 L85.08,250.54 L85.68,253.10 L86.29,255.33 L86.90,257.37 L87.50,259.19 L88.11,260.75 L88.72,262.73 L89.32,265.16 L89.93,267.19 L90.54,267.29 L91.15,264.09 L91.75,257.94 L92.36,249.43 L92.97,241.05 L93.57,233.35 L94.18,229.65 L94.79,227.10 L95.39,224.17 L96.00,216.61 L96.61,196.69 L97.22,186.33 L97.82,182.42 L98.43,180.27 L99.04,178.44 L99.64,177.37 L100.25,177.43 L100.86,178.40 L101.46,180.68 L102.07,185.33 L102.68,189.66 L103.29,192.26 L103.89,194.66 L104.50,197.44 L105.11,200.26 L105.71,202.52 L106.32,203.94 L106.93,204.82 L107.53,205.74 L108.14,207.09 L108.75,208.55 L109.36,209.56 L109.96,210.18 L110.57,210.62 L111.18,210.77 L111.78,210.88 L112.39,211.51 L113.00,212.60 L113.60,213.86 L114.21,215.02 L114.82,215.66 L115.42,215.49 L116.03,214.97 L116.64,214.93 L117.25,215.72 L117.85,216.97 L118.46,218.14 L119.07,218.93 L119.67,219.27 L120.28,219.47 L120.89,219.78 L121.49,220.36 L122.10,221.27 L122.71,222.12 L123.32,222.52 L123.92,222.40 L124.53,221.76 L125.14,220.94 L125.74,220.43 L126.35,220.09 L126.96,219.82 L127.56,219.88 L128.17,220.12 L128.78,220.27 L129.39,220.52 L129.99,221.00 L130.60,221.64 L131.21,222.19 L131.81,222.22 L132.42,221.80 L133.03,221.46 L133.63,221.31 L134.24,220.97 L134.85,220.38 L135.46,219.97 L136.06,220.03 L136.67,220.53 L137.28,221.17 L137.88,221.57 L138.49,221.67 L139.10,221.62 L139.70,221.36 L140.31,221.19 L140.92,221.41 L141.53,221.48 L142.13,220.99 L142.74,220.49 L143.35,220.53 L143.95,221.02 L144.56,221.72 L145.17,222.22 L145.77,222.19 L146.38,221.74 L146.99,221.46 L147.60,221.61 L148.20,222.01 L148.81,222.42 L149.42,222.52 L150.02,222.39 L150.63,222.60 L151.24,223.29 L151.84,223.90 L152.45,223.87 L153.06,223.33 L153.67,222.97 L154.27,223.38 L154.88,224.33 L155.49,225.18 L156.09,225.62 L156.70,225.65 L157.31,225.64 L157.91,225.97 L158.52,226.64 L159.13,227.25 L159.74,227.58 L160.34,228.05 L160.95,228.91 L161.56,229.63 L162.16,229.87 L162.77,229.90 L163.38,229.79 L163.98,229.67 L164.59,229.68 L165.20,229.63 L165.81,229.33 L166.41,228.95 L167.02,229.02 L167.63,229.62 L168.23,230.09 L168.84,230.04 L169.45,229.64 L170.05,229.45 L170.66,229.62 L171.27,229.91 L171.88,230.25 L172.48,230.26 L173.09,229.50 L173.70,228.43 L174.30,227.89 L174.91,227.66 L175.52,227.21 L176.12,226.56 L176.73,225.56 L177.34,223.95 L177.94,222.33 L178.55,221.17 L179.16,220.14 L179.77,218.97 L180.37,217.70 L180.98,216.27 L181.59,214.97 L182.19,214.26 L182.80,213.96 L183.41,213.65 L184.01,213.12 L184.62,212.40 L185.23,211.89 L185.84,212.08 L186.44,212.71 L187.05,212.83 L187.66,212.20 L188.26,211.86 L188.87,212.28 L189.48,212.63 L190.08,212.29 L190.69,211.89 L191.30,211.99 L191.91,212.19 L192.51,212.21 L193.12,212.46 L193.73,213.15 L194.33,213.93 L194.94,214.31 L195.55,214.55 L196.15,215.38 L196.76,216.83 L197.37,218.12 L197.98,218.70 L198.58,218.84 L199.19,218.94 L199.80,219.06 L200.40,219.26 L201.01,219.53 L201.62,219.87 L202.22,220.38 L202.83,220.74 L203.44,220.65 L204.05,220.63 L204.65,221.08 L205.26,221.44 L205.87,221.60 L206.47,222.09 L207.08,222.70 L207.69,222.69 L208.29,221.93 L208.90,221.13 L209.51,220.91 L210.12,221.22 L210.72,221.77 L211.33,222.30 L211.94,222.54 L212.54,222.39 L213.15,221.95 L213.76,221.56 L214.36,221.56 L214.97,221.81 L215.58,222.09 L216.19,222.54 L216.79,223.03 L217.40,223.26 L218.01,223.15 L218.61,222.73 L219.22,222.29 L219.83,222.10 L220.43,222.13 L221.04,222.41 L221.65,222.82 L222.26,223.11 L222.86,223.14 L223.47,223.04 L224.08,222.87 L224.68,222.80 L225.29,223.12 L225.90,223.64 L226.50,223.63 L227.11,222.93 L227.72,222.05 L228.33,221.38 L228.93,220.98 L229.54,220.97 L230.15,221.50 L230.75,222.34 L231.36,223.03 L231.97,223.19 L232.57,222.83 L233.18,222.34 L233.79,222.10 L234.40,222.04 L235.00,221.95 L235.61,221.79 L236.22,221.74 L236.82,221.88 L237.43,222.22 L238.04,222.61 L238.64,222.63 L239.25,222.30 L239.86,222.05 L240.47,221.94 L241.07,221.67 L241.68,221.52 L242.29,221.82 L242.89,222.13 L243.50,222.14" stroke="#bd2b2b"/>
</g>
<g fill="none" stroke-width="1.7" stroke-linejoin="round" stroke-linecap="round">
<path d="M376.40,222.67 L377.01,221.95 L377.61,221.21 L378.22,220.99 L378.83,221.17 L379.43,221.38 L380.04,221.51 L380.65,221.66 L381.26,221.88 L381.86,221.96 L382.47,221.74 L383.08,221.47 L383.68,221.50 L384.29,221.77 L384.90,221.68 L385.50,220.94 L386.11,220.29 L386.72,220.52 L387.33,221.29 L387.93,221.81 L388.54,221.89 L389.15,221.71 L389.75,221.40 L390.36,221.02 L390.97,220.77 L391.57,220.94 L392.18,221.38 L392.79,221.63 L393.40,221.71 L394.00,221.64 L394.61,221.23 L395.22,220.61 L395.82,220.08 L396.43,219.36 L397.04,218.20 L397.64,217.06 L398.25,216.47 L398.86,216.30 L399.47,216.12 L400.07,215.45 L400.68,214.12 L401.29,212.39 L401.89,210.54 L402.50,208.89 L403.11,207.68 L403.71,206.71 L404.32,205.90 L404.93,205.13 L405.54,203.85 L406.14,201.79 L406.75,198.99 L407.36,195.43 L407.96,191.40 L408.57,187.34 L409.18,183.93 L409.78,181.02 L410.39,178.59 L411.00,176.26 L411.61,175.82 L412.21,177.08 L412.82,177.76 L413.43,178.27 L414.03,180.94 L414.64,188.83 L415.25,198.28 L415.85,206.58 L416.46,214.74 L417.07,222.88 L417.68,232.06 L418.28,240.08 L418.89,245.00 L419.50,248.87 L420.10,252.61 L420.71,256.20 L421.32,256.59 L421.92,255.51 L422.53,254.17 L423.14,252.45 L423.75,250.57 L424.35,248.77 L424.96,246.99 L425.57,245.48 L426.17,244.25 L426.78,242.99 L427.39,241.50 L427.99,239.79 L428.60,238.06 L429.21,236.51 L429.82,235.51 L430.42,235.07 L431.03,235.01 L431.64,234.71 L432.24,234.05 L432.85,233.39 L433.46,232.95 L434.06,232.57 L434.67,232.08 L435.28,231.51 L435.89,231.17 L436.49,231.18 L437.10,231.23 L437.71,230.97 L438.31,230.34 L438.92,229.76 L439.53,229.57 L440.13,229.83 L440.74,230.34 L441.35,230.50 L441.96,229.98 L442.56,229.11 L443.17,228.32 L443.78,227.75 L444.38,227.37 L444.99,227.25 L445.60,227.44 L446.20,227.50 L446.81,227.13 L447.42,226.73 L448.02,226.53 L448.63,226.05 L449.24,225.43 L449.85,225.25 L450.45,225.28 L451.06,224.95 L451.67,224.44 L452.27,224.22 L452.88,224.19 L453.49,223.93 L454.09,223.45 L454.70,223.09 L455.31,223.19 L455.92,223.64 L456.52,223.74 L457.13,223.12 L457.74,222.39 L458.34,222.06 L458.95,221.95 L459.56,222.02 L460.16,222.31 L460.77,222.56 L461.38,222.61 L461.99,222.44 L462.59,222.15 L463.20,222.15 L463.81,222.59 L464.41,223.03 L465.02,223.03 L465.63,222.71 L466.23,222.47 L466.84,222.50 L467.45,222.54 L468.06,222.32 L468.66,221.97 L469.27,221.78 L469.88,221.80 L470.48,222.06 L471.09,222.45 L471.70,222.52 L472.30,222.19 L472.91,222.04 L473.52,222.55 L474.13,223.48 L474.73,224.10 L475.34,223.94 L475.95,223.09 L476.55,222.19 L477.16,221.80 L477.77,221.81 L478.37,221.85 L478.98,221.88 L479.59,222.00 L480.20,222.27 L480.80,222.72 L481.41,222.97 L482.02,222.64 L482.62,222.19 L483.23,222.19 L483.84,222.44 L484.44,222.53 L485.05,222.34 L485.66,222.27 L486.27,222.78 L486.87,223.61 L487.48,224.06 L488.09,223.88 L488.69,223.30 L489.30,222.32 L489.91,221.20 L490.51,220.49 L491.12,220.08 L491.73,219.50 L492.34,219.00 L492.94,218.81 L493.55,218.89 L494.16,219.12 L494.76,219.17 L495.37,218.75 L495.98,217.96 L496.58,217.24 L497.19,216.83 L497.80,216.16 L498.41,214.76 L499.01,212.97 L499.62,211.30 L500.23,210.16 L500.83,209.34 L501.44,208.35 L502.05,207.18 L502.65,206.26 L503.26,205.87 L503.87,205.75 L504.48,206.09 L505.08,206.95 L505.69,208.10 L506.30,209.93 L506.90,212.49 L507.51,215.26 L508.12,217.59 L508.72,220.07 L509.33,223.00 L509.94,224.54 L510.54,225.02 L511.15,225.37 L511.76,226.03 L512.37,226.82 L512.97,227.18 L513.58,227.19 L514.19,227.35 L514.79,227.85 L515.40,228.52 L516.01,229.14 L516.61,229.55 L517.22,229.83 L517.83,230.33 L518.44,231.23 L519.04,232.43 L519.65,233.57 L520.26,234.34 L520.86,234.52 L521.47,234.20 L522.08,233.84 L522.68,233.59 L523.29,233.37 L523.90,233.10 L524.51,232.60 L525.11,231.41 L525.72,229.77 L526.33,228.20 L526.93,227.12 L527.54,226.53 L528.15,226.02 L528.75,225.62 L529.36,225.35 L529.97,225.25 L530.58,225.31 L531.18,225.32 L531.79,225.17 L532.40,224.85 L533.00,224.39 L533.61,224.04 L534.22,224.17 L534.82,224.64 L535.43,224.87 L536.04,224.58 L536.65,224.05 L537.25,223.71 L537.86,223.63 L538.47,223.55 L539.07,223.38 L539.68,223.12 L540.29,222.57 L540.89,221.87 L541.50,221.57 L542.11,221.85 L542.72,222.31 L543.32,222.52 L543.93,222.40 L544.54,222.27 L545.14,222.31 L545.75,222.41 L546.36,222.37 L546.96,222.12 L547.57,221.77 L548.18,221.74 L548.79,222.32 L549.39,223.16 L550.00,223.65 L550.61,223.57 L551.21,223.04 L551.82,222.46 L552.43,222.25 L553.03,222.41 L553.64,222.73 L554.25,223.19 L554.86,223.57 L555.46,223.49 L556.07,222.94 L556.68,222.38 L557.28,221.99 L557.89,221.63 L558.50,221.55 L559.10,221.90 L559.71,222.31 L560.32,222.43 L560.93,222.23 L561.53,221.92 L562.14,221.62 L562.75,221.36 L563.35,221.31 L563.96,221.54 L564.57,221.86 L565.17,222.13 L565.78,222.38 L566.39,222.49 L567.00,222.39 L567.60,222.21 L568.21,222.03 L568.82,222.02 L569.42,222.40 L570.03,222.86 L570.64,223.23 L571.24,223.57 L571.85,223.77 L572.46,223.68 L573.07,223.26 L573.67,222.58 L574.28,221.87 L574.89,221.34 L575.49,221.03 L576.10,220.89" stroke="#151515"/>
<path d="M376.40,221.87 L377.01,221.92 L377.61,222.02 L378.22,222.12 L378.83,221.92 L379.43,221.48 L380.04,221.27 L380.65,221.35 L381.26,221.56 L381.86,222.00 L382.47,222.58 L383.08,222.92 L383.68,222.89 L384.29,222.57 L384.90,222.08 L385.50,221.72 L386.11,221.85 L386.72,222.31 L387.33,222.65 L387.93,222.64 L388.54,222.33 L389.15,222.17 L389.75,222.46 L390.36,222.77 L390.97,222.53 L391.57,221.94 L392.18,221.59 L392.79,221.70 L393.40,222.02 L394.00,222.16 L394.61,222.07 L395.22,221.82 L395.82,221.61 L396.43,221.67 L397.04,222.01 L397.64,222.45 L398.25,222.78 L398.86,222.74 L399.47,222.48 L400.07,222.54 L400.68,222.75 L401.29,222.45 L401.89,221.60 L402.50,220.84 L403.11,220.79 L403.71,221.43 L404.32,222.03 L404.93,221.99 L405.54,221.57 L406.14,221.28 L406.75,221.13 L407.36,220.82 L407.96,220.46 L408.57,220.56 L409.18,221.04 L409.78,221.21 L410.39,220.97 L411.00,220.69 L411.61,220.49 L412.21,220.63 L412.82,221.12 L413.43,221.44 L414.03,221.34 L414.64,220.94 L415.25,220.43 L415.85,220.13 L416.46,220.23 L417.07,220.37 L417.68,219.24 L418.28,217.09 L418.89,214.47 L419.50,212.32 L420.10,210.76 L420.71,209.40 L421.32,208.49 L421.92,207.98 L422.53,207.37 L423.14,207.34 L423.75,209.03 L424.35,210.33 L424.96,211.56 L425.57,213.37 L426.17,216.13 L426.78,218.31 L427.39,220.31 L427.99,222.49 L428.60,225.05 L429.21,227.30 L429.82,228.85 L430.42,229.78 L431.03,230.38 L431.64,230.97 L432.24,231.76 L432.85,232.43 L433.46,232.71 L434.06,232.58 L434.67,232.20 L435.28,231.86 L435.89,231.46 L436.49,230.86 L437.10,230.10 L437.71,229.29 L438.31,228.70 L438.92,228.46 L439.53,228.41 L440.13,228.39 L440.74,228.51 L441.35,228.68 L441.96,228.68 L442.56,228.55 L443.17,228.26 L443.78,227.67 L444.38,226.96 L444.99,226.49 L445.60,226.50 L446.20,226.54 L446.81,225.85 L447.42,224.80 L448.02,224.27 L448.63,224.51 L449.24,225.23 L449.85,225.79 L450.45,225.59 L451.06,224.90 L451.67,224.53 L452.27,224.63 L452.88,224.81 L453.49,224.91 L454.09,224.75 L454.70,223.92 L455.31,222.79 L455.92,222.21 L456.52,222.32 L457.13,222.81 L457.74,223.58 L458.34,224.24 L458.95,224.17 L459.56,223.34 L460.16,222.35 L460.77,221.82 L461.38,222.02 L461.99,222.57 L462.59,222.77 L463.20,222.59 L463.81,222.65 L464.41,222.98 L465.02,222.94 L465.63,222.39 L466.23,222.02 L466.84,222.05 L467.45,222.02 L468.06,221.74 L468.66,221.47 L469.27,221.35 L469.88,221.53 L470.48,222.12 L471.09,222.91 L471.70,223.59 L472.30,223.77 L472.91,223.22 L473.52,222.48 L474.13,222.31 L474.73,222.62 L475.34,223.02 L475.95,223.17 L476.55,222.80 L477.16,222.25 L477.77,221.97 L478.37,221.79 L478.98,221.44 L479.59,221.32 L480.20,221.77 L480.80,222.57 L481.41,223.28 L482.02,223.28 L482.62,222.59 L483.23,221.93 L483.84,221.63 L484.44,221.36 L485.05,220.73 L485.66,219.93 L486.27,219.59 L486.87,219.80 L487.48,219.74 L488.09,219.04 L488.69,218.26 L489.30,217.69 L489.91,217.10 L490.51,216.66 L491.12,216.73 L491.73,217.15 L492.34,217.37 L492.94,216.97 L493.55,216.08 L494.16,215.06 L494.76,214.13 L495.37,213.29 L495.98,212.64 L496.58,212.24 L497.19,211.62 L497.80,210.68 L498.41,209.56 L499.01,208.36 L499.62,207.40 L500.23,206.90 L500.83,207.13 L501.44,208.27 L502.05,209.99 L502.65,211.83 L503.26,213.58 L503.87,215.01 L504.48,216.28 L505.08,217.67 L505.69,219.43 L506.30,221.48 L506.90,223.10 L507.51,223.96 L508.12,224.58 L508.72,225.58 L509.33,226.80 L509.94,227.71 L510.54,228.38 L511.15,229.25 L511.76,230.29 L512.37,231.02 L512.97,231.20 L513.58,231.28 L514.19,231.59 L514.79,232.23 L515.40,232.99 L516.01,233.47 L516.61,233.57 L517.22,233.56 L517.83,233.51 L518.44,233.24 L519.04,232.63 L519.65,231.82 L520.26,231.18 L520.86,230.88 L521.47,230.92 L522.08,231.04 L522.68,230.77 L523.29,230.36 L523.90,230.26 L524.51,229.95 L525.11,229.12 L525.72,228.44 L526.33,228.06 L526.93,227.80 L527.54,227.69 L528.15,227.44 L528.75,226.96 L529.36,226.53 L529.97,226.23 L530.58,225.88 L531.18,225.40 L531.79,224.79 L532.40,224.26 L533.00,224.11 L533.61,224.41 L534.22,224.68 L534.82,224.33 L535.43,223.36 L536.04,222.46 L536.65,222.20 L537.25,222.37 L537.86,222.50 L538.47,222.46 L539.07,222.24 L539.68,221.98 L540.29,221.80 L540.89,221.84 L541.50,222.12 L542.11,222.42 L542.72,222.40 L543.32,221.68 L543.93,220.49 L544.54,219.91 L545.14,220.54 L545.75,221.65 L546.36,222.36 L546.96,222.73 L547.57,223.04 L548.18,223.06 L548.79,222.73 L549.39,222.20 L550.00,221.70 L550.61,221.74 L551.21,222.39 L551.82,223.12 L552.43,223.46 L553.03,223.17 L553.64,222.47 L554.25,221.94 L554.86,221.87 L555.46,222.12 L556.07,222.44 L556.68,222.68 L557.28,222.63 L557.89,222.06 L558.50,221.43 L559.10,221.38 L559.71,221.71 L560.32,221.69 L560.93,221.40 L561.53,221.61 L562.14,222.24 L562.75,222.45 L563.35,222.14 L563.96,221.93 L564.57,221.97 L565.17,221.85 L565.78,221.42 L566.39,221.12 L567.00,221.36 L567.60,221.82 L568.21,221.92 L568.82,221.82 L569.42,222.03 L570.03,222.53 L570.64,223.00 L571.24,223.39 L571.85,223.69 L572.46,223.84 L573.07,223.78 L573.67,223.45 L574.28,222.88 L574.89,222.27 L575.49,221.98 L576.10,222.03" stroke="#3f72b8"/>
<path d="M376.40,223.20 L377.01,223.40 L377.61,223.74 L378.22,223.55 L378.83,222.71 L379.43,222.05 L380.04,222.17 L380.65,222.84 L381.26,223.41 L381.86,223.49 L382.47,223.49 L383.08,223.84 L383.68,224.35 L384.29,224.57 L384.90,224.26 L385.50,223.83 L386.11,223.96 L386.72,224.54 L387.33,224.91 L387.93,224.86 L388.54,224.88 L389.15,225.30 L389.75,225.95 L390.36,226.38 L390.97,226.19 L391.57,225.69 L392.18,225.68 L392.79,226.15 L393.40,226.47 L394.00,226.57 L394.61,226.83 L395.22,227.08 L395.82,227.13 L396.43,227.14 L397.04,227.41 L397.64,228.14 L398.25,229.17 L398.86,230.19 L399.47,231.20 L400.07,232.15 L400.68,232.80 L401.29,233.35 L401.89,234.03 L402.50,234.85 L403.11,235.99 L403.71,237.50 L404.32,239.76 L404.93,243.42 L405.54,247.35 L406.14,250.04 L406.75,249.98 L407.36,247.85 L407.96,244.86 L408.57,242.30 L409.18,240.46 L409.78,238.28 L410.39,235.33 L411.00,231.62 L411.61,227.21 L412.21,221.95 L412.82,217.21 L413.43,213.22 L414.03,209.55 L414.64,206.44 L415.25,203.53 L415.85,200.62 L416.46,198.65 L417.07,197.44 L417.68,196.61 L418.28,196.12 L418.89,195.79 L419.50,195.58 L420.10,195.60 L420.71,195.83 L421.32,196.26 L421.92,196.96 L422.53,197.82 L423.14,198.47 L423.75,199.00 L424.35,199.90 L424.96,201.72 L425.57,204.10 L426.17,206.20 L426.78,208.05 L427.39,209.83 L427.99,211.53 L428.60,213.38 L429.21,215.72 L429.82,218.14 L430.42,220.11 L431.03,221.36 L431.64,222.72 L432.24,224.22 L432.85,225.56 L433.46,226.36 L434.06,226.30 L434.67,225.75 L435.28,225.26 L435.89,225.34 L436.49,226.04 L437.10,226.55 L437.71,226.16 L438.31,225.37 L438.92,224.85 L439.53,224.58 L440.13,224.21 L440.74,223.75 L441.35,223.47 L441.96,223.42 L442.56,223.50 L443.17,223.61 L443.78,223.78 L444.38,224.02 L444.99,223.80 L445.60,223.15 L446.20,222.61 L446.81,222.33 L447.42,222.16 L448.02,221.85 L448.63,221.64 L449.24,221.96 L449.85,222.58 L450.45,222.91 L451.06,222.67 L451.67,222.18 L452.27,221.97 L452.88,222.18 L453.49,222.48 L454.09,222.78 L454.70,223.06 L455.31,223.11 L455.92,222.98 L456.52,222.87 L457.13,222.78 L457.74,222.61 L458.34,222.07 L458.95,221.33 L459.56,220.94 L460.16,221.00 L460.77,221.14 L461.38,221.04 L461.99,220.73 L462.59,220.46 L463.20,220.62 L463.81,221.35 L464.41,222.36 L465.02,223.51 L465.63,224.28 L466.23,223.99 L466.84,223.01 L467.45,222.22 L468.06,221.75 L468.66,221.37 L469.27,221.17 L469.88,221.07 L470.48,220.83 L471.09,220.85 L471.70,221.33 L472.30,221.74 L472.91,221.85 L473.52,222.02 L474.13,222.26 L474.73,222.26 L475.34,221.95 L475.95,221.43 L476.55,221.07 L477.16,221.11 L477.77,221.52 L478.37,221.88 L478.98,221.74 L479.59,221.18 L480.20,220.52 L480.80,220.16 L481.41,220.32 L482.02,220.33 L482.62,219.85 L483.23,219.38 L483.84,219.10 L484.44,218.63 L485.05,217.87 L485.66,217.14 L486.27,216.71 L486.87,216.38 L487.48,215.91 L488.09,215.63 L488.69,215.94 L489.30,216.33 L489.91,215.89 L490.51,214.66 L491.12,212.94 L491.73,211.12 L492.34,209.58 L492.94,208.61 L493.55,208.13 L494.16,207.98 L494.76,208.14 L495.37,208.66 L495.98,209.24 L496.58,210.03 L497.19,211.38 L497.80,213.01 L498.41,214.48 L499.01,215.75 L499.62,216.88 L500.23,218.03 L500.83,219.56 L501.44,221.18 L502.05,222.54 L502.65,223.67 L503.26,224.50 L503.87,225.18 L504.48,225.84 L505.08,226.49 L505.69,227.07 L506.30,227.62 L506.90,228.11 L507.51,228.31 L508.12,228.40 L508.72,228.86 L509.33,229.58 L509.94,230.25 L510.54,230.77 L511.15,231.21 L511.76,231.52 L512.37,231.55 L512.97,231.36 L513.58,231.25 L514.19,231.37 L514.79,231.47 L515.40,231.02 L516.01,230.22 L516.61,229.73 L517.22,229.54 L517.83,229.43 L518.44,229.42 L519.04,229.50 L519.65,229.42 L520.26,228.86 L520.86,227.92 L521.47,227.02 L522.08,226.46 L522.68,226.19 L523.29,226.24 L523.90,226.81 L524.51,227.30 L525.11,226.83 L525.72,225.79 L526.33,225.26 L526.93,225.32 L527.54,225.25 L528.15,224.66 L528.75,223.79 L529.36,223.16 L529.97,223.14 L530.58,223.65 L531.18,223.95 L531.79,223.58 L532.40,222.96 L533.00,222.36 L533.61,221.86 L534.22,221.66 L534.82,221.74 L535.43,222.02 L536.04,222.25 L536.65,222.19 L537.25,221.84 L537.86,221.43 L538.47,221.28 L539.07,221.40 L539.68,221.54 L540.29,221.66 L540.89,221.75 L541.50,221.80 L542.11,221.93 L542.72,222.18 L543.32,222.36 L543.93,222.38 L544.54,222.43 L545.14,222.63 L545.75,222.70 L546.36,222.52 L546.96,222.26 L547.57,222.00 L548.18,221.63 L548.79,221.52 L549.39,221.97 L550.00,222.40 L550.61,222.23 L551.21,221.80 L551.82,221.52 L552.43,221.37 L553.03,221.44 L553.64,221.80 L554.25,222.25 L554.86,222.49 L555.46,222.39 L556.07,222.10 L556.68,221.87 L557.28,221.90 L557.89,222.08 L558.50,222.31 L559.10,222.70 L559.71,223.19 L560.32,223.36 L560.93,223.15 L561.53,222.87 L562.14,222.71 L562.75,222.66 L563.35,222.50 L563.96,222.36 L564.57,222.55 L565.17,222.88 L565.78,222.84 L566.39,222.41 L567.00,222.04 L567.60,222.10 L568.21,222.31 L568.82,222.31 L569.42,222.09 L570.03,221.68 L570.64,221.28 L571.24,221.13 L571.85,221.19 L572.46,221.36 L573.07,221.40 L573.67,221.19 L574.28,221.14 L574.89,221.44 L575.49,221.72 L576.10,221.74" stroke="#4f9c44"/>
<path d="M376.40,221.73 L377.01,221.44 L377.61,221.17 L378.22,221.33 L378.83,221.67 L379.43,221.69 L380.04,221.42 L380.65,221.22 L381.26,221.19 L381.86,221.36 L382.47,221.95 L383.08,222.81 L383.68,223.35 L384.29,223.26 L384.90,222.76 L385.50,222.44 L386.11,222.73 L386.72,223.23 L387.33,223.38 L387.93,223.38 L388.54,223.58 L389.15,223.92 L389.75,224.29 L390.36,224.47 L390.97,224.34 L391.57,224.31 L392.18,224.77 L392.79,225.49 L393.40,225.99 L394.00,226.11 L394.61,226.05 L395.22,225.98 L395.82,225.87 L396.43,225.96 L397.04,226.77 L397.64,228.06 L398.25,229.10 L398.86,229.88 L399.47,230.77 L400.07,231.90 L400.68,233.75 L401.29,236.34 L401.89,239.07 L402.50,241.69 L403.11,244.44 L403.71,247.12 L404.32,249.50 L404.93,251.79 L405.54,254.72 L406.14,258.09 L406.75,261.14 L407.36,263.28 L407.96,264.25 L408.57,262.57 L409.18,257.84 L409.78,252.43 L410.39,247.83 L411.00,243.13 L411.61,238.31 L412.21,233.21 L412.82,226.64 L413.43,218.26 L414.03,210.05 L414.64,201.91 L415.25,195.99 L415.85,191.47 L416.46,188.98 L417.07,189.14 L417.68,189.89 L418.28,190.77 L418.89,191.43 L419.50,192.03 L420.10,192.57 L420.71,192.99 L421.32,193.77 L421.92,195.04 L422.53,196.42 L423.14,197.65 L423.75,198.88 L424.35,200.30 L424.96,201.76 L425.57,203.03 L426.17,204.28 L426.78,205.87 L427.39,207.46 L427.99,208.46 L428.60,209.03 L429.21,209.61 L429.82,210.35 L430.42,211.04 L431.03,211.40 L431.64,211.58 L432.24,212.07 L432.85,213.05 L433.46,214.18 L434.06,215.01 L434.67,215.46 L435.28,215.78 L435.89,216.41 L436.49,217.34 L437.10,218.10 L437.71,218.50 L438.31,218.65 L438.92,218.68 L439.53,218.66 L440.13,218.47 L440.74,218.16 L441.35,218.11 L441.96,218.35 L442.56,218.45 L443.17,218.35 L443.78,218.25 L444.38,218.03 L444.99,217.65 L445.60,217.41 L446.20,217.39 L446.81,217.27 L447.42,217.09 L448.02,217.34 L448.63,217.98 L449.24,218.44 L449.85,218.68 L450.45,218.95 L451.06,219.23 L451.67,219.56 L452.27,220.01 L452.88,220.51 L453.49,220.90 L454.09,220.90 L454.70,220.23 L455.31,219.20 L455.92,218.64 L456.52,218.78 L457.13,219.10 L457.74,219.20 L458.34,219.24 L458.95,219.54 L459.56,220.15 L460.16,220.80 L460.77,221.31 L461.38,221.79 L461.99,222.12 L462.59,221.97 L463.20,221.51 L463.81,221.22 L464.41,221.03 L465.02,220.74 L465.63,220.80 L466.23,221.34 L466.84,221.74 L467.45,221.74 L468.06,221.77 L468.66,222.12 L469.27,222.54 L469.88,222.78 L470.48,222.71 L471.09,222.19 L471.70,221.58 L472.30,221.31 L472.91,221.30 L473.52,221.40 L474.13,221.66 L474.73,222.09 L475.34,222.42 L475.95,222.32 L476.55,221.78 L477.16,221.19 L477.77,221.09 L478.37,221.63 L478.98,222.27 L479.59,222.39 L480.20,221.94 L480.80,221.49 L481.41,221.49 L482.02,221.74 L482.62,221.76 L483.23,221.53 L483.84,221.35 L484.44,221.23 L485.05,220.93 L485.66,220.57 L486.27,220.30 L486.87,220.11 L487.48,220.16 L488.09,220.46 L488.69,220.86 L489.30,221.32 L489.91,221.70 L490.51,221.81 L491.12,221.62 L491.73,221.27 L492.34,221.02 L492.94,221.15 L493.55,221.80 L494.16,222.53 L494.76,222.79 L495.37,222.68 L495.98,222.45 L496.58,222.18 L497.19,221.95 L497.80,222.04 L498.41,222.45 L499.01,222.80 L499.62,223.11 L500.23,223.31 L500.83,223.30 L501.44,223.37 L502.05,223.49 L502.65,223.34 L503.26,223.44 L503.87,224.41 L504.48,225.63 L505.08,226.26 L505.69,226.43 L506.30,226.61 L506.90,226.92 L507.51,227.23 L508.12,227.63 L508.72,228.26 L509.33,228.89 L509.94,229.05 L510.54,228.73 L511.15,228.33 L511.76,228.07 L512.37,227.71 L512.97,226.89 L513.58,225.65 L514.19,224.50 L514.79,223.67 L515.40,222.92 L516.01,222.27 L516.61,221.69 L517.22,220.83 L517.83,219.80 L518.44,218.73 L519.04,217.66 L519.65,216.96 L520.26,216.96 L520.86,217.35 L521.47,217.69 L522.08,218.15 L522.68,218.79 L523.29,219.20 L523.90,219.37 L524.51,219.57 L525.11,219.80 L525.72,219.91 L526.33,219.92 L526.93,220.09 L527.54,220.50 L528.15,220.92 L528.75,221.25 L529.36,221.50 L529.97,221.63 L530.58,221.38 L531.18,220.68 L531.79,219.98 L532.40,219.88 L533.00,220.37 L533.61,220.94 L534.22,221.26 L534.82,221.38 L535.43,221.30 L536.04,221.22 L536.65,221.33 L537.25,221.44 L537.86,221.61 L538.47,221.89 L539.07,222.04 L539.68,221.88 L540.29,221.55 L540.89,221.31 L541.50,221.56 L542.11,222.17 L542.72,222.61 L543.32,222.83 L543.93,222.95 L544.54,222.86 L545.14,222.69 L545.75,222.75 L546.36,222.87 L546.96,222.74 L547.57,222.58 L548.18,222.49 L548.79,222.09 L549.39,221.59 L550.00,221.77 L550.61,222.52 L551.21,222.93 L551.82,222.88 L552.43,222.77 L553.03,222.68 L553.64,222.70 L554.25,223.15 L554.86,223.86 L555.46,224.02 L556.07,223.36 L556.68,222.66 L557.28,222.53 L557.89,222.55 L558.50,222.25 L559.10,221.99 L559.71,222.00 L560.32,221.94 L560.93,221.65 L561.53,221.42 L562.14,221.50 L562.75,221.80 L563.35,222.18 L563.96,222.52 L564.57,222.62 L565.17,222.49 L565.78,222.29 L566.39,221.99 L567.00,221.67 L567.60,221.63 L568.21,221.99 L568.82,222.42 L569.42,222.63 L570.03,222.77 L570.64,222.78 L571.24,222.41 L571.85,221.94 L572.46,221.97 L573.07,222.48 L573.67,222.78 L574.28,222.59 L574.89,222.26 L575.49,222.28 L576.10,222.62" stroke="#e17c28"/>
<path d="M376.40,223.75 L377.01,223.15 L377.61,222.41 L378.22,221.76 L378.83,221.27 L379.43,221.33 L380.04,222.08 L380.65,222.92 L381.26,223.13 L381.86,222.68 L382.47,222.15 L383.08,221.88 L383.68,221.72 L384.29,221.63 L384.90,221.80 L385.50,222.43 L386.11,223.30 L386.72,224.00 L387.33,224.30 L387.93,223.94 L388.54,222.98 L389.15,222.06 L389.75,221.88 L390.36,222.45 L390.97,223.11 L391.57,223.27 L392.18,223.07 L392.79,223.01 L393.40,223.13 L394.00,223.29 L394.61,223.63 L395.22,223.96 L395.82,223.96 L396.43,223.96 L397.04,224.02 L397.64,223.75 L398.25,223.24 L398.86,223.21 L399.47,224.07 L400.07,225.40 L400.68,226.47 L401.29,227.32 L401.89,228.33 L402.50,229.13 L403.11,229.20 L403.71,228.86 L404.32,229.01 L404.93,229.93 L405.54,231.20 L406.14,232.47 L406.75,233.58 L407.36,234.67 L407.96,235.96 L408.57,237.60 L409.18,239.64 L409.78,242.03 L410.39,245.16 L411.00,248.95 L411.61,253.29 L412.21,259.07 L412.82,263.99 L413.43,265.41 L414.03,261.39 L414.64,254.52 L415.25,246.79 L415.85,236.08 L416.46,225.92 L417.07,217.25 L417.68,209.78 L418.28,203.60 L418.89,198.23 L419.50,193.44 L420.10,189.88 L420.71,187.73 L421.32,185.75 L421.92,184.13 L422.53,183.08 L423.14,182.68 L423.75,183.43 L424.35,185.67 L424.96,188.39 L425.57,191.05 L426.17,193.58 L426.78,196.20 L427.39,199.26 L427.99,202.13 L428.60,204.82 L429.21,207.14 L429.82,208.56 L430.42,209.38 L431.03,209.78 L431.64,210.08 L432.24,210.42 L432.85,210.87 L433.46,211.50 L434.06,212.48 L434.67,213.62 L435.28,214.31 L435.89,214.59 L436.49,214.85 L437.10,215.14 L437.71,215.42 L438.31,215.57 L438.92,215.48 L439.53,215.11 L440.13,214.59 L440.74,214.05 L441.35,213.47 L441.96,213.20 L442.56,213.64 L443.17,214.26 L443.78,214.51 L444.38,214.62 L444.99,215.00 L445.60,215.73 L446.20,216.41 L446.81,216.65 L447.42,216.89 L448.02,217.59 L448.63,218.60 L449.24,219.20 L449.85,218.95 L450.45,218.61 L451.06,218.76 L451.67,218.78 L452.27,218.38 L452.88,218.09 L453.49,218.38 L454.09,218.96 L454.70,219.23 L455.31,219.32 L455.92,219.34 L456.52,218.93 L457.13,218.42 L457.74,218.65 L458.34,219.72 L458.95,220.64 L459.56,220.71 L460.16,220.31 L460.77,219.90 L461.38,219.39 L461.99,219.21 L462.59,219.81 L463.20,220.56 L463.81,220.87 L464.41,220.93 L465.02,220.88 L465.63,220.71 L466.23,220.67 L466.84,220.98 L467.45,221.33 L468.06,221.32 L468.66,221.07 L469.27,220.80 L469.88,220.66 L470.48,220.81 L471.09,220.94 L471.70,220.54 L472.30,219.99 L472.91,220.01 L473.52,220.58 L474.13,221.31 L474.73,221.96 L475.34,222.17 L475.95,221.84 L476.55,221.47 L477.16,221.40 L477.77,221.53 L478.37,221.68 L478.98,221.67 L479.59,221.48 L480.20,221.37 L480.80,221.58 L481.41,222.09 L482.02,222.45 L482.62,222.05 L483.23,221.20 L483.84,220.86 L484.44,221.37 L485.05,222.13 L485.66,222.47 L486.27,222.39 L486.87,222.47 L487.48,222.78 L488.09,222.95 L488.69,223.14 L489.30,223.64 L489.91,224.21 L490.51,224.55 L491.12,224.58 L491.73,224.53 L492.34,224.72 L492.94,224.92 L493.55,224.87 L494.16,225.00 L494.76,225.44 L495.37,226.08 L495.98,226.88 L496.58,227.68 L497.19,228.56 L497.80,229.54 L498.41,230.42 L499.01,231.45 L499.62,232.82 L500.23,234.22 L500.83,235.49 L501.44,236.64 L502.05,237.45 L502.65,237.67 L503.26,237.33 L503.87,236.85 L504.48,236.55 L505.08,236.02 L505.69,234.97 L506.30,233.64 L506.90,232.09 L507.51,230.56 L508.12,229.08 L508.72,227.35 L509.33,225.37 L509.94,223.61 L510.54,222.24 L511.15,221.05 L511.76,219.39 L512.37,217.38 L512.97,216.09 L513.58,215.88 L514.19,216.11 L514.79,216.39 L515.40,216.47 L516.01,216.26 L516.61,216.02 L517.22,215.82 L517.83,215.29 L518.44,214.25 L519.04,213.20 L519.65,212.64 L520.26,212.52 L520.86,212.24 L521.47,211.63 L522.08,211.10 L522.68,210.83 L523.29,210.44 L523.90,209.86 L524.51,209.49 L525.11,209.62 L525.72,210.17 L526.33,211.16 L526.93,212.49 L527.54,213.74 L528.15,214.49 L528.75,215.14 L529.36,216.16 L529.97,217.32 L530.58,218.05 L531.18,218.05 L531.79,217.85 L532.40,217.92 L533.00,218.16 L533.61,218.40 L534.22,218.57 L534.82,218.78 L535.43,219.06 L536.04,219.17 L536.65,218.97 L537.25,218.90 L537.86,219.41 L538.47,220.11 L539.07,220.52 L539.68,220.77 L540.29,221.22 L540.89,221.88 L541.50,222.27 L542.11,222.24 L542.72,221.99 L543.32,221.52 L543.93,220.90 L544.54,220.42 L545.14,220.47 L545.75,221.18 L546.36,222.09 L546.96,222.67 L547.57,222.84 L548.18,222.89 L548.79,222.83 L549.39,222.43 L550.00,221.94 L550.61,221.75 L551.21,221.91 L551.82,222.24 L552.43,222.62 L553.03,222.90 L553.64,222.73 L554.25,222.03 L554.86,221.41 L555.46,221.40 L556.07,221.72 L556.68,221.86 L557.28,221.79 L557.89,221.77 L558.50,221.84 L559.10,221.98 L559.71,222.02 L560.32,221.86 L560.93,221.74 L561.53,221.76 L562.14,221.86 L562.75,222.02 L563.35,222.13 L563.96,222.19 L564.57,222.33 L565.17,222.65 L565.78,223.08 L566.39,223.34 L567.00,223.19 L567.60,222.73 L568.21,222.31 L568.82,222.36 L569.42,222.86 L570.03,223.44 L570.64,223.84 L571.24,223.97 L571.85,224.09 L572.46,224.19 L573.07,223.84 L573.67,223.09 L574.28,222.51 L574.89,222.18 L575.49,221.60 L576.10,220.90" stroke="#bd2b2b"/>
</g>
<g fill="none" stroke-width="1.7" stroke-linejoin="round" stroke-linecap="round">
<path d="M43.80,361.92 L44.41,361.61 L45.01,361.22 L45.62,361.13 L46.23,361.23 L46.83,361.25 L47.44,361.30 L48.05,361.51 L48.66,361.80 L49.26,361.95 L49.87,361.96 L50.48,362.15 L51.08,362.43 L51.69,362.38 L52.30,362.12 L52.90,361.97 L53.51,361.92 L54.12,361.98 L54.73,362.23 L55.33,362.29 L55.94,361.87 L56.55,361.28 L57.15,360.92 L57.76,360.87 L58.37,360.97 L58.97,361.02 L59.58,361.03 L60.19,360.94 L60.80,360.67 L61.40,360.46 L62.01,360.50 L62.62,360.77 L63.22,361.26 L63.83,361.64 L64.44,361.68 L65.04,361.62 L65.65,361.58 L66.26,361.48 L66.87,361.44 L67.47,361.66 L68.08,361.81 L68.69,361.15 L69.29,360.20 L69.90,359.47 L70.51,359.02 L71.11,358.46 L71.72,357.65 L72.33,356.57 L72.94,355.43 L73.54,354.58 L74.15,354.12 L74.76,353.84 L75.36,353.63 L75.97,353.60 L76.58,353.64 L77.18,353.54 L77.79,353.38 L78.40,353.27 L79.01,353.07 L79.61,352.62 L80.22,351.79 L80.83,350.58 L81.43,349.05 L82.04,347.51 L82.65,346.08 L83.25,344.79 L83.86,343.73 L84.47,342.89 L85.08,342.09 L85.68,341.09 L86.29,339.24 L86.90,336.13 L87.50,332.03 L88.11,326.74 L88.72,321.66 L89.32,317.09 L89.93,315.55 L90.54,317.15 L91.15,319.99 L91.75,323.80 L92.36,329.42 L92.97,336.42 L93.57,344.48 L94.18,354.29 L94.79,363.62 L95.39,371.86 L96.00,379.10 L96.61,385.26 L97.22,391.30 L97.82,397.74 L98.43,402.95 L99.04,405.68 L99.64,405.48 L100.25,403.77 L100.86,401.39 L101.46,398.77 L102.07,395.20 L102.68,390.99 L103.29,387.05 L103.89,384.14 L104.50,382.02 L105.11,380.44 L105.71,379.17 L106.32,377.90 L106.93,376.54 L107.53,374.98 L108.14,372.91 L108.75,370.86 L109.36,369.55 L109.96,369.19 L110.57,369.53 L111.18,369.77 L111.78,369.46 L112.39,368.67 L113.00,367.89 L113.60,367.73 L114.21,368.16 L114.82,368.56 L115.42,368.67 L116.03,368.66 L116.64,368.43 L117.25,367.90 L117.85,367.42 L118.46,367.30 L119.07,367.41 L119.67,367.38 L120.28,367.09 L120.89,366.71 L121.49,366.50 L122.10,366.43 L122.71,366.41 L123.32,366.48 L123.92,366.41 L124.53,365.87 L125.14,365.01 L125.74,364.37 L126.35,364.00 L126.96,363.83 L127.56,363.94 L128.17,364.05 L128.78,363.92 L129.39,363.73 L129.99,363.72 L130.60,363.86 L131.21,363.92 L131.81,363.90 L132.42,364.11 L133.03,364.46 L133.63,364.55 L134.24,364.47 L134.85,364.48 L135.46,364.39 L136.06,364.11 L136.67,363.94 L137.28,363.99 L137.88,364.20 L138.49,364.42 L139.10,364.52 L139.70,364.45 L140.31,364.10 L140.92,363.56 L141.53,363.06 L142.13,362.63 L142.74,362.15 L143.35,361.92 L143.95,362.32 L144.56,362.99 L145.17,363.31 L145.77,363.24 L146.38,363.07 L146.99,362.83 L147.60,362.38 L148.20,361.93 L148.81,361.87 L149.42,362.02 L150.02,361.90 L150.63,361.40 L151.24,360.86 L151.84,360.77 L152.45,361.21 L153.06,361.44 L153.67,360.77 L154.27,359.73 L154.88,359.32 L155.49,359.67 L156.09,360.03 L156.70,360.02 L157.31,359.97 L157.91,359.74 L158.52,358.95 L159.13,357.91 L159.74,357.30 L160.34,357.18 L160.95,357.09 L161.56,356.96 L162.16,357.06 L162.77,357.05 L163.38,356.36 L163.98,355.13 L164.59,353.95 L165.20,353.10 L165.81,352.47 L166.41,351.93 L167.02,351.41 L167.63,350.58 L168.23,349.35 L168.84,348.25 L169.45,347.53 L170.05,346.78 L170.66,345.90 L171.27,345.16 L171.88,345.04 L172.48,345.89 L173.09,347.90 L173.70,349.94 L174.30,351.09 L174.91,351.71 L175.52,352.29 L176.12,352.89 L176.73,353.60 L177.34,354.51 L177.94,355.56 L178.55,356.70 L179.16,357.95 L179.77,359.29 L180.37,360.74 L180.98,362.19 L181.59,363.69 L182.19,365.38 L182.80,366.98 L183.41,368.40 L184.01,370.13 L184.62,371.97 L185.23,373.29 L185.84,373.75 L186.44,374.06 L187.05,374.32 L187.66,374.27 L188.26,373.73 L188.87,373.05 L189.48,372.47 L190.08,371.68 L190.69,370.35 L191.30,368.79 L191.91,367.38 L192.51,366.41 L193.12,365.67 L193.73,365.08 L194.33,364.84 L194.94,364.98 L195.55,365.12 L196.15,365.03 L196.76,364.73 L197.37,364.63 L197.98,364.82 L198.58,364.82 L199.19,364.44 L199.80,364.22 L200.40,364.45 L201.01,364.77 L201.62,365.04 L202.22,365.38 L202.83,365.46 L203.44,365.05 L204.05,364.53 L204.65,364.13 L205.26,363.81 L205.87,363.61 L206.47,363.57 L207.08,363.53 L207.69,363.21 L208.29,362.67 L208.90,362.31 L209.51,362.56 L210.12,363.45 L210.72,364.31 L211.33,364.35 L211.94,363.84 L212.54,363.43 L213.15,363.09 L213.76,362.72 L214.36,362.63 L214.97,362.82 L215.58,362.99 L216.19,363.07 L216.79,363.06 L217.40,363.07 L218.01,363.30 L218.61,363.53 L219.22,363.47 L219.83,363.20 L220.43,362.85 L221.04,362.47 L221.65,362.10 L222.26,361.82 L222.86,361.91 L223.47,362.19 L224.08,362.20 L224.68,362.17 L225.29,362.41 L225.90,362.53 L226.50,362.23 L227.11,362.03 L227.72,362.18 L228.33,362.31 L228.93,362.34 L229.54,362.41 L230.15,362.40 L230.75,362.14 L231.36,361.87 L231.97,361.86 L232.57,361.99 L233.18,362.07 L233.79,362.09 L234.40,361.92 L235.00,361.58 L235.61,361.33 L236.22,361.26 L236.82,361.32 L237.43,361.36 L238.04,361.24 L238.64,361.07 L239.25,361.07 L239.86,361.26 L240.47,361.41 L241.07,361.60 L241.68,361.92 L242.29,362.28 L242.89,362.67 L243.50,363.04" stroke="#151515"/>
<path d="M43.80,362.57 L44.41,362.22 L45.01,361.78 L45.62,361.38 L46.23,361.21 L46.83,361.20 L47.44,361.21 L48.05,361.29 L48.66,361.44 L49.26,361.40 L49.87,360.98 L50.48,360.36 L51.08,359.98 L51.69,360.12 L52.30,360.74 L52.90,361.44 L53.51,361.64 L54.12,361.24 L54.73,360.82 L55.33,360.59 L55.94,360.34 L56.55,360.16 L57.15,360.24 L57.76,360.59 L58.37,361.26 L58.97,361.88 L59.58,361.96 L60.19,361.67 L60.80,361.53 L61.40,361.70 L62.01,361.88 L62.62,361.78 L63.22,361.36 L63.83,360.80 L64.44,360.39 L65.04,360.32 L65.65,360.53 L66.26,360.71 L66.87,360.76 L67.47,360.81 L68.08,361.20 L68.69,361.68 L69.29,361.59 L69.90,361.11 L70.51,360.96 L71.11,361.11 L71.72,361.19 L72.33,361.43 L72.94,362.10 L73.54,362.73 L74.15,362.86 L74.76,362.69 L75.36,362.45 L75.97,362.28 L76.58,362.36 L77.18,362.96 L77.79,363.78 L78.40,364.22 L79.01,363.92 L79.61,362.79 L80.22,361.56 L80.83,360.77 L81.43,360.42 L82.04,360.26 L82.65,359.83 L83.25,359.52 L83.86,359.52 L84.47,359.61 L85.08,360.07 L85.68,360.89 L86.29,361.22 L86.90,360.74 L87.50,360.09 L88.11,359.74 L88.72,359.51 L89.32,359.26 L89.93,359.12 L90.54,359.07 L91.15,358.95 L91.75,358.78 L92.36,358.71 L92.97,359.52 L93.57,360.79 L94.18,361.54 L94.79,362.07 L95.39,362.73 L96.00,363.38 L96.61,363.60 L97.22,363.48 L97.82,363.05 L98.43,362.53 L99.04,362.11 L99.64,361.65 L100.25,361.05 L100.86,360.72 L101.46,361.07 L102.07,361.67 L102.68,361.87 L103.29,361.52 L103.89,360.93 L104.50,360.42 L105.11,360.19 L105.71,360.27 L106.32,360.48 L106.93,360.66 L107.53,360.73 L108.14,360.66 L108.75,360.69 L109.36,361.18 L109.96,362.08 L110.57,362.79 L111.18,363.02 L111.78,363.15 L112.39,363.27 L113.00,363.03 L113.60,362.68 L114.21,362.49 L114.82,362.09 L115.42,361.44 L116.03,361.14 L116.64,361.22 L117.25,361.32 L117.85,361.48 L118.46,361.68 L119.07,361.93 L119.67,362.53 L120.28,363.20 L120.89,363.54 L121.49,363.60 L122.10,363.42 L122.71,362.96 L123.32,362.53 L123.92,362.43 L124.53,362.46 L125.14,362.51 L125.74,362.66 L126.35,362.78 L126.96,362.88 L127.56,362.95 L128.17,363.01 L128.78,363.15 L129.39,363.40 L129.99,363.59 L130.60,363.52 L131.21,363.41 L131.81,363.60 L132.42,363.93 L133.03,364.02 L133.63,363.76 L134.24,363.38 L134.85,363.15 L135.46,363.21 L136.06,363.51 L136.67,364.04 L137.28,364.69 L137.88,365.00 L138.49,364.82 L139.10,364.56 L139.70,364.29 L140.31,363.87 L140.92,363.48 L141.53,363.30 L142.13,363.33 L142.74,363.57 L143.35,363.80 L143.95,363.54 L144.56,362.75 L145.17,361.89 L145.77,361.28 L146.38,361.10 L146.99,361.38 L147.60,361.81 L148.20,362.11 L148.81,362.27 L149.42,362.21 L150.02,361.86 L150.63,361.50 L151.24,361.29 L151.84,360.90 L152.45,360.40 L153.06,360.21 L153.67,360.21 L154.27,360.12 L154.88,359.91 L155.49,359.61 L156.09,359.18 L156.70,358.71 L157.31,358.27 L157.91,357.90 L158.52,357.63 L159.13,357.33 L159.74,356.97 L160.34,356.61 L160.95,356.42 L161.56,356.51 L162.16,356.72 L162.77,356.65 L163.38,356.10 L163.98,355.19 L164.59,354.37 L165.20,354.00 L165.81,354.05 L166.41,354.30 L167.02,354.51 L167.63,354.30 L168.23,353.64 L168.84,353.05 L169.45,352.56 L170.05,351.83 L170.66,350.96 L171.27,350.22 L171.88,349.34 L172.48,348.41 L173.09,348.06 L173.70,348.24 L174.30,348.55 L174.91,348.97 L175.52,349.72 L176.12,350.80 L176.73,351.70 L177.34,352.23 L177.94,352.74 L178.55,353.70 L179.16,355.18 L179.77,356.64 L180.37,357.77 L180.98,358.85 L181.59,360.15 L182.19,361.76 L182.80,363.70 L183.41,365.84 L184.01,367.79 L184.62,369.64 L185.23,371.56 L185.84,373.38 L186.44,374.91 L187.05,376.19 L187.66,377.34 L188.26,378.01 L188.87,377.90 L189.48,377.09 L190.08,375.64 L190.69,373.85 L191.30,372.49 L191.91,371.45 L192.51,370.39 L193.12,369.06 L193.73,367.92 L194.33,367.17 L194.94,366.71 L195.55,366.31 L196.15,365.96 L196.76,365.85 L197.37,365.94 L197.98,365.89 L198.58,365.49 L199.19,364.97 L199.80,364.62 L200.40,364.29 L201.01,363.91 L201.62,363.76 L202.22,364.01 L202.83,364.27 L203.44,364.19 L204.05,364.20 L204.65,364.45 L205.26,364.40 L205.87,364.11 L206.47,363.95 L207.08,363.75 L207.69,363.44 L208.29,363.28 L208.90,363.29 L209.51,363.21 L210.12,362.93 L210.72,362.83 L211.33,363.23 L211.94,363.60 L212.54,363.48 L213.15,363.22 L213.76,363.08 L214.36,362.96 L214.97,362.79 L215.58,362.49 L216.19,362.26 L216.79,362.34 L217.40,362.78 L218.01,363.12 L218.61,362.93 L219.22,362.46 L219.83,362.16 L220.43,362.22 L221.04,362.40 L221.65,362.41 L222.26,362.49 L222.86,362.88 L223.47,363.21 L224.08,363.02 L224.68,362.57 L225.29,362.54 L225.90,362.90 L226.50,363.07 L227.11,363.01 L227.72,363.10 L228.33,363.31 L228.93,363.52 L229.54,363.46 L230.15,362.87 L230.75,361.93 L231.36,361.08 L231.97,360.80 L232.57,361.04 L233.18,361.35 L233.79,361.74 L234.40,362.17 L235.00,362.25 L235.61,362.07 L236.22,362.14 L236.82,362.39 L237.43,362.56 L238.04,362.54 L238.64,362.25 L239.25,361.86 L239.86,361.88 L240.47,362.46 L241.07,363.05 L241.68,363.28 L242.29,363.15 L242.89,362.55 L243.50,361.87" stroke="#3f72b8"/>
<path d="M43.80,359.82 L44.41,360.78 L45.01,361.83 L45.62,362.53 L46.23,362.76 L46.83,362.28 L47.44,361.64 L48.05,361.81 L48.66,362.53 L49.26,362.71 L49.87,362.32 L50.48,362.06 L51.08,362.13 L51.69,362.37 L52.30,362.74 L52.90,362.88 L53.51,362.76 L54.12,362.86 L54.73,363.14 L55.33,363.12 L55.94,362.78 L56.55,362.39 L57.15,362.05 L57.76,361.85 L58.37,361.97 L58.97,362.57 L59.58,363.36 L60.19,363.66 L60.80,362.97 L61.40,361.80 L62.01,361.45 L62.62,362.15 L63.22,362.75 L63.83,362.70 L64.44,362.64 L65.04,362.93 L65.65,363.32 L66.26,363.41 L66.87,362.88 L67.47,362.10 L68.08,361.87 L68.69,362.29 L69.29,362.66 L69.90,362.69 L70.51,362.78 L71.11,363.26 L71.72,363.77 L72.33,364.01 L72.94,364.35 L73.54,364.94 L74.15,365.17 L74.76,364.75 L75.36,364.21 L75.97,364.07 L76.58,364.39 L77.18,364.87 L77.79,365.23 L78.40,365.42 L79.01,365.45 L79.61,365.63 L80.22,366.10 L80.83,367.06 L81.43,368.38 L82.04,369.46 L82.65,370.25 L83.25,371.15 L83.86,372.57 L84.47,374.29 L85.08,376.05 L85.68,377.95 L86.29,379.93 L86.90,381.86 L87.50,383.97 L88.11,386.55 L88.72,389.93 L89.32,393.62 L89.93,396.89 L90.54,399.78 L91.15,401.08 L91.75,400.31 L92.36,398.59 L92.97,396.51 L93.57,392.49 L94.18,385.72 L94.79,378.32 L95.39,371.01 L96.00,363.94 L96.61,357.50 L97.22,351.42 L97.82,345.94 L98.43,340.79 L99.04,335.67 L99.64,330.61 L100.25,326.40 L100.86,323.25 L101.46,320.50 L102.07,317.33 L102.68,315.51 L103.29,318.18 L103.89,322.69 L104.50,327.52 L105.11,332.21 L105.71,335.28 L106.32,337.10 L106.93,338.86 L107.53,340.25 L108.14,341.19 L108.75,342.01 L109.36,342.83 L109.96,343.71 L110.57,344.80 L111.18,345.95 L111.78,346.66 L112.39,346.85 L113.00,347.04 L113.60,347.58 L114.21,348.15 L114.82,348.44 L115.42,348.63 L116.03,348.85 L116.64,348.88 L117.25,348.86 L117.85,349.24 L118.46,349.98 L119.07,350.63 L119.67,351.07 L120.28,351.36 L120.89,351.75 L121.49,352.59 L122.10,353.72 L122.71,354.59 L123.32,355.16 L123.92,355.49 L124.53,355.61 L125.14,355.74 L125.74,355.89 L126.35,355.94 L126.96,356.19 L127.56,356.77 L128.17,357.32 L128.78,357.83 L129.39,358.63 L129.99,359.41 L130.60,359.57 L131.21,359.23 L131.81,359.04 L132.42,359.25 L133.03,359.73 L133.63,360.33 L134.24,360.78 L134.85,360.78 L135.46,360.41 L136.06,360.09 L136.67,360.26 L137.28,360.91 L137.88,361.45 L138.49,361.48 L139.10,361.28 L139.70,361.09 L140.31,360.78 L140.92,360.66 L141.53,361.10 L142.13,361.96 L142.74,362.79 L143.35,363.15 L143.95,362.97 L144.56,362.54 L145.17,362.20 L145.77,361.94 L146.38,361.75 L146.99,361.91 L147.60,362.44 L148.20,362.91 L148.81,362.83 L149.42,362.17 L150.02,361.65 L150.63,361.75 L151.24,362.02 L151.84,362.03 L152.45,361.93 L153.06,362.17 L153.67,362.77 L154.27,363.10 L154.88,362.69 L155.49,362.05 L156.09,361.83 L156.70,362.09 L157.31,362.55 L157.91,362.66 L158.52,362.26 L159.13,361.90 L159.74,361.80 L160.34,361.66 L160.95,361.40 L161.56,361.17 L162.16,361.13 L162.77,361.37 L163.38,361.49 L163.98,361.12 L164.59,360.52 L165.20,359.90 L165.81,359.24 L166.41,358.52 L167.02,357.80 L167.63,357.42 L168.23,357.57 L168.84,357.67 L169.45,357.11 L170.05,356.24 L170.66,355.58 L171.27,354.93 L171.88,353.93 L172.48,352.78 L173.09,351.87 L173.70,351.37 L174.30,351.07 L174.91,350.58 L175.52,349.96 L176.12,349.51 L176.73,349.05 L177.34,348.15 L177.94,346.72 L178.55,345.09 L179.16,343.99 L179.77,343.94 L180.37,345.21 L180.98,347.14 L181.59,349.14 L182.19,351.14 L182.80,353.05 L183.41,354.84 L184.01,356.21 L184.62,357.19 L185.23,358.31 L185.84,359.80 L186.44,361.95 L187.05,365.11 L187.66,368.95 L188.26,372.26 L188.87,374.51 L189.48,376.37 L190.08,377.96 L190.69,379.14 L191.30,379.97 L191.91,380.66 L192.51,381.03 L193.12,380.58 L193.73,379.28 L194.33,377.48 L194.94,375.64 L195.55,374.20 L196.15,373.01 L196.76,371.45 L197.37,369.54 L197.98,368.07 L198.58,367.59 L199.19,367.43 L199.80,367.19 L200.40,367.29 L201.01,367.26 L201.62,366.36 L202.22,365.05 L202.83,364.09 L203.44,363.72 L204.05,364.00 L204.65,364.77 L205.26,365.38 L205.87,365.20 L206.47,364.54 L207.08,364.19 L207.69,364.30 L208.29,364.45 L208.90,364.73 L209.51,365.15 L210.12,365.13 L210.72,364.55 L211.33,364.18 L211.94,364.42 L212.54,364.68 L213.15,364.48 L213.76,363.94 L214.36,363.36 L214.97,362.95 L215.58,362.75 L216.19,362.66 L216.79,362.49 L217.40,362.12 L218.01,361.78 L218.61,361.75 L219.22,361.97 L219.83,362.24 L220.43,362.44 L221.04,362.76 L221.65,363.14 L222.26,363.32 L222.86,363.27 L223.47,363.00 L224.08,362.56 L224.68,362.33 L225.29,362.55 L225.90,362.94 L226.50,362.99 L227.11,362.45 L227.72,361.79 L228.33,361.66 L228.93,362.12 L229.54,362.79 L230.15,363.26 L230.75,363.50 L231.36,363.56 L231.97,363.24 L232.57,362.67 L233.18,362.24 L233.79,362.19 L234.40,362.49 L235.00,362.80 L235.61,362.95 L236.22,362.97 L236.82,362.90 L237.43,362.73 L238.04,362.51 L238.64,362.16 L239.25,361.70 L239.86,361.47 L240.47,361.58 L241.07,361.68 L241.68,361.67 L242.29,361.68 L242.89,362.16 L243.50,362.93" stroke="#4f9c44"/>
<path d="M43.80,363.32 L44.41,363.07 L45.01,362.18 L45.62,360.74 L46.23,359.60 L46.83,359.36 L47.44,359.71 L48.05,360.28 L48.66,360.75 L49.26,360.76 L49.87,360.66 L50.48,360.90 L51.08,361.40 L51.69,362.03 L52.30,362.53 L52.90,362.49 L53.51,362.09 L54.12,361.98 L54.73,362.19 L55.33,362.28 L55.94,362.08 L56.55,361.78 L57.15,361.60 L57.76,361.79 L58.37,362.35 L58.97,362.90 L59.58,363.05 L60.19,362.95 L60.80,362.87 L61.40,362.77 L62.01,362.69 L62.62,362.57 L63.22,362.52 L63.83,362.71 L64.44,362.85 L65.04,362.48 L65.65,361.81 L66.26,361.70 L66.87,362.25 L67.47,362.56 L68.08,362.39 L68.69,362.50 L69.29,363.12 L69.90,363.61 L70.51,363.68 L71.11,363.92 L71.72,364.53 L72.33,365.13 L72.94,365.31 L73.54,364.99 L74.15,364.65 L74.76,364.88 L75.36,365.58 L75.97,366.31 L76.58,366.96 L77.18,367.54 L77.79,368.14 L78.40,368.96 L79.01,369.96 L79.61,370.89 L80.22,371.78 L80.83,372.76 L81.43,373.71 L82.04,374.69 L82.65,375.95 L83.25,377.41 L83.86,379.07 L84.47,381.68 L85.08,384.81 L85.68,387.81 L86.29,390.55 L86.90,392.22 L87.50,391.92 L88.11,391.34 L88.72,391.51 L89.32,391.85 L89.93,391.44 L90.54,389.12 L91.15,385.70 L91.75,381.80 L92.36,377.12 L92.97,371.96 L93.57,367.28 L94.18,363.19 L94.79,359.07 L95.39,354.75 L96.00,350.57 L96.61,346.78 L97.22,343.25 L97.82,339.67 L98.43,336.53 L99.04,334.12 L99.64,331.75 L100.25,329.55 L100.86,327.87 L101.46,326.72 L102.07,326.19 L102.68,327.00 L103.29,329.63 L103.89,332.92 L104.50,335.73 L105.11,337.36 L105.71,338.78 L106.32,339.90 L106.93,340.55 L107.53,341.39 L108.14,342.92 L108.75,344.57 L109.36,345.73 L109.96,346.69 L110.57,347.73 L111.18,348.48 L111.78,348.73 L112.39,348.93 L113.00,349.62 L113.60,350.59 L114.21,351.20 L114.82,351.13 L115.42,350.78 L116.03,350.88 L116.64,351.57 L117.25,352.26 L117.85,352.64 L118.46,352.77 L119.07,352.90 L119.67,353.44 L120.28,354.17 L120.89,354.40 L121.49,354.23 L122.10,354.38 L122.71,355.03 L123.32,355.78 L123.92,356.28 L124.53,356.71 L125.14,357.25 L125.74,357.62 L126.35,357.61 L126.96,357.59 L127.56,357.70 L128.17,357.82 L128.78,358.19 L129.39,358.75 L129.99,359.04 L130.60,359.00 L131.21,359.06 L131.81,359.61 L132.42,360.31 L133.03,360.44 L133.63,360.00 L134.24,359.66 L134.85,359.56 L135.46,359.58 L136.06,359.83 L136.67,360.26 L137.28,360.52 L137.88,360.52 L138.49,360.44 L139.10,360.64 L139.70,361.13 L140.31,361.46 L140.92,361.62 L141.53,361.82 L142.13,362.15 L142.74,362.41 L143.35,362.24 L143.95,361.82 L144.56,361.78 L145.17,362.07 L145.77,361.87 L146.38,361.23 L146.99,361.18 L147.60,361.98 L148.20,362.83 L148.81,363.14 L149.42,363.00 L150.02,362.64 L150.63,362.31 L151.24,362.45 L151.84,363.09 L152.45,363.82 L153.06,364.17 L153.67,364.05 L154.27,363.76 L154.88,363.61 L155.49,363.48 L156.09,363.21 L156.70,362.93 L157.31,363.02 L157.91,363.55 L158.52,363.92 L159.13,363.75 L159.74,363.55 L160.34,363.77 L160.95,364.06 L161.56,364.13 L162.16,364.13 L162.77,364.29 L163.38,364.45 L163.98,364.18 L164.59,363.61 L165.20,363.24 L165.81,363.34 L166.41,363.83 L167.02,364.38 L167.63,364.67 L168.23,364.83 L168.84,365.09 L169.45,365.33 L170.05,365.28 L170.66,364.89 L171.27,364.31 L171.88,363.63 L172.48,362.96 L173.09,362.48 L173.70,362.05 L174.30,361.41 L174.91,360.51 L175.52,359.59 L176.12,359.01 L176.73,358.61 L177.34,357.69 L177.94,356.03 L178.55,353.96 L179.16,351.87 L179.77,349.77 L180.37,347.15 L180.98,344.92 L181.59,344.23 L182.19,345.12 L182.80,346.55 L183.41,348.24 L184.01,350.34 L184.62,352.68 L185.23,355.18 L185.84,357.44 L186.44,359.28 L187.05,360.94 L187.66,362.78 L188.26,364.92 L188.87,367.00 L189.48,368.98 L190.08,371.07 L190.69,372.71 L191.30,373.16 L191.91,372.78 L192.51,372.40 L193.12,371.97 L193.73,371.27 L194.33,370.53 L194.94,370.04 L195.55,369.18 L196.15,367.76 L196.76,366.62 L197.37,366.35 L197.98,366.22 L198.58,365.62 L199.19,365.00 L199.80,365.04 L200.40,365.66 L201.01,365.93 L201.62,365.40 L202.22,364.57 L202.83,364.12 L203.44,364.32 L204.05,364.81 L204.65,364.83 L205.26,364.25 L205.87,363.71 L206.47,363.69 L207.08,363.95 L207.69,363.78 L208.29,362.96 L208.90,362.04 L209.51,361.72 L210.12,362.13 L210.72,362.92 L211.33,363.75 L211.94,364.26 L212.54,364.39 L213.15,364.37 L213.76,364.27 L214.36,364.03 L214.97,363.69 L215.58,363.33 L216.19,363.02 L216.79,362.77 L217.40,362.45 L218.01,362.18 L218.61,362.27 L219.22,362.55 L219.83,362.71 L220.43,362.71 L221.04,362.63 L221.65,362.33 L222.26,361.73 L222.86,361.40 L223.47,361.90 L224.08,362.91 L224.68,363.54 L225.29,363.32 L225.90,362.71 L226.50,362.34 L227.11,362.28 L227.72,362.16 L228.33,361.96 L228.93,361.86 L229.54,361.86 L230.15,362.16 L230.75,362.66 L231.36,363.03 L231.97,363.43 L232.57,363.97 L233.18,364.25 L233.79,363.88 L234.40,363.18 L235.00,362.76 L235.61,362.79 L236.22,363.01 L236.82,363.21 L237.43,363.50 L238.04,363.77 L238.64,363.57 L239.25,362.99 L239.86,362.66 L240.47,362.54 L241.07,362.13 L241.68,361.54 L242.29,361.37 L242.89,361.63 L243.50,361.81" stroke="#e17c28"/>
<path d="M43.80,359.83 L44.41,360.50 L45.01,361.38 L45.62,361.93 L46.23,362.01 L46.83,362.10 L47.44,362.07 L48.05,361.47 L48.66,360.72 L49.26,360.45 L49.87,360.82 L50.48,361.56 L51.08,362.17 L51.69,362.29 L52.30,362.11 L52.90,361.98 L53.51,361.91 L54.12,361.65 L54.73,361.14 L55.33,360.54 L55.94,360.22 L56.55,360.77 L57.15,362.03 L57.76,363.09 L58.37,363.50 L58.97,363.39 L59.58,363.20 L60.19,363.25 L60.80,363.23 L61.40,362.89 L62.01,362.59 L62.62,362.55 L63.22,362.46 L63.83,362.20 L64.44,362.06 L65.04,362.19 L65.65,362.59 L66.26,363.06 L66.87,363.25 L67.47,363.07 L68.08,362.85 L68.69,363.05 L69.29,363.56 L69.90,364.06 L70.51,364.50 L71.11,365.01 L71.72,365.85 L72.33,366.91 L72.94,367.67 L73.54,368.01 L74.15,368.30 L74.76,368.75 L75.36,369.39 L75.97,370.14 L76.58,370.89 L77.18,371.78 L77.79,372.85 L78.40,374.09 L79.01,375.58 L79.61,376.90 L80.22,377.61 L80.83,378.07 L81.43,378.83 L82.04,379.87 L82.65,381.01 L83.25,382.48 L83.86,384.61 L84.47,387.41 L85.08,390.56 L85.68,393.50 L86.29,396.00 L86.90,399.06 L87.50,402.86 L88.11,406.19 L88.72,407.56 L89.32,403.93 L89.93,396.38 L90.54,388.86 L91.15,379.81 L91.75,371.42 L92.36,365.19 L92.97,359.43 L93.57,353.89 L94.18,348.38 L94.79,342.32 L95.39,335.13 L96.00,328.21 L96.61,323.53 L97.22,320.92 L97.82,318.45 L98.43,317.30 L99.04,318.01 L99.64,320.18 L100.25,322.80 L100.86,324.97 L101.46,326.66 L102.07,328.09 L102.68,329.44 L103.29,330.80 L103.89,332.63 L104.50,335.17 L105.11,337.69 L105.71,339.47 L106.32,340.84 L106.93,342.21 L107.53,343.35 L108.14,344.18 L108.75,345.08 L109.36,346.40 L109.96,348.10 L110.57,350.08 L111.18,351.69 L111.78,352.45 L112.39,352.79 L113.00,353.22 L113.60,353.77 L114.21,354.16 L114.82,354.18 L115.42,354.07 L116.03,354.09 L116.64,354.19 L117.25,354.32 L117.85,354.72 L118.46,355.39 L119.07,355.98 L119.67,356.43 L120.28,356.93 L120.89,357.38 L121.49,357.56 L122.10,357.66 L122.71,357.86 L123.32,358.00 L123.92,357.76 L124.53,357.19 L125.14,356.87 L125.74,357.30 L126.35,358.29 L126.96,359.11 L127.56,359.51 L128.17,359.69 L128.78,359.73 L129.39,359.71 L129.99,359.59 L130.60,359.30 L131.21,358.93 L131.81,358.86 L132.42,359.39 L133.03,360.12 L133.63,360.64 L134.24,361.06 L134.85,361.42 L135.46,361.56 L136.06,361.35 L136.67,361.15 L137.28,361.40 L137.88,361.79 L138.49,361.85 L139.10,361.65 L139.70,361.73 L140.31,362.25 L140.92,362.67 L141.53,362.80 L142.13,362.77 L142.74,362.45 L143.35,362.13 L143.95,362.31 L144.56,362.85 L145.17,363.30 L145.77,363.38 L146.38,363.01 L146.99,362.35 L147.60,361.90 L148.20,362.10 L148.81,362.71 L149.42,363.19 L150.02,363.53 L150.63,363.87 L151.24,364.03 L151.84,364.10 L152.45,364.20 L153.06,364.24 L153.67,364.34 L154.27,364.60 L154.88,364.70 L155.49,364.55 L156.09,364.40 L156.70,364.24 L157.31,364.11 L157.91,364.26 L158.52,364.67 L159.13,365.10 L159.74,365.35 L160.34,365.24 L160.95,364.97 L161.56,364.99 L162.16,365.34 L162.77,365.84 L163.38,366.43 L163.98,367.06 L164.59,367.76 L165.20,368.49 L165.81,369.21 L166.41,369.95 L167.02,370.57 L167.63,370.98 L168.23,371.17 L168.84,371.49 L169.45,372.44 L170.05,373.70 L170.66,374.84 L171.27,375.80 L171.88,376.43 L172.48,376.40 L173.09,375.82 L173.70,375.22 L174.30,374.58 L174.91,373.50 L175.52,372.29 L176.12,371.20 L176.73,369.88 L177.34,368.23 L177.94,366.40 L178.55,364.60 L179.16,363.30 L179.77,362.35 L180.37,361.06 L180.98,359.50 L181.59,358.09 L182.19,356.70 L182.80,354.52 L183.41,351.74 L184.01,349.30 L184.62,347.87 L185.23,347.03 L185.84,346.60 L186.44,346.44 L187.05,346.35 L187.66,346.57 L188.26,347.22 L188.87,348.33 L189.48,349.81 L190.08,351.42 L190.69,352.57 L191.30,353.73 L191.91,354.78 L192.51,355.40 L193.12,355.38 L193.73,355.22 L194.33,355.33 L194.94,355.78 L195.55,356.42 L196.15,357.03 L196.76,357.51 L197.37,357.79 L197.98,357.89 L198.58,358.11 L199.19,358.60 L199.80,359.19 L200.40,359.77 L201.01,360.43 L201.62,361.20 L202.22,361.70 L202.83,361.50 L203.44,360.98 L204.05,360.82 L204.65,360.93 L205.26,360.79 L205.87,360.34 L206.47,360.12 L207.08,360.22 L207.69,360.23 L208.29,360.09 L208.90,360.21 L209.51,360.77 L210.12,361.22 L210.72,360.99 L211.33,360.50 L211.94,360.41 L212.54,360.59 L213.15,360.69 L213.76,360.85 L214.36,361.31 L214.97,361.78 L215.58,361.74 L216.19,361.26 L216.79,360.76 L217.40,360.33 L218.01,360.21 L218.61,360.58 L219.22,361.15 L219.83,361.61 L220.43,361.93 L221.04,362.27 L221.65,362.54 L222.26,362.23 L222.86,361.40 L223.47,360.74 L224.08,360.54 L224.68,360.62 L225.29,360.68 L225.90,360.74 L226.50,360.95 L227.11,361.20 L227.72,361.24 L228.33,361.03 L228.93,360.46 L229.54,359.90 L230.15,359.84 L230.75,360.18 L231.36,360.59 L231.97,360.87 L232.57,361.10 L233.18,361.47 L233.79,361.90 L234.40,362.14 L235.00,362.27 L235.61,362.35 L236.22,362.18 L236.82,361.95 L237.43,362.06 L238.04,362.31 L238.64,362.26 L239.25,361.94 L239.86,361.60 L240.47,361.27 L241.07,360.95 L241.68,361.00 L242.29,361.63 L242.89,362.19 L243.50,362.25" stroke="#bd2b2b"/>
</g>
<g fill="none" stroke-width="1.7" stroke-linejoin="round" stroke-linecap="round">
<path d="M374.80,362.57 L375.41,362.65 L376.01,362.49 L376.62,362.02 L377.23,361.80 L377.83,361.93 L378.44,361.81 L379.05,361.10 L379.65,360.25 L380.26,359.88 L380.87,360.09 L381.47,360.22 L382.08,359.85 L382.69,359.24 L383.29,358.65 L383.90,358.09 L384.51,357.41 L385.11,356.66 L385.72,356.00 L386.33,355.43 L386.93,354.71 L387.54,353.78 L388.15,352.82 L388.75,352.08 L389.36,351.62 L389.97,350.89 L390.57,349.37 L391.18,347.65 L391.79,346.47 L392.39,345.73 L393.00,345.14 L393.61,344.30 L394.21,342.57 L394.82,339.98 L395.43,337.36 L396.03,335.26 L396.64,333.53 L397.25,331.78 L397.85,329.91 L398.46,327.92 L399.07,325.94 L399.67,323.80 L400.28,321.20 L400.89,319.30 L401.49,319.68 L402.10,322.44 L402.71,326.87 L403.31,336.57 L403.92,347.30 L404.53,355.74 L405.13,364.70 L405.74,375.44 L406.35,386.65 L406.95,395.02 L407.56,402.15 L408.17,407.58 L408.77,409.40 L409.38,405.20 L409.99,398.37 L410.59,393.55 L411.20,390.34 L411.81,388.98 L412.41,387.15 L413.02,385.14 L413.63,383.19 L414.23,381.61 L414.84,380.76 L415.45,380.38 L416.05,380.03 L416.66,379.85 L417.27,379.93 L417.87,379.96 L418.48,379.92 L419.09,380.07 L419.69,380.20 L420.30,379.98 L420.91,379.36 L421.51,378.49 L422.12,377.51 L422.73,376.47 L423.33,375.61 L423.94,375.27 L424.55,375.16 L425.16,374.71 L425.76,373.94 L426.37,373.22 L426.98,372.80 L427.58,372.62 L428.19,372.44 L428.80,372.16 L429.40,371.75 L430.01,371.33 L430.62,371.08 L431.22,370.95 L431.83,370.80 L432.44,370.50 L433.04,369.97 L433.65,369.21 L434.26,368.46 L434.86,367.88 L435.47,367.22 L436.08,366.74 L436.68,366.91 L437.29,367.28 L437.90,367.19 L438.50,366.81 L439.11,366.61 L439.72,366.67 L440.32,366.76 L440.93,366.64 L441.54,366.32 L442.14,366.16 L442.75,366.31 L443.36,366.51 L443.96,366.62 L444.57,366.71 L445.18,366.58 L445.78,366.34 L446.39,366.13 L447.00,365.89 L447.60,365.73 L448.21,365.53 L448.82,365.14 L449.42,364.87 L450.03,364.78 L450.64,364.50 L451.24,364.08 L451.85,364.03 L452.46,364.51 L453.06,365.05 L453.67,365.13 L454.28,364.59 L454.88,363.80 L455.49,363.21 L456.10,362.93 L456.70,363.02 L457.31,363.41 L457.92,363.64 L458.52,363.47 L459.13,363.43 L459.74,363.61 L460.34,363.40 L460.95,362.70 L461.56,361.83 L462.16,361.18 L462.77,361.25 L463.38,361.94 L463.98,362.59 L464.59,362.79 L465.20,362.75 L465.80,362.64 L466.41,362.48 L467.02,362.10 L467.62,361.43 L468.23,360.94 L468.84,361.21 L469.44,361.98 L470.05,362.30 L470.66,361.86 L471.26,361.51 L471.87,361.69 L472.48,361.91 L473.08,361.92 L473.69,361.92 L474.30,362.08 L474.90,362.37 L475.51,362.51 L476.12,362.42 L476.72,362.13 L477.33,361.60 L477.94,361.08 L478.54,360.63 L479.15,360.06 L479.76,359.44 L480.36,358.93 L480.97,358.67 L481.58,358.74 L482.18,358.89 L482.79,358.73 L483.40,357.90 L484.00,356.48 L484.61,355.17 L485.22,354.61 L485.82,354.43 L486.43,353.96 L487.04,353.30 L487.64,352.63 L488.25,351.85 L488.86,351.20 L489.46,350.75 L490.07,350.20 L490.68,349.50 L491.28,348.69 L491.89,347.81 L492.50,347.05 L493.10,346.38 L493.71,345.43 L494.32,344.05 L494.92,342.77 L495.53,341.94 L496.14,341.18 L496.74,340.20 L497.35,339.26 L497.96,338.70 L498.56,338.83 L499.17,340.08 L499.78,341.91 L500.38,344.47 L500.99,347.16 L501.60,350.16 L502.20,354.52 L502.81,359.55 L503.42,364.05 L504.02,368.29 L504.63,372.87 L505.24,376.28 L505.84,378.10 L506.45,379.52 L507.06,380.60 L507.66,381.40 L508.27,381.73 L508.88,381.71 L509.48,381.65 L510.09,381.54 L510.70,381.17 L511.30,380.62 L511.91,380.10 L512.52,379.65 L513.12,379.10 L513.73,378.26 L514.34,377.17 L514.94,376.19 L515.55,375.45 L516.16,374.94 L516.76,374.65 L517.37,374.39 L517.98,373.91 L518.58,373.29 L519.19,372.52 L519.80,371.44 L520.40,370.16 L521.01,369.03 L521.62,368.44 L522.22,368.44 L522.83,368.46 L523.44,367.92 L524.04,366.93 L524.65,366.22 L525.26,366.16 L525.87,366.23 L526.47,366.01 L527.08,365.79 L527.69,365.99 L528.29,366.46 L528.90,366.45 L529.51,365.55 L530.11,364.66 L530.72,364.66 L531.33,365.06 L531.93,364.94 L532.54,364.19 L533.15,363.42 L533.75,363.29 L534.36,363.51 L534.97,363.52 L535.57,363.37 L536.18,363.30 L536.79,363.42 L537.39,363.54 L538.00,363.44 L538.61,363.13 L539.21,362.90 L539.82,363.17 L540.43,363.61 L541.03,363.30 L541.64,362.39 L542.25,361.93 L542.85,361.99 L543.46,362.04 L544.07,362.22 L544.67,362.53 L545.28,362.59 L545.89,362.32 L546.49,362.16 L547.10,362.38 L547.71,362.37 L548.31,361.97 L548.92,362.08 L549.53,362.78 L550.13,363.26 L550.74,363.17 L551.35,362.75 L551.95,362.45 L552.56,362.55 L553.17,362.79 L553.77,362.65 L554.38,362.09 L554.99,361.51 L555.59,361.35 L556.20,361.63 L556.81,361.97 L557.41,362.16 L558.02,362.11 L558.63,362.00 L559.23,362.22 L559.84,362.55 L560.45,362.51 L561.05,362.26 L561.66,361.98 L562.27,361.62 L562.87,361.37 L563.48,361.14 L564.09,360.72 L564.69,360.49 L565.30,360.63 L565.91,360.67 L566.51,360.61 L567.12,361.08 L567.73,361.96 L568.33,362.58 L568.94,362.86 L569.55,363.01 L570.15,362.83 L570.76,362.30 L571.37,361.82 L571.97,361.57 L572.58,361.60 L573.19,361.89 L573.79,362.07 L574.40,362.03" stroke="#151515"/>
<path d="M374.80,362.45 L375.41,361.97 L376.01,361.42 L376.62,361.03 L377.23,360.93 L377.83,361.11 L378.44,361.32 L379.05,361.29 L379.65,360.83 L380.26,359.99 L380.87,359.05 L381.47,358.28 L382.08,357.62 L382.69,357.04 L383.29,356.88 L383.90,357.28 L384.51,357.80 L385.11,357.88 L385.72,357.44 L386.33,356.95 L386.93,356.62 L387.54,356.29 L388.15,355.78 L388.75,355.25 L389.36,354.99 L389.97,354.78 L390.57,354.41 L391.18,353.86 L391.79,353.11 L392.39,352.62 L393.00,352.61 L393.61,352.65 L394.21,352.28 L394.82,351.36 L395.43,350.24 L396.03,349.50 L396.64,349.05 L397.25,348.23 L397.85,347.04 L398.46,346.21 L399.07,345.97 L399.67,345.69 L400.28,344.70 L400.89,343.02 L401.49,341.45 L402.10,340.80 L402.71,341.94 L403.31,345.00 L403.92,348.58 L404.53,352.11 L405.13,356.78 L405.74,361.55 L406.35,365.30 L406.95,368.65 L407.56,371.38 L408.17,372.93 L408.77,373.36 L409.38,371.76 L409.99,368.57 L410.59,365.83 L411.20,364.79 L411.81,363.90 L412.41,362.77 L413.02,361.50 L413.63,360.53 L414.23,360.20 L414.84,360.50 L415.45,361.05 L416.05,361.41 L416.66,361.55 L417.27,361.82 L417.87,362.45 L418.48,363.08 L419.09,363.54 L419.69,364.11 L420.30,364.83 L420.91,365.34 L421.51,365.67 L422.12,366.18 L422.73,366.81 L423.33,367.21 L423.94,367.45 L424.55,367.76 L425.16,368.14 L425.76,368.43 L426.37,368.68 L426.98,368.78 L427.58,368.61 L428.19,368.53 L428.80,368.57 L429.40,368.66 L430.01,368.91 L430.62,368.95 L431.22,368.43 L431.83,367.71 L432.44,367.20 L433.04,366.80 L433.65,366.30 L434.26,365.72 L434.86,365.20 L435.47,365.32 L436.08,366.34 L436.68,367.35 L437.29,367.46 L437.90,366.91 L438.50,366.35 L439.11,366.17 L439.72,366.26 L440.32,366.20 L440.93,365.98 L441.54,365.87 L442.14,365.62 L442.75,364.99 L443.36,364.45 L443.96,364.31 L444.57,364.40 L445.18,364.34 L445.78,363.88 L446.39,363.25 L447.00,363.01 L447.60,363.28 L448.21,363.62 L448.82,363.55 L449.42,363.27 L450.03,363.47 L450.64,364.26 L451.24,364.97 L451.85,365.02 L452.46,364.39 L453.06,363.60 L453.67,363.24 L454.28,363.07 L454.88,362.48 L455.49,361.92 L456.10,362.24 L456.70,363.18 L457.31,363.93 L457.92,364.22 L458.52,363.79 L459.13,362.61 L459.74,361.53 L460.34,361.45 L460.95,362.08 L461.56,362.56 L462.16,362.71 L462.77,363.00 L463.38,363.42 L463.98,363.20 L464.59,362.30 L465.20,361.55 L465.80,361.29 L466.41,361.34 L467.02,361.55 L467.62,361.66 L468.23,361.41 L468.84,361.08 L469.44,361.15 L470.05,361.51 L470.66,361.91 L471.26,362.24 L471.87,362.11 L472.48,361.39 L473.08,360.78 L473.69,360.80 L474.30,361.00 L474.90,360.94 L475.51,361.05 L476.12,361.48 L476.72,361.47 L477.33,360.72 L477.94,360.15 L478.54,360.39 L479.15,360.79 L479.76,360.37 L480.36,359.05 L480.97,357.72 L481.58,356.77 L482.18,355.96 L482.79,355.09 L483.40,354.25 L484.00,353.41 L484.61,352.50 L485.22,351.59 L485.82,350.72 L486.43,350.00 L487.04,349.58 L487.64,349.32 L488.25,349.04 L488.86,348.72 L489.46,348.10 L490.07,347.33 L490.68,346.82 L491.28,346.27 L491.89,345.20 L492.50,344.42 L493.10,344.94 L493.71,346.43 L494.32,347.76 L494.92,348.67 L495.53,349.47 L496.14,350.67 L496.74,352.50 L497.35,354.67 L497.96,357.09 L498.56,359.38 L499.17,361.01 L499.78,361.91 L500.38,362.56 L500.99,363.52 L501.60,365.11 L502.20,367.49 L502.81,370.51 L503.42,373.67 L504.02,376.03 L504.63,377.77 L505.24,379.70 L505.84,379.84 L506.45,379.02 L507.06,378.30 L507.66,378.16 L508.27,378.02 L508.88,377.24 L509.48,376.20 L510.09,375.48 L510.70,374.93 L511.30,374.49 L511.91,374.33 L512.52,374.19 L513.12,373.67 L513.73,373.04 L514.34,372.64 L514.94,372.51 L515.55,372.47 L516.16,372.22 L516.76,371.65 L517.37,371.00 L517.98,370.51 L518.58,370.16 L519.19,369.77 L519.80,369.21 L520.40,368.53 L521.01,367.88 L521.62,367.39 L522.22,367.19 L522.83,367.15 L523.44,366.90 L524.04,366.38 L524.65,366.01 L525.26,365.81 L525.87,365.47 L526.47,365.03 L527.08,364.57 L527.69,363.86 L528.29,363.03 L528.90,362.56 L529.51,362.71 L530.11,363.19 L530.72,363.32 L531.33,362.88 L531.93,362.41 L532.54,362.36 L533.15,362.65 L533.75,362.95 L534.36,362.92 L534.97,362.62 L535.57,362.57 L536.18,362.71 L536.79,362.63 L537.39,362.36 L538.00,362.14 L538.61,361.93 L539.21,361.75 L539.82,361.83 L540.43,362.28 L541.03,362.71 L541.64,362.84 L542.25,362.94 L542.85,363.07 L543.46,363.02 L544.07,362.69 L544.67,362.11 L545.28,361.75 L545.89,361.79 L546.49,361.88 L547.10,362.02 L547.71,362.36 L548.31,362.61 L548.92,362.45 L549.53,362.12 L550.13,361.90 L550.74,361.75 L551.35,361.61 L551.95,361.49 L552.56,361.34 L553.17,361.27 L553.77,361.35 L554.38,361.52 L554.99,361.73 L555.59,361.93 L556.20,361.91 L556.81,361.64 L557.41,361.46 L558.02,361.54 L558.63,361.76 L559.23,362.08 L559.84,362.24 L560.45,362.07 L561.05,362.08 L561.66,362.60 L562.27,362.99 L562.87,362.73 L563.48,362.07 L564.09,361.63 L564.69,361.75 L565.30,362.17 L565.91,362.46 L566.51,362.61 L567.12,362.78 L567.73,362.87 L568.33,362.71 L568.94,362.42 L569.55,362.31 L570.15,362.52 L570.76,362.81 L571.37,362.92 L571.97,362.75 L572.58,362.52 L573.19,362.50 L573.79,362.65 L574.40,362.88" stroke="#3f72b8"/>
<path d="M374.80,361.41 L375.41,361.89 L376.01,362.63 L376.62,362.77 L377.23,362.36 L377.83,362.25 L378.44,362.55 L379.05,362.82 L379.65,362.77 L380.26,362.40 L380.87,362.13 L381.47,362.15 L382.08,362.06 L382.69,361.82 L383.29,362.02 L383.90,362.76 L384.51,363.56 L385.11,364.20 L385.72,364.76 L386.33,365.38 L386.93,366.21 L387.54,367.05 L388.15,367.41 L388.75,367.09 L389.36,366.54 L389.97,366.36 L390.57,366.62 L391.18,366.82 L391.79,366.83 L392.39,366.96 L393.00,367.19 L393.61,367.26 L394.21,367.44 L394.82,368.10 L395.43,368.87 L396.03,369.11 L396.64,368.71 L397.25,368.07 L397.85,367.50 L398.46,366.95 L399.07,366.19 L399.67,365.31 L400.28,364.71 L400.89,364.30 L401.49,363.87 L402.10,363.59 L402.71,363.53 L403.31,363.48 L403.92,363.42 L404.53,363.34 L405.13,362.92 L405.74,362.02 L406.35,361.06 L406.95,359.99 L407.56,358.17 L408.17,356.05 L408.77,354.28 L409.38,352.70 L409.99,351.18 L410.59,349.41 L411.20,347.33 L411.81,344.93 L412.41,342.52 L413.02,340.69 L413.63,340.05 L414.23,340.70 L414.84,341.98 L415.45,343.36 L416.05,344.58 L416.66,345.88 L417.27,347.22 L417.87,348.49 L418.48,349.73 L419.09,351.07 L419.69,352.55 L420.30,354.30 L420.91,356.16 L421.51,357.79 L422.12,359.07 L422.73,360.12 L423.33,361.23 L423.94,362.42 L424.55,363.34 L425.16,363.96 L425.76,364.70 L426.37,365.54 L426.98,366.21 L427.58,366.65 L428.19,366.82 L428.80,366.49 L429.40,366.07 L430.01,366.20 L430.62,366.75 L431.22,367.08 L431.83,366.84 L432.44,366.44 L433.04,366.30 L433.65,366.23 L434.26,366.08 L434.86,365.92 L435.47,365.89 L436.08,366.00 L436.68,366.00 L437.29,365.59 L437.90,365.07 L438.50,364.95 L439.11,365.06 L439.72,365.20 L440.32,365.46 L440.93,365.71 L441.54,365.73 L442.14,365.49 L442.75,365.16 L443.36,364.92 L443.96,364.92 L444.57,364.98 L445.18,364.88 L445.78,364.61 L446.39,364.16 L447.00,363.71 L447.60,363.60 L448.21,363.90 L448.82,364.21 L449.42,364.28 L450.03,364.19 L450.64,364.00 L451.24,363.93 L451.85,364.02 L452.46,363.89 L453.06,363.33 L453.67,362.78 L454.28,362.66 L454.88,362.63 L455.49,362.42 L456.10,362.35 L456.70,362.65 L457.31,362.90 L457.92,362.48 L458.52,361.85 L459.13,361.89 L459.74,362.27 L460.34,362.40 L460.95,362.48 L461.56,362.61 L462.16,362.52 L462.77,362.23 L463.38,362.09 L463.98,362.32 L464.59,362.84 L465.20,363.29 L465.80,363.25 L466.41,362.80 L467.02,362.27 L467.62,361.60 L468.23,360.95 L468.84,360.65 L469.44,360.53 L470.05,360.33 L470.66,360.11 L471.26,359.90 L471.87,359.60 L472.48,359.34 L473.08,359.28 L473.69,359.09 L474.30,358.41 L474.90,357.47 L475.51,356.43 L476.12,355.15 L476.72,353.88 L477.33,353.15 L477.94,353.05 L478.54,353.16 L479.15,353.05 L479.76,352.45 L480.36,351.56 L480.97,350.83 L481.58,350.42 L482.18,350.16 L482.79,349.73 L483.40,348.94 L484.00,347.88 L484.61,346.82 L485.22,345.95 L485.82,345.49 L486.43,345.66 L487.04,346.14 L487.64,346.34 L488.25,346.39 L488.86,346.57 L489.46,346.95 L490.07,347.96 L490.68,349.85 L491.28,352.05 L491.89,354.41 L492.50,356.76 L493.10,358.77 L493.71,360.54 L494.32,362.27 L494.92,364.12 L495.53,366.10 L496.14,368.19 L496.74,370.31 L497.35,372.26 L497.96,373.93 L498.56,375.10 L499.17,375.63 L499.78,376.09 L500.38,376.95 L500.99,378.01 L501.60,378.81 L502.20,379.12 L502.81,378.73 L503.42,377.99 L504.02,377.37 L504.63,376.83 L505.24,376.32 L505.84,375.88 L506.45,375.34 L507.06,374.79 L507.66,374.43 L508.27,374.13 L508.88,373.52 L509.48,372.77 L510.09,372.21 L510.70,371.63 L511.30,370.78 L511.91,369.61 L512.52,368.45 L513.12,367.72 L513.73,367.48 L514.34,367.25 L514.94,366.66 L515.55,366.02 L516.16,365.91 L516.76,366.18 L517.37,366.24 L517.98,365.80 L518.58,365.02 L519.19,364.28 L519.80,363.84 L520.40,363.71 L521.01,363.81 L521.62,363.83 L522.22,363.55 L522.83,363.33 L523.44,363.49 L524.04,363.78 L524.65,363.82 L525.26,363.72 L525.87,363.85 L526.47,364.11 L527.08,364.18 L527.69,363.92 L528.29,363.28 L528.90,362.51 L529.51,361.98 L530.11,361.87 L530.72,362.18 L531.33,362.51 L531.93,362.31 L532.54,361.94 L533.15,362.29 L533.75,363.23 L534.36,363.79 L534.97,363.72 L535.57,363.62 L536.18,363.66 L536.79,363.81 L537.39,364.13 L538.00,364.21 L538.61,363.68 L539.21,362.92 L539.82,362.39 L540.43,362.31 L541.03,362.66 L541.64,363.24 L542.25,363.74 L542.85,363.79 L543.46,363.18 L544.07,362.29 L544.67,361.70 L545.28,361.81 L545.89,362.48 L546.49,362.90 L547.10,362.76 L547.71,362.80 L548.31,363.28 L548.92,363.48 L549.53,363.16 L550.13,362.95 L550.74,363.15 L551.35,363.46 L551.95,363.71 L552.56,363.83 L553.17,363.65 L553.77,363.36 L554.38,363.36 L554.99,363.58 L555.59,363.45 L556.20,363.01 L556.81,362.85 L557.41,363.01 L558.02,363.12 L558.63,363.13 L559.23,363.06 L559.84,362.79 L560.45,362.48 L561.05,362.49 L561.66,362.74 L562.27,362.69 L562.87,362.26 L563.48,362.05 L564.09,362.30 L564.69,362.52 L565.30,362.41 L565.91,362.10 L566.51,361.87 L567.12,361.85 L567.73,361.99 L568.33,362.26 L568.94,362.66 L569.55,363.07 L570.15,363.30 L570.76,363.21 L571.37,362.86 L571.97,362.35 L572.58,361.85 L573.19,361.51 L573.79,361.25 L574.40,361.04" stroke="#4f9c44"/>
<path d="M374.80,363.63 L375.41,363.40 L376.01,363.34 L376.62,363.70 L377.23,363.99 L377.83,363.95 L378.44,363.93 L379.05,364.32 L379.65,364.88 L380.26,365.25 L380.87,365.41 L381.47,365.75 L382.08,366.53 L382.69,367.57 L383.29,368.52 L383.90,369.30 L384.51,370.03 L385.11,370.76 L385.72,371.56 L386.33,372.49 L386.93,373.36 L387.54,374.17 L388.15,375.19 L388.75,376.39 L389.36,377.46 L389.97,378.29 L390.57,379.21 L391.18,380.34 L391.79,381.53 L392.39,382.82 L393.00,384.09 L393.61,385.28 L394.21,386.45 L394.82,387.46 L395.43,388.38 L396.03,389.53 L396.64,390.55 L397.25,391.11 L397.85,391.37 L398.46,391.32 L399.07,389.39 L399.67,386.48 L400.28,383.92 L400.89,381.24 L401.49,377.93 L402.10,373.95 L402.71,369.64 L403.31,365.12 L403.92,359.44 L404.53,350.13 L405.13,345.12 L405.74,341.60 L406.35,340.09 L406.95,339.78 L407.56,339.89 L408.17,339.98 L408.77,339.54 L409.38,338.87 L409.99,338.67 L410.59,339.07 L411.20,339.61 L411.81,340.10 L412.41,340.58 L413.02,340.96 L413.63,341.41 L414.23,342.26 L414.84,343.50 L415.45,344.63 L416.05,345.39 L416.66,346.21 L417.27,347.16 L417.87,347.97 L418.48,348.90 L419.09,350.09 L419.69,350.95 L420.30,351.38 L420.91,351.91 L421.51,352.81 L422.12,353.84 L422.73,354.68 L423.33,355.30 L423.94,355.94 L424.55,356.72 L425.16,357.55 L425.76,358.11 L426.37,358.26 L426.98,358.40 L427.58,358.76 L428.19,358.86 L428.80,358.45 L429.40,357.87 L430.01,357.52 L430.62,357.75 L431.22,358.59 L431.83,359.74 L432.44,360.76 L433.04,361.26 L433.65,361.43 L434.26,361.72 L434.86,362.12 L435.47,362.27 L436.08,362.02 L436.68,361.70 L437.29,361.75 L437.90,362.07 L438.50,362.32 L439.11,362.50 L439.72,362.77 L440.32,362.99 L440.93,362.87 L441.54,362.36 L442.14,361.92 L442.75,361.80 L443.36,361.76 L443.96,361.63 L444.57,361.74 L445.18,362.36 L445.78,363.01 L446.39,362.99 L447.00,362.41 L447.60,361.89 L448.21,361.80 L448.82,362.15 L449.42,362.81 L450.03,363.51 L450.64,363.92 L451.24,363.96 L451.85,363.74 L452.46,363.39 L453.06,363.09 L453.67,362.95 L454.28,362.72 L454.88,362.26 L455.49,361.98 L456.10,361.90 L456.70,361.63 L457.31,361.22 L457.92,360.89 L458.52,360.58 L459.13,360.31 L459.74,360.17 L460.34,360.17 L460.95,360.11 L461.56,359.89 L462.16,359.77 L462.77,359.93 L463.38,360.25 L463.98,360.42 L464.59,360.33 L465.20,360.07 L465.80,359.76 L466.41,359.55 L467.02,359.44 L467.62,359.21 L468.23,358.79 L468.84,358.44 L469.44,358.53 L470.05,358.90 L470.66,359.18 L471.26,359.31 L471.87,359.43 L472.48,359.64 L473.08,360.02 L473.69,360.34 L474.30,360.11 L474.90,359.33 L475.51,358.67 L476.12,358.46 L476.72,358.38 L477.33,358.28 L477.94,358.22 L478.54,358.18 L479.15,358.14 L479.76,358.15 L480.36,357.90 L480.97,357.28 L481.58,356.62 L482.18,355.89 L482.79,354.85 L483.40,353.84 L484.00,353.24 L484.61,353.10 L485.22,353.38 L485.82,353.66 L486.43,353.56 L487.04,353.03 L487.64,352.82 L488.25,353.77 L488.86,355.51 L489.46,357.06 L490.07,358.14 L490.68,359.28 L491.28,360.47 L491.89,361.35 L492.50,362.15 L493.10,363.62 L493.71,365.66 L494.32,367.34 L494.92,368.29 L495.53,369.02 L496.14,370.14 L496.74,371.70 L497.35,373.21 L497.96,374.67 L498.56,376.18 L499.17,377.70 L499.78,378.68 L500.38,378.82 L500.99,378.87 L501.60,378.84 L502.20,378.55 L502.81,377.95 L503.42,377.11 L504.02,376.35 L504.63,375.62 L505.24,374.72 L505.84,373.92 L506.45,373.20 L507.06,372.19 L507.66,371.20 L508.27,370.58 L508.88,370.04 L509.48,369.37 L510.09,368.72 L510.70,368.03 L511.30,366.86 L511.91,365.17 L512.52,363.40 L513.12,361.86 L513.73,360.58 L514.34,359.61 L514.94,359.07 L515.55,358.86 L516.16,358.44 L516.76,357.32 L517.37,355.96 L517.98,355.25 L518.58,355.17 L519.19,355.09 L519.80,354.78 L520.40,354.30 L521.01,353.84 L521.62,353.60 L522.22,353.51 L522.83,353.83 L523.44,354.93 L524.04,356.27 L524.65,357.38 L525.26,358.01 L525.87,358.15 L526.47,358.33 L527.08,358.66 L527.69,359.10 L528.29,359.56 L528.90,359.96 L529.51,360.22 L530.11,360.30 L530.72,360.29 L531.33,360.31 L531.93,360.36 L532.54,360.41 L533.15,360.42 L533.75,360.56 L534.36,361.10 L534.97,361.78 L535.57,362.27 L536.18,362.43 L536.79,362.28 L537.39,362.12 L538.00,362.01 L538.61,361.64 L539.21,361.07 L539.82,360.60 L540.43,360.35 L541.03,360.29 L541.64,360.63 L542.25,361.23 L542.85,361.48 L543.46,361.38 L544.07,361.42 L544.67,361.73 L545.28,362.15 L545.89,362.51 L546.49,362.74 L547.10,362.84 L547.71,362.58 L548.31,361.77 L548.92,360.93 L549.53,360.73 L550.13,361.06 L550.74,361.27 L551.35,361.18 L551.95,361.17 L552.56,361.49 L553.17,361.78 L553.77,361.56 L554.38,361.05 L554.99,361.10 L555.59,361.88 L556.20,362.45 L556.81,362.31 L557.41,361.92 L558.02,361.67 L558.63,361.74 L559.23,362.33 L559.84,363.09 L560.45,363.42 L561.05,363.24 L561.66,362.98 L562.27,362.91 L562.87,363.03 L563.48,363.18 L564.09,363.17 L564.69,362.87 L565.30,362.34 L565.91,361.82 L566.51,361.66 L567.12,361.83 L567.73,361.78 L568.33,361.46 L568.94,361.29 L569.55,361.26 L570.15,361.12 L570.76,360.97 L571.37,361.02 L571.97,361.35 L572.58,361.89 L573.19,362.43 L573.79,362.68 L574.40,362.67" stroke="#e17c28"/>
<path d="M374.80,362.11 L375.41,362.18 L376.01,362.33 L376.62,362.68 L377.23,363.09 L377.83,363.16 L378.44,362.89 L379.05,362.79 L379.65,362.92 L380.26,363.00 L380.87,363.25 L381.47,363.90 L382.08,364.58 L382.69,364.68 L383.29,364.24 L383.90,363.98 L384.51,364.34 L385.11,364.94 L385.72,365.33 L386.33,365.60 L386.93,366.15 L387.54,366.94 L388.15,367.19 L388.75,366.80 L389.36,366.50 L389.97,366.53 L390.57,366.82 L391.18,367.58 L391.79,368.50 L392.39,369.12 L393.00,369.77 L393.61,370.84 L394.21,372.08 L394.82,373.44 L395.43,375.18 L396.03,377.25 L396.64,379.25 L397.25,381.04 L397.85,382.75 L398.46,384.43 L399.07,386.10 L399.67,387.89 L400.28,389.72 L400.89,391.44 L401.49,393.05 L402.10,395.16 L402.71,397.64 L403.31,399.88 L403.92,401.92 L404.53,403.55 L405.13,404.25 L405.74,401.95 L406.35,395.40 L406.95,388.32 L407.56,380.25 L408.17,371.90 L408.77,364.14 L409.38,356.68 L409.99,349.42 L410.59,341.45 L411.20,333.84 L411.81,328.16 L412.41,323.64 L413.02,319.66 L413.63,316.65 L414.23,315.24 L414.84,318.67 L415.45,325.23 L416.05,329.90 L416.66,333.59 L417.27,336.11 L417.87,337.75 L418.48,339.14 L419.09,340.22 L419.69,341.11 L420.30,342.06 L420.91,343.11 L421.51,344.10 L422.12,344.86 L422.73,345.43 L423.33,345.62 L423.94,345.44 L424.55,345.65 L425.16,346.82 L425.76,348.47 L426.37,349.95 L426.98,350.92 L427.58,351.37 L428.19,351.68 L428.80,352.21 L429.40,352.80 L430.01,353.30 L430.62,353.93 L431.22,354.73 L431.83,355.31 L432.44,355.80 L433.04,356.63 L433.65,357.60 L434.26,358.24 L434.86,358.55 L435.47,358.94 L436.08,359.41 L436.68,359.52 L437.29,359.32 L437.90,359.40 L438.50,359.88 L439.11,360.14 L439.72,359.78 L440.32,359.29 L440.93,359.25 L441.54,359.34 L442.14,359.13 L442.75,359.10 L443.36,359.79 L443.96,360.73 L444.57,361.25 L445.18,361.45 L445.78,361.66 L446.39,361.85 L447.00,361.85 L447.60,361.67 L448.21,361.52 L448.82,361.75 L449.42,362.22 L450.03,362.30 L450.64,361.78 L451.24,361.23 L451.85,361.33 L452.46,362.12 L453.06,362.82 L453.67,362.80 L454.28,362.44 L454.88,362.28 L455.49,362.21 L456.10,361.83 L456.70,361.03 L457.31,360.37 L457.92,360.46 L458.52,361.03 L459.13,361.44 L459.74,361.58 L460.34,361.62 L460.95,361.57 L461.56,361.29 L462.16,360.92 L462.77,360.74 L463.38,360.77 L463.98,361.05 L464.59,361.74 L465.20,362.60 L465.80,363.02 L466.41,362.75 L467.02,362.12 L467.62,361.64 L468.23,361.62 L468.84,361.91 L469.44,361.94 L470.05,361.62 L470.66,361.44 L471.26,361.49 L471.87,361.43 L472.48,361.39 L473.08,361.78 L473.69,362.38 L474.30,362.54 L474.90,362.17 L475.51,362.03 L476.12,362.49 L476.72,363.17 L477.33,363.57 L477.94,363.55 L478.54,363.38 L479.15,363.38 L479.76,363.47 L480.36,363.46 L480.97,363.57 L481.58,363.94 L482.18,364.32 L482.79,364.45 L483.40,364.66 L484.00,365.30 L484.61,365.99 L485.22,366.32 L485.82,366.63 L486.43,367.15 L487.04,367.46 L487.64,367.44 L488.25,367.45 L488.86,367.78 L489.46,368.40 L490.07,368.76 L490.68,368.54 L491.28,368.30 L491.89,368.53 L492.50,369.00 L493.10,369.47 L493.71,369.88 L494.32,370.28 L494.92,371.06 L495.53,372.44 L496.14,374.23 L496.74,375.86 L497.35,376.82 L497.96,377.16 L498.56,377.39 L499.17,377.94 L499.78,379.14 L500.38,381.28 L500.99,383.15 L501.60,383.65 L502.20,383.13 L502.81,382.26 L503.42,380.98 L504.02,378.62 L504.63,374.34 L505.24,369.53 L505.84,365.18 L506.45,360.17 L507.06,355.29 L507.66,352.04 L508.27,349.80 L508.88,347.87 L509.48,346.33 L510.09,345.31 L510.70,344.45 L511.30,343.57 L511.91,342.87 L512.52,342.61 L513.12,342.86 L513.73,343.32 L514.34,343.60 L514.94,343.58 L515.55,343.65 L516.16,344.24 L516.76,345.14 L517.37,346.26 L517.98,347.54 L518.58,348.62 L519.19,349.49 L519.80,350.32 L520.40,350.92 L521.01,351.11 L521.62,351.28 L522.22,352.11 L522.83,353.59 L523.44,355.18 L524.04,356.31 L524.65,356.85 L525.26,357.16 L525.87,357.56 L526.47,357.87 L527.08,358.17 L527.69,358.58 L528.29,358.95 L528.90,359.07 L529.51,358.91 L530.11,358.61 L530.72,358.51 L531.33,358.71 L531.93,358.96 L532.54,359.05 L533.15,359.18 L533.75,359.42 L534.36,359.51 L534.97,359.62 L535.57,360.01 L536.18,360.53 L536.79,361.06 L537.39,361.51 L538.00,361.72 L538.61,361.64 L539.21,361.36 L539.82,361.17 L540.43,361.66 L541.03,362.47 L541.64,362.51 L542.25,361.80 L542.85,361.18 L543.46,360.86 L544.07,360.61 L544.67,360.29 L545.28,360.04 L545.89,360.10 L546.49,360.57 L547.10,361.27 L547.71,361.87 L548.31,361.96 L548.92,361.39 L549.53,360.51 L550.13,360.18 L550.74,360.76 L551.35,361.53 L551.95,361.72 L552.56,361.44 L553.17,361.07 L553.77,361.01 L554.38,361.44 L554.99,361.87 L555.59,361.85 L556.20,361.67 L556.81,361.51 L557.41,361.51 L558.02,361.95 L558.63,362.49 L559.23,362.43 L559.84,361.74 L560.45,361.01 L561.05,360.84 L561.66,361.09 L562.27,361.20 L562.87,361.06 L563.48,360.93 L564.09,360.92 L564.69,361.10 L565.30,361.40 L565.91,361.65 L566.51,361.86 L567.12,362.09 L567.73,362.24 L568.33,362.21 L568.94,362.05 L569.55,361.86 L570.15,361.80 L570.76,361.84 L571.37,361.74 L571.97,361.40 L572.58,361.20 L573.19,361.47 L573.79,361.93 L574.40,362.17" stroke="#bd2b2b"/>
</g>
<text x="108.60" y="188.10" font-family='"Liberation Sans", sans-serif' font-size="15.3" fill="#111">M</text>
<text x="122.20" y="191.70" font-family='"Liberation Sans", sans-serif' font-size="10.4" fill="#111">1</text>
<text x="197.20" y="206.70" font-family='"Liberation Sans", sans-serif' font-size="15.3" fill="#111">M</text>
<text x="210.30" y="210.10" font-family='"Liberation Sans", sans-serif' font-size="10.4" fill="#111">2</text>
<text x="426.80" y="188.40" font-family='"Liberation Sans", sans-serif' font-size="15.3" fill="#111">M</text>
<text x="440.20" y="191.80" font-family='"Liberation Sans", sans-serif' font-size="10.4" fill="#111">1</text>
<text x="529.30" y="209.40" font-family='"Liberation Sans", sans-serif' font-size="15.3" fill="#111">M</text>
<text x="542.60" y="213.20" font-family='"Liberation Sans", sans-serif' font-size="10.4" fill="#111">2</text>
<text x="111.50" y="329.80" font-family='"Liberation Sans", sans-serif' font-size="15.3" fill="#111">M</text>
<text x="124.80" y="332.80" font-family='"Liberation Sans", sans-serif' font-size="10.4" fill="#111">1</text>
<text x="196.00" y="345.30" font-family='"Liberation Sans", sans-serif' font-size="15.3" fill="#111">M</text>
<text x="208.70" y="349.30" font-family='"Liberation Sans", sans-serif' font-size="10.4" fill="#111">2</text>
<text x="421.50" y="327.70" font-family='"Liberation Sans", sans-serif' font-size="15.3" fill="#111">M</text>
<text x="435.20" y="330.80" font-family='"Liberation Sans", sans-serif' font-size="10.4" fill="#111">1</text>
<text x="521.40" y="343.10" font-family='"Liberation Sans", sans-serif' font-size="15.3" fill="#111">M</text>
<text x="534.20" y="347.00" font-family='"Liberation Sans", sans-serif' font-size="10.4" fill="#111">2</text>
<text x="251.20" y="181.80" font-family='"Liberation Sans", sans-serif' font-size="10.2" fill="#222">μ</text>
<text x="256.90" y="185.50" font-family='"Liberation Sans", sans-serif' font-size="10.0" fill="#222">0</text>
<text x="263.10" y="181.80" font-family='"Liberation Sans", sans-serif' font-size="10.4" fill="#222">H</text>
<text x="271.20" y="183.90" font-family='"Liberation Sans", sans-serif' font-size="10.0" fill="#222">prep</text>
<text x="294.90" y="182.20" font-family='"Liberation Sans", sans-serif' font-size="10.4" fill="#222">(mT)</text>
<rect x="247.60" y="188.50" width="84.7" height="74.5" rx="2.5" fill="#fff" stroke="#d9d9d9" stroke-width="1"/>
<line x1="251.00" y1="195.90" x2="270.80" y2="195.90" stroke="#151515" stroke-width="1.5"/>
<text x="278.00" y="199.50" font-family='"Liberation Sans", sans-serif' font-size="9.8" fill="#222">0mT (T2-)</text>
<line x1="251.00" y1="210.50" x2="270.80" y2="210.50" stroke="#3f72b8" stroke-width="1.5"/>
<text x="278.00" y="214.10" font-family='"Liberation Sans", sans-serif' font-size="9.8" fill="#222">16mT (H<tspan font-size="6.5" dy="2">c1</tspan><tspan dy="-2">)</tspan></text>
<line x1="251.00" y1="225.10" x2="270.80" y2="225.10" stroke="#4f9c44" stroke-width="1.5"/>
<text x="278.00" y="228.70" font-family='"Liberation Sans", sans-serif' font-size="9.8" fill="#222">22mT (T1)</text>
<line x1="251.00" y1="239.70" x2="270.80" y2="239.70" stroke="#e17c28" stroke-width="1.5"/>
<text x="278.00" y="243.30" font-family='"Liberation Sans", sans-serif' font-size="9.8" fill="#222">28mT (H<tspan font-size="6.5" dy="2">c2</tspan><tspan dy="-2">)</tspan></text>
<line x1="251.00" y1="254.30" x2="270.80" y2="254.30" stroke="#bd2b2b" stroke-width="1.5"/>
<text x="278.00" y="257.90" font-family='"Liberation Sans", sans-serif' font-size="9.8" fill="#222">40mT (T2+)</text>
<text x="584.50" y="182.00" font-family='"Liberation Sans", sans-serif' font-size="10.2" fill="#222">μ</text>
<text x="590.20" y="185.70" font-family='"Liberation Sans", sans-serif' font-size="10.0" fill="#222">0</text>
<text x="596.40" y="182.00" font-family='"Liberation Sans", sans-serif' font-size="10.4" fill="#222">H</text>
<text x="604.50" y="184.10" font-family='"Liberation Sans", sans-serif' font-size="10.0" fill="#222">prep</text>
<text x="628.20" y="182.40" font-family='"Liberation Sans", sans-serif' font-size="10.4" fill="#222">(mT)</text>
<rect x="580.20" y="188.70" width="84.7" height="74.5" rx="2.5" fill="#fff" stroke="#d9d9d9" stroke-width="1"/>
<line x1="583.40" y1="196.10" x2="603.20" y2="196.10" stroke="#151515" stroke-width="1.5"/>
<text x="610.30" y="199.70" font-family='"Liberation Sans", sans-serif' font-size="9.8" fill="#222">0mT (T2-)</text>
<line x1="583.40" y1="210.70" x2="603.20" y2="210.70" stroke="#3f72b8" stroke-width="1.5"/>
<text x="610.30" y="214.30" font-family='"Liberation Sans", sans-serif' font-size="9.8" fill="#222">16mT (H<tspan font-size="6.5" dy="2">c1</tspan><tspan dy="-2">)</tspan></text>
<line x1="583.40" y1="225.30" x2="603.20" y2="225.30" stroke="#4f9c44" stroke-width="1.5"/>
<text x="610.30" y="228.90" font-family='"Liberation Sans", sans-serif' font-size="9.8" fill="#222">21mT (T4)</text>
<line x1="583.40" y1="239.90" x2="603.20" y2="239.90" stroke="#e17c28" stroke-width="1.5"/>
<text x="610.30" y="243.50" font-family='"Liberation Sans", sans-serif' font-size="9.8" fill="#222">25mT (H<tspan font-size="6.5" dy="2">c2</tspan><tspan dy="-2">)</tspan></text>
<line x1="583.40" y1="254.50" x2="603.20" y2="254.50" stroke="#bd2b2b" stroke-width="1.5"/>
<text x="610.30" y="258.10" font-family='"Liberation Sans", sans-serif' font-size="9.8" fill="#222">40mT (T2+)</text>
<text x="251.40" y="321.30" font-family='"Liberation Sans", sans-serif' font-size="10.2" fill="#222">μ</text>
<text x="257.10" y="325.00" font-family='"Liberation Sans", sans-serif' font-size="10.0" fill="#222">0</text>
<text x="263.30" y="321.30" font-family='"Liberation Sans", sans-serif' font-size="10.4" fill="#222">H</text>
<text x="271.40" y="323.40" font-family='"Liberation Sans", sans-serif' font-size="10.0" fill="#222">prep</text>
<text x="295.10" y="321.70" font-family='"Liberation Sans", sans-serif' font-size="10.4" fill="#222">(mT)</text>
<rect x="245.80" y="328.00" width="84.7" height="74.5" rx="2.5" fill="#fff" stroke="#d9d9d9" stroke-width="1"/>
<line x1="249.20" y1="335.40" x2="269.00" y2="335.40" stroke="#151515" stroke-width="1.5"/>
<text x="276.20" y="339.00" font-family='"Liberation Sans", sans-serif' font-size="9.8" fill="#222">0mT (T2-)</text>
<line x1="249.20" y1="350.00" x2="269.00" y2="350.00" stroke="#3f72b8" stroke-width="1.5"/>
<text x="276.20" y="353.60" font-family='"Liberation Sans", sans-serif' font-size="9.8" fill="#222">16mT (H<tspan font-size="6.5" dy="2">c1</tspan><tspan dy="-2">)</tspan></text>
<line x1="249.20" y1="364.60" x2="269.00" y2="364.60" stroke="#4f9c44" stroke-width="1.5"/>
<text x="276.20" y="368.20" font-family='"Liberation Sans", sans-serif' font-size="9.8" fill="#222">24mT (T1)</text>
<line x1="249.20" y1="379.20" x2="269.00" y2="379.20" stroke="#e17c28" stroke-width="1.5"/>
<text x="276.20" y="382.80" font-family='"Liberation Sans", sans-serif' font-size="9.8" fill="#222">32mT (H<tspan font-size="6.5" dy="2">c2</tspan><tspan dy="-2">)</tspan></text>
<line x1="249.20" y1="393.80" x2="269.00" y2="393.80" stroke="#bd2b2b" stroke-width="1.5"/>
<text x="276.20" y="397.40" font-family='"Liberation Sans", sans-serif' font-size="9.8" fill="#222">40mT (T2+)</text>
<text x="587.20" y="321.30" font-family='"Liberation Sans", sans-serif' font-size="10.2" fill="#222">μ</text>
<text x="592.90" y="325.00" font-family='"Liberation Sans", sans-serif' font-size="10.0" fill="#222">0</text>
<text x="599.10" y="321.30" font-family='"Liberation Sans", sans-serif' font-size="10.4" fill="#222">H</text>
<text x="607.20" y="323.40" font-family='"Liberation Sans", sans-serif' font-size="10.0" fill="#222">prep</text>
<text x="630.90" y="321.70" font-family='"Liberation Sans", sans-serif' font-size="10.4" fill="#222">(mT)</text>
<rect x="578.00" y="328.00" width="84.7" height="74.5" rx="2.5" fill="#fff" stroke="#d9d9d9" stroke-width="1"/>
<line x1="581.70" y1="335.40" x2="601.50" y2="335.40" stroke="#151515" stroke-width="1.5"/>
<text x="608.60" y="339.00" font-family='"Liberation Sans", sans-serif' font-size="9.8" fill="#222">0mT (T2-)</text>
<line x1="581.70" y1="350.00" x2="601.50" y2="350.00" stroke="#3f72b8" stroke-width="1.5"/>
<text x="608.60" y="353.60" font-family='"Liberation Sans", sans-serif' font-size="9.8" fill="#222">15mT (H<tspan font-size="6.5" dy="2">c1</tspan><tspan dy="-2">)</tspan></text>
<line x1="581.70" y1="364.60" x2="601.50" y2="364.60" stroke="#4f9c44" stroke-width="1.5"/>
<text x="608.60" y="368.20" font-family='"Liberation Sans", sans-serif' font-size="9.8" fill="#222">18mT (T4)</text>
<line x1="581.70" y1="379.20" x2="601.50" y2="379.20" stroke="#e17c28" stroke-width="1.5"/>
<text x="608.60" y="382.80" font-family='"Liberation Sans", sans-serif' font-size="9.8" fill="#222">22mT (H<tspan font-size="6.5" dy="2">c2</tspan><tspan dy="-2">)</tspan></text>
<line x1="581.70" y1="393.80" x2="601.50" y2="393.80" stroke="#bd2b2b" stroke-width="1.5"/>
<text x="608.60" y="397.40" font-family='"Liberation Sans", sans-serif' font-size="9.8" fill="#222">40mT (T2+)</text>
</svg></body></html>
